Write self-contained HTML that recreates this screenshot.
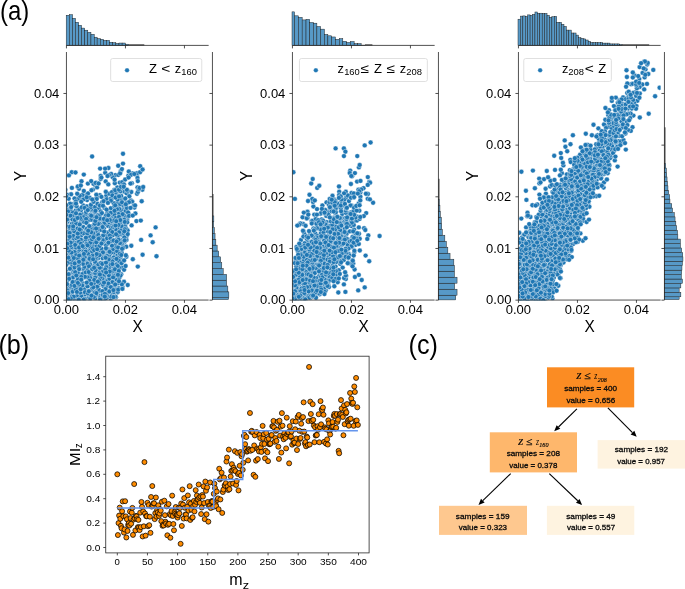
<!DOCTYPE html>
<html><head><meta charset="utf-8"><style>
html,body{margin:0;padding:0;background:#fff;overflow:hidden}
svg{display:block;will-change:transform}
text{font-family:'Liberation Sans',sans-serif;fill:#000}
</style></head><body>
<svg width="685" height="589" viewBox="0 0 685 589">
<clipPath id="c0"><rect x="66.45" y="52" width="142.2" height="248.15"/></clipPath><g clip-path="url(#c0)" fill="#1f77b4" stroke="#fff" stroke-width="0.4"><circle cx="112.3" cy="294.2" r="2.45"/><circle cx="136.4" cy="221.1" r="2.45"/><circle cx="111.5" cy="248.1" r="2.45"/><circle cx="122.5" cy="191.2" r="2.45"/><circle cx="66.7" cy="298.2" r="2.45"/><circle cx="99.8" cy="195.2" r="2.45"/><circle cx="137" cy="193.7" r="2.45"/><circle cx="99.7" cy="251.9" r="2.45"/><circle cx="104.2" cy="243.4" r="2.45"/><circle cx="122.5" cy="287" r="2.45"/><circle cx="86.2" cy="232.4" r="2.45"/><circle cx="88.5" cy="260.9" r="2.45"/><circle cx="122.7" cy="235.4" r="2.45"/><circle cx="123.7" cy="204.6" r="2.45"/><circle cx="87.9" cy="183.6" r="2.45"/><circle cx="69.6" cy="269.1" r="2.45"/><circle cx="126.5" cy="240" r="2.45"/><circle cx="103" cy="256" r="2.45"/><circle cx="87.7" cy="256.3" r="2.45"/><circle cx="91.1" cy="226.4" r="2.45"/><circle cx="128.3" cy="175.7" r="2.45"/><circle cx="102.2" cy="282.6" r="2.45"/><circle cx="89.8" cy="261" r="2.45"/><circle cx="83.2" cy="205.4" r="2.45"/><circle cx="89.3" cy="247" r="2.45"/><circle cx="107.3" cy="235.8" r="2.45"/><circle cx="72.5" cy="273" r="2.45"/><circle cx="117.4" cy="292.6" r="2.45"/><circle cx="113.3" cy="222" r="2.45"/><circle cx="85.7" cy="242.6" r="2.45"/><circle cx="86" cy="260.6" r="2.45"/><circle cx="93.6" cy="244.8" r="2.45"/><circle cx="65.4" cy="260.9" r="2.45"/><circle cx="117.6" cy="262.9" r="2.45"/><circle cx="99.1" cy="217" r="2.45"/><circle cx="91.7" cy="287.5" r="2.45"/><circle cx="82.6" cy="286.9" r="2.45"/><circle cx="97.5" cy="264" r="2.45"/><circle cx="116.4" cy="282.6" r="2.45"/><circle cx="131.3" cy="192" r="2.45"/><circle cx="110.7" cy="234" r="2.45"/><circle cx="116.3" cy="279.4" r="2.45"/><circle cx="91" cy="252.5" r="2.45"/><circle cx="66" cy="270.9" r="2.45"/><circle cx="121.1" cy="199.8" r="2.45"/><circle cx="85.5" cy="232.2" r="2.45"/><circle cx="114.7" cy="209.8" r="2.45"/><circle cx="67.6" cy="221.7" r="2.45"/><circle cx="125" cy="225.6" r="2.45"/><circle cx="109.6" cy="290.4" r="2.45"/><circle cx="64.3" cy="238.2" r="2.45"/><circle cx="77.4" cy="297.7" r="2.45"/><circle cx="58.6" cy="213.5" r="2.45"/><circle cx="73.3" cy="242.1" r="2.45"/><circle cx="110.2" cy="213.7" r="2.45"/><circle cx="113.6" cy="266.7" r="2.45"/><circle cx="122.7" cy="216.4" r="2.45"/><circle cx="83.5" cy="270.2" r="2.45"/><circle cx="104.2" cy="279.5" r="2.45"/><circle cx="105.4" cy="234.1" r="2.45"/><circle cx="92" cy="236.5" r="2.45"/><circle cx="68.9" cy="261.2" r="2.45"/><circle cx="118.2" cy="207" r="2.45"/><circle cx="123.1" cy="209.2" r="2.45"/><circle cx="72.7" cy="250.7" r="2.45"/><circle cx="117.4" cy="232.4" r="2.45"/><circle cx="118.5" cy="288.3" r="2.45"/><circle cx="84.1" cy="265.6" r="2.45"/><circle cx="97.6" cy="234.6" r="2.45"/><circle cx="119.8" cy="212.2" r="2.45"/><circle cx="83.3" cy="227" r="2.45"/><circle cx="79.7" cy="288.4" r="2.45"/><circle cx="113" cy="250.4" r="2.45"/><circle cx="123.7" cy="199.5" r="2.45"/><circle cx="116.4" cy="194" r="2.45"/><circle cx="110.5" cy="262.5" r="2.45"/><circle cx="87" cy="223.3" r="2.45"/><circle cx="81" cy="294.5" r="2.45"/><circle cx="69.3" cy="287.7" r="2.45"/><circle cx="105.7" cy="181.4" r="2.45"/><circle cx="107.2" cy="271.6" r="2.45"/><circle cx="82.2" cy="214.2" r="2.45"/><circle cx="99.7" cy="269.4" r="2.45"/><circle cx="66" cy="276" r="2.45"/><circle cx="79.4" cy="232.1" r="2.45"/><circle cx="131.8" cy="183.3" r="2.45"/><circle cx="55.2" cy="266.2" r="2.45"/><circle cx="81.2" cy="230.5" r="2.45"/><circle cx="117.3" cy="187.5" r="2.45"/><circle cx="98.3" cy="231.2" r="2.45"/><circle cx="119.8" cy="182.6" r="2.45"/><circle cx="83" cy="297.7" r="2.45"/><circle cx="87.1" cy="200.1" r="2.45"/><circle cx="131.6" cy="225.4" r="2.45"/><circle cx="108.9" cy="250.7" r="2.45"/><circle cx="77.2" cy="260.4" r="2.45"/><circle cx="121.1" cy="219.7" r="2.45"/><circle cx="115.4" cy="175.1" r="2.45"/><circle cx="110.8" cy="208.3" r="2.45"/><circle cx="106.2" cy="198.6" r="2.45"/><circle cx="121.7" cy="250.4" r="2.45"/><circle cx="112.8" cy="240.9" r="2.45"/><circle cx="102.7" cy="258.3" r="2.45"/><circle cx="92.2" cy="276.5" r="2.45"/><circle cx="71" cy="294.8" r="2.45"/><circle cx="74.8" cy="247.7" r="2.45"/><circle cx="59" cy="282.2" r="2.45"/><circle cx="103.4" cy="299.6" r="2.45"/><circle cx="103.5" cy="292.8" r="2.45"/><circle cx="96" cy="230.9" r="2.45"/><circle cx="76.7" cy="231.2" r="2.45"/><circle cx="71.4" cy="276.5" r="2.45"/><circle cx="97.1" cy="214.9" r="2.45"/><circle cx="77.8" cy="187.2" r="2.45"/><circle cx="121.2" cy="196" r="2.45"/><circle cx="107.3" cy="248.9" r="2.45"/><circle cx="74" cy="261.4" r="2.45"/><circle cx="71.2" cy="289.4" r="2.45"/><circle cx="87.8" cy="215.5" r="2.45"/><circle cx="114.4" cy="206.3" r="2.45"/><circle cx="92.8" cy="290.4" r="2.45"/><circle cx="80.4" cy="199.2" r="2.45"/><circle cx="71" cy="238.5" r="2.45"/><circle cx="60.9" cy="212.6" r="2.45"/><circle cx="120.8" cy="258.5" r="2.45"/><circle cx="98.4" cy="241.1" r="2.45"/><circle cx="95.3" cy="298.4" r="2.45"/><circle cx="85.8" cy="214.1" r="2.45"/><circle cx="119.7" cy="199.6" r="2.45"/><circle cx="120.6" cy="234" r="2.45"/><circle cx="93.4" cy="242.2" r="2.45"/><circle cx="85.4" cy="249.1" r="2.45"/><circle cx="96.2" cy="238.6" r="2.45"/><circle cx="130.8" cy="200.5" r="2.45"/><circle cx="97.2" cy="196.9" r="2.45"/><circle cx="69.7" cy="288.9" r="2.45"/><circle cx="96.2" cy="208.5" r="2.45"/><circle cx="118.7" cy="213.2" r="2.45"/><circle cx="84.5" cy="287.9" r="2.45"/><circle cx="127.1" cy="219.8" r="2.45"/><circle cx="86.1" cy="253.7" r="2.45"/><circle cx="65.4" cy="233" r="2.45"/><circle cx="95" cy="239.2" r="2.45"/><circle cx="66.7" cy="294.8" r="2.45"/><circle cx="108.3" cy="253" r="2.45"/><circle cx="107.7" cy="267.8" r="2.45"/><circle cx="126.3" cy="213.1" r="2.45"/><circle cx="96.6" cy="291.1" r="2.45"/><circle cx="84" cy="270.4" r="2.45"/><circle cx="71.7" cy="263.9" r="2.45"/><circle cx="84" cy="245.6" r="2.45"/><circle cx="115.1" cy="253.6" r="2.45"/><circle cx="121.4" cy="240.5" r="2.45"/><circle cx="98.1" cy="254.3" r="2.45"/><circle cx="124.3" cy="215.4" r="2.45"/><circle cx="75.1" cy="299.6" r="2.45"/><circle cx="126.4" cy="256.8" r="2.45"/><circle cx="98.8" cy="208.4" r="2.45"/><circle cx="99.8" cy="296.1" r="2.45"/><circle cx="110.7" cy="298.6" r="2.45"/><circle cx="101.5" cy="196.9" r="2.45"/><circle cx="60.7" cy="245.3" r="2.45"/><circle cx="108.6" cy="261.6" r="2.45"/><circle cx="103" cy="273.9" r="2.45"/><circle cx="108.3" cy="184.4" r="2.45"/><circle cx="92.4" cy="274" r="2.45"/><circle cx="95" cy="185.1" r="2.45"/><circle cx="72.8" cy="204.2" r="2.45"/><circle cx="57.8" cy="245.2" r="2.45"/><circle cx="65.1" cy="210.2" r="2.45"/><circle cx="93.1" cy="214" r="2.45"/><circle cx="121.7" cy="262.8" r="2.45"/><circle cx="62.2" cy="289.8" r="2.45"/><circle cx="64.2" cy="276.3" r="2.45"/><circle cx="71.1" cy="228.4" r="2.45"/><circle cx="95.2" cy="275.9" r="2.45"/><circle cx="79.5" cy="254.1" r="2.45"/><circle cx="94.5" cy="273.3" r="2.45"/><circle cx="94.9" cy="199.5" r="2.45"/><circle cx="84.2" cy="259.8" r="2.45"/><circle cx="71.8" cy="255.9" r="2.45"/><circle cx="112" cy="198.7" r="2.45"/><circle cx="116.2" cy="266.3" r="2.45"/><circle cx="105.1" cy="239.6" r="2.45"/><circle cx="132.4" cy="173.4" r="2.45"/><circle cx="64.3" cy="269.5" r="2.45"/><circle cx="93.4" cy="220.3" r="2.45"/><circle cx="75" cy="233.9" r="2.45"/><circle cx="77" cy="295.7" r="2.45"/><circle cx="89.5" cy="239.6" r="2.45"/><circle cx="96.2" cy="294.7" r="2.45"/><circle cx="86.8" cy="243.6" r="2.45"/><circle cx="78.2" cy="245.2" r="2.45"/><circle cx="116.4" cy="264.5" r="2.45"/><circle cx="73.1" cy="298.4" r="2.45"/><circle cx="112.9" cy="273.2" r="2.45"/><circle cx="120.7" cy="171.2" r="2.45"/><circle cx="105.7" cy="287.9" r="2.45"/><circle cx="112.8" cy="234.4" r="2.45"/><circle cx="88.3" cy="297.8" r="2.45"/><circle cx="76.7" cy="242.9" r="2.45"/><circle cx="88" cy="218" r="2.45"/><circle cx="70.4" cy="286.6" r="2.45"/><circle cx="120.6" cy="229" r="2.45"/><circle cx="66.6" cy="273.6" r="2.45"/><circle cx="96.5" cy="275.5" r="2.45"/><circle cx="106.9" cy="264.8" r="2.45"/><circle cx="59.4" cy="253.6" r="2.45"/><circle cx="104.4" cy="275.9" r="2.45"/><circle cx="64.1" cy="212.7" r="2.45"/><circle cx="122.3" cy="182.2" r="2.45"/><circle cx="125.8" cy="255.3" r="2.45"/><circle cx="107.7" cy="297.1" r="2.45"/><circle cx="92.9" cy="231.9" r="2.45"/><circle cx="87.5" cy="207" r="2.45"/><circle cx="89.3" cy="236.3" r="2.45"/><circle cx="109.7" cy="281.2" r="2.45"/><circle cx="117.6" cy="255.2" r="2.45"/><circle cx="102.8" cy="271.1" r="2.45"/><circle cx="118.4" cy="251.4" r="2.45"/><circle cx="64.3" cy="282" r="2.45"/><circle cx="129.1" cy="214.8" r="2.45"/><circle cx="96.7" cy="267.8" r="2.45"/><circle cx="102.9" cy="275.5" r="2.45"/><circle cx="113.8" cy="284.5" r="2.45"/><circle cx="71.7" cy="172.3" r="2.45"/><circle cx="66.8" cy="278.7" r="2.45"/><circle cx="114.2" cy="190" r="2.45"/><circle cx="117.8" cy="227.7" r="2.45"/><circle cx="112.7" cy="177.2" r="2.45"/><circle cx="83.6" cy="199.3" r="2.45"/><circle cx="73.7" cy="276.3" r="2.45"/><circle cx="125.4" cy="216.4" r="2.45"/><circle cx="102.3" cy="278.7" r="2.45"/><circle cx="95.3" cy="273.1" r="2.45"/><circle cx="72.5" cy="226.8" r="2.45"/><circle cx="109.9" cy="225" r="2.45"/><circle cx="93.5" cy="228.2" r="2.45"/><circle cx="84.9" cy="294.6" r="2.45"/><circle cx="65.2" cy="222.1" r="2.45"/><circle cx="78.3" cy="224.2" r="2.45"/><circle cx="91.5" cy="266.7" r="2.45"/><circle cx="69.2" cy="228.1" r="2.45"/><circle cx="114.8" cy="183.2" r="2.45"/><circle cx="121.3" cy="230.2" r="2.45"/><circle cx="119.5" cy="277.6" r="2.45"/><circle cx="115.9" cy="297.2" r="2.45"/><circle cx="120.1" cy="258" r="2.45"/><circle cx="99.9" cy="291.3" r="2.45"/><circle cx="86.8" cy="206.4" r="2.45"/><circle cx="109.3" cy="283.3" r="2.45"/><circle cx="100.5" cy="277.4" r="2.45"/><circle cx="77.3" cy="252.9" r="2.45"/><circle cx="89.4" cy="275.3" r="2.45"/><circle cx="61.2" cy="299.4" r="2.45"/><circle cx="107.7" cy="225.8" r="2.45"/><circle cx="136.8" cy="175.4" r="2.45"/><circle cx="91.6" cy="210.1" r="2.45"/><circle cx="78.6" cy="272.8" r="2.45"/><circle cx="119.1" cy="256.9" r="2.45"/><circle cx="92.1" cy="288.6" r="2.45"/><circle cx="114" cy="292.1" r="2.45"/><circle cx="69.2" cy="215.2" r="2.45"/><circle cx="117.1" cy="202.4" r="2.45"/><circle cx="109.6" cy="267.1" r="2.45"/><circle cx="79" cy="275.8" r="2.45"/><circle cx="79.5" cy="235.8" r="2.45"/><circle cx="96.3" cy="194.8" r="2.45"/><circle cx="73.8" cy="252.6" r="2.45"/><circle cx="111.7" cy="217.9" r="2.45"/><circle cx="121.5" cy="226" r="2.45"/><circle cx="126.1" cy="228.5" r="2.45"/><circle cx="101.3" cy="267.4" r="2.45"/><circle cx="62.7" cy="243.9" r="2.45"/><circle cx="70.5" cy="232.6" r="2.45"/><circle cx="71.9" cy="223.8" r="2.45"/><circle cx="89.6" cy="197.7" r="2.45"/><circle cx="117.8" cy="237.3" r="2.45"/><circle cx="122.6" cy="204.8" r="2.45"/><circle cx="67.4" cy="280.6" r="2.45"/><circle cx="76" cy="221.1" r="2.45"/><circle cx="58.3" cy="275.2" r="2.45"/><circle cx="97.8" cy="247.4" r="2.45"/><circle cx="122.2" cy="188.3" r="2.45"/><circle cx="96.7" cy="183" r="2.45"/><circle cx="98.4" cy="285.9" r="2.45"/><circle cx="125.2" cy="179.5" r="2.45"/><circle cx="97.7" cy="221.5" r="2.45"/><circle cx="77.1" cy="281.1" r="2.45"/><circle cx="60.9" cy="271.4" r="2.45"/><circle cx="72.7" cy="237.1" r="2.45"/><circle cx="87.3" cy="269.4" r="2.45"/><circle cx="68.4" cy="254.2" r="2.45"/><circle cx="109" cy="222.2" r="2.45"/><circle cx="122.4" cy="267.8" r="2.45"/><circle cx="137" cy="173.3" r="2.45"/><circle cx="126.8" cy="235.7" r="2.45"/><circle cx="90.4" cy="278.1" r="2.45"/><circle cx="88.7" cy="258.6" r="2.45"/><circle cx="72.5" cy="277.5" r="2.45"/><circle cx="107.5" cy="212.3" r="2.45"/><circle cx="109.8" cy="275.7" r="2.45"/><circle cx="113.7" cy="257.5" r="2.45"/><circle cx="89.9" cy="232.5" r="2.45"/><circle cx="99.9" cy="298" r="2.45"/><circle cx="78.3" cy="250.9" r="2.45"/><circle cx="113.5" cy="274.4" r="2.45"/><circle cx="102.8" cy="239.9" r="2.45"/><circle cx="121.2" cy="274.3" r="2.45"/><circle cx="74" cy="238.5" r="2.45"/><circle cx="111.1" cy="296.6" r="2.45"/><circle cx="123.3" cy="245.5" r="2.45"/><circle cx="68.1" cy="219.1" r="2.45"/><circle cx="68.9" cy="208.9" r="2.45"/><circle cx="109.9" cy="258.8" r="2.45"/><circle cx="117" cy="239.5" r="2.45"/><circle cx="124.7" cy="191.7" r="2.45"/><circle cx="123.2" cy="261" r="2.45"/><circle cx="88.8" cy="251.1" r="2.45"/><circle cx="107.1" cy="232.4" r="2.45"/><circle cx="83.3" cy="251.1" r="2.45"/><circle cx="80.9" cy="210.2" r="2.45"/><circle cx="89.6" cy="293.6" r="2.45"/><circle cx="126.1" cy="206.1" r="2.45"/><circle cx="69.2" cy="226.6" r="2.45"/><circle cx="99.2" cy="289.9" r="2.45"/><circle cx="120.2" cy="191.4" r="2.45"/><circle cx="71.7" cy="263.1" r="2.45"/><circle cx="108.6" cy="278.5" r="2.45"/><circle cx="83.9" cy="289.3" r="2.45"/><circle cx="115.2" cy="286.8" r="2.45"/><circle cx="75.7" cy="210.4" r="2.45"/><circle cx="103.5" cy="286.3" r="2.45"/><circle cx="84.7" cy="277.4" r="2.45"/><circle cx="90.6" cy="248.6" r="2.45"/><circle cx="82.3" cy="240" r="2.45"/><circle cx="109.4" cy="254.9" r="2.45"/><circle cx="110.8" cy="227.8" r="2.45"/><circle cx="63" cy="222" r="2.45"/><circle cx="78" cy="209.8" r="2.45"/><circle cx="126.6" cy="193.3" r="2.45"/><circle cx="104.6" cy="208.1" r="2.45"/><circle cx="115.1" cy="275.5" r="2.45"/><circle cx="73.6" cy="284.8" r="2.45"/><circle cx="104.9" cy="224.1" r="2.45"/><circle cx="100.7" cy="175.9" r="2.45"/><circle cx="120.8" cy="210.1" r="2.45"/><circle cx="64.8" cy="280.3" r="2.45"/><circle cx="114" cy="259.9" r="2.45"/><circle cx="99.4" cy="246.7" r="2.45"/><circle cx="90" cy="264.4" r="2.45"/><circle cx="115.4" cy="229.3" r="2.45"/><circle cx="75" cy="281.7" r="2.45"/><circle cx="89.6" cy="246" r="2.45"/><circle cx="81.3" cy="293.6" r="2.45"/><circle cx="112.4" cy="261.4" r="2.45"/><circle cx="81.3" cy="235.3" r="2.45"/><circle cx="98.5" cy="228.8" r="2.45"/><circle cx="104.2" cy="263.2" r="2.45"/><circle cx="71.9" cy="267" r="2.45"/><circle cx="75.3" cy="205.5" r="2.45"/><circle cx="84.3" cy="289.4" r="2.45"/><circle cx="92.6" cy="252.7" r="2.45"/><circle cx="101.5" cy="230.1" r="2.45"/><circle cx="125.9" cy="209.9" r="2.45"/><circle cx="66.9" cy="244.6" r="2.45"/><circle cx="72.9" cy="256.5" r="2.45"/><circle cx="124.2" cy="219.7" r="2.45"/><circle cx="113.7" cy="252.3" r="2.45"/><circle cx="93.1" cy="209.8" r="2.45"/><circle cx="100.7" cy="211.5" r="2.45"/><circle cx="82.2" cy="241.3" r="2.45"/><circle cx="140.1" cy="172.2" r="2.45"/><circle cx="113.5" cy="216" r="2.45"/><circle cx="106.9" cy="281.3" r="2.45"/><circle cx="90.5" cy="214.7" r="2.45"/><circle cx="121.8" cy="221.5" r="2.45"/><circle cx="61.1" cy="265.5" r="2.45"/><circle cx="137.5" cy="177.9" r="2.45"/><circle cx="111.8" cy="221.3" r="2.45"/><circle cx="112.6" cy="246.4" r="2.45"/><circle cx="61.1" cy="268.1" r="2.45"/><circle cx="79.2" cy="209" r="2.45"/><circle cx="115.3" cy="296.6" r="2.45"/><circle cx="103.7" cy="252.8" r="2.45"/><circle cx="115.6" cy="271.7" r="2.45"/><circle cx="118" cy="283.2" r="2.45"/><circle cx="94" cy="224.8" r="2.45"/><circle cx="124.1" cy="269.8" r="2.45"/><circle cx="109.5" cy="278.7" r="2.45"/><circle cx="81.5" cy="181.3" r="2.45"/><circle cx="79.9" cy="214.6" r="2.45"/><circle cx="105.6" cy="283.9" r="2.45"/><circle cx="82.1" cy="256" r="2.45"/><circle cx="127.6" cy="190.8" r="2.45"/><circle cx="102.6" cy="219.7" r="2.45"/><circle cx="82.4" cy="274.1" r="2.45"/><circle cx="86.4" cy="194.9" r="2.45"/><circle cx="104.2" cy="223" r="2.45"/><circle cx="124" cy="281.8" r="2.45"/><circle cx="71.1" cy="194.3" r="2.45"/><circle cx="125.6" cy="266" r="2.45"/><circle cx="118.9" cy="260.8" r="2.45"/><circle cx="70" cy="247.7" r="2.45"/><circle cx="102.2" cy="202.3" r="2.45"/><circle cx="124" cy="184.5" r="2.45"/><circle cx="85.8" cy="272.4" r="2.45"/><circle cx="58.5" cy="278.5" r="2.45"/><circle cx="100" cy="215.2" r="2.45"/><circle cx="95.6" cy="236.1" r="2.45"/><circle cx="100.8" cy="243.6" r="2.45"/><circle cx="103.3" cy="251.1" r="2.45"/><circle cx="100.2" cy="263.1" r="2.45"/><circle cx="90.3" cy="242.7" r="2.45"/><circle cx="72.3" cy="212.2" r="2.45"/><circle cx="73" cy="289.9" r="2.45"/><circle cx="82.5" cy="194.9" r="2.45"/><circle cx="91.2" cy="282.1" r="2.45"/><circle cx="112.7" cy="235.4" r="2.45"/><circle cx="129.3" cy="196.3" r="2.45"/><circle cx="109.9" cy="272.5" r="2.45"/><circle cx="120.5" cy="275.5" r="2.45"/><circle cx="87.6" cy="277.5" r="2.45"/><circle cx="100.7" cy="179" r="2.45"/><circle cx="121.7" cy="252.9" r="2.45"/><circle cx="68.4" cy="240.2" r="2.45"/><circle cx="86.4" cy="229.4" r="2.45"/><circle cx="111.3" cy="252.5" r="2.45"/><circle cx="74.6" cy="252" r="2.45"/><circle cx="90.9" cy="219.8" r="2.45"/><circle cx="102.7" cy="297.3" r="2.45"/><circle cx="106.9" cy="255.9" r="2.45"/><circle cx="100.8" cy="224.9" r="2.45"/><circle cx="93" cy="189.6" r="2.45"/><circle cx="119.8" cy="222.7" r="2.45"/><circle cx="106.8" cy="244.5" r="2.45"/><circle cx="107.4" cy="271.4" r="2.45"/><circle cx="119.2" cy="209" r="2.45"/><circle cx="77.8" cy="198.7" r="2.45"/><circle cx="77.2" cy="270.2" r="2.45"/><circle cx="64.9" cy="243.4" r="2.45"/><circle cx="76.2" cy="255.3" r="2.45"/><circle cx="64" cy="295.2" r="2.45"/><circle cx="64.8" cy="239.8" r="2.45"/><circle cx="106.4" cy="195.5" r="2.45"/><circle cx="115" cy="211.7" r="2.45"/><circle cx="72.8" cy="270.2" r="2.45"/><circle cx="126.8" cy="189.7" r="2.45"/><circle cx="124.4" cy="241.9" r="2.45"/><circle cx="84.9" cy="292.2" r="2.45"/><circle cx="114.4" cy="214.7" r="2.45"/><circle cx="115.7" cy="217.9" r="2.45"/><circle cx="80.6" cy="222.7" r="2.45"/><circle cx="115.4" cy="192.3" r="2.45"/><circle cx="107.7" cy="286.3" r="2.45"/><circle cx="94.8" cy="264" r="2.45"/><circle cx="92.7" cy="255.3" r="2.45"/><circle cx="85.5" cy="283.5" r="2.45"/><circle cx="108.4" cy="168" r="2.45"/><circle cx="127" cy="202.6" r="2.45"/><circle cx="113" cy="270.7" r="2.45"/><circle cx="111.1" cy="173.9" r="2.45"/><circle cx="95.7" cy="224.6" r="2.45"/><circle cx="106.3" cy="235.7" r="2.45"/><circle cx="121.5" cy="263.2" r="2.45"/><circle cx="117.8" cy="246.2" r="2.45"/><circle cx="71" cy="247.4" r="2.45"/><circle cx="83.6" cy="233.4" r="2.45"/><circle cx="78.1" cy="267" r="2.45"/><circle cx="127.2" cy="222.3" r="2.45"/><circle cx="66" cy="251.1" r="2.45"/><circle cx="87" cy="228.6" r="2.45"/><circle cx="75.2" cy="217.3" r="2.45"/><circle cx="76.4" cy="287.3" r="2.45"/><circle cx="83.1" cy="221" r="2.45"/><circle cx="108.9" cy="275.2" r="2.45"/><circle cx="100.1" cy="299.6" r="2.45"/><circle cx="93.7" cy="280.7" r="2.45"/><circle cx="87.7" cy="220.8" r="2.45"/><circle cx="108.5" cy="232.9" r="2.45"/><circle cx="73.2" cy="235.8" r="2.45"/><circle cx="113.7" cy="203.2" r="2.45"/><circle cx="113.2" cy="249.1" r="2.45"/><circle cx="115.3" cy="245" r="2.45"/><circle cx="95" cy="211.9" r="2.45"/><circle cx="85.6" cy="239.4" r="2.45"/><circle cx="125.6" cy="211.1" r="2.45"/><circle cx="71.5" cy="284.9" r="2.45"/><circle cx="79.7" cy="195.8" r="2.45"/><circle cx="89.8" cy="299.6" r="2.45"/><circle cx="126.3" cy="246.7" r="2.45"/><circle cx="106.3" cy="267" r="2.45"/><circle cx="72.5" cy="231.3" r="2.45"/><circle cx="103.9" cy="228.6" r="2.45"/><circle cx="83.6" cy="217.3" r="2.45"/><circle cx="77.3" cy="228.5" r="2.45"/><circle cx="118.3" cy="174.9" r="2.45"/><circle cx="66.9" cy="235.8" r="2.45"/><circle cx="126.8" cy="207.9" r="2.45"/><circle cx="81.4" cy="260.9" r="2.45"/><circle cx="93.2" cy="233.3" r="2.45"/><circle cx="124.1" cy="260.4" r="2.45"/><circle cx="87.3" cy="233.5" r="2.45"/><circle cx="121.8" cy="284.3" r="2.45"/><circle cx="96.5" cy="246.3" r="2.45"/><circle cx="92.7" cy="216.2" r="2.45"/><circle cx="63.4" cy="224.4" r="2.45"/><circle cx="107.7" cy="291.2" r="2.45"/><circle cx="101.5" cy="248.7" r="2.45"/><circle cx="79.4" cy="249.6" r="2.45"/><circle cx="92.9" cy="294.6" r="2.45"/><circle cx="78.8" cy="282.4" r="2.45"/><circle cx="106" cy="245.5" r="2.45"/><circle cx="98" cy="283" r="2.45"/><circle cx="81.4" cy="296.4" r="2.45"/><circle cx="77.7" cy="272.8" r="2.45"/><circle cx="120.1" cy="234" r="2.45"/><circle cx="110.7" cy="264.7" r="2.45"/><circle cx="123.4" cy="232.9" r="2.45"/><circle cx="87.1" cy="284.1" r="2.45"/><circle cx="99.5" cy="246.1" r="2.45"/><circle cx="94.8" cy="206.9" r="2.45"/><circle cx="88" cy="193.4" r="2.45"/><circle cx="119" cy="267.5" r="2.45"/><circle cx="74.5" cy="198.5" r="2.45"/><circle cx="106.8" cy="199.2" r="2.45"/><circle cx="83.6" cy="268.2" r="2.45"/><circle cx="117.8" cy="273.7" r="2.45"/><circle cx="76.2" cy="263.7" r="2.45"/><circle cx="101.5" cy="243.5" r="2.45"/><circle cx="81.9" cy="282.8" r="2.45"/><circle cx="76.5" cy="238.4" r="2.45"/><circle cx="80.4" cy="279.6" r="2.45"/><circle cx="127.6" cy="230.4" r="2.45"/><circle cx="122.6" cy="214.2" r="2.45"/><circle cx="74.2" cy="231.3" r="2.45"/><circle cx="72.9" cy="277.6" r="2.45"/><circle cx="80.1" cy="292.6" r="2.45"/><circle cx="110.9" cy="212.7" r="2.45"/><circle cx="117.5" cy="199.4" r="2.45"/><circle cx="110.8" cy="198.7" r="2.45"/><circle cx="114.1" cy="286.1" r="2.45"/><circle cx="117" cy="209.2" r="2.45"/><circle cx="105.3" cy="269.4" r="2.45"/><circle cx="114.6" cy="179.7" r="2.45"/><circle cx="65.4" cy="189.8" r="2.45"/><circle cx="66.8" cy="255.9" r="2.45"/><circle cx="95" cy="292.5" r="2.45"/><circle cx="81.2" cy="201.8" r="2.45"/><circle cx="89.5" cy="280.7" r="2.45"/><circle cx="70.6" cy="208.9" r="2.45"/><circle cx="116.5" cy="247.2" r="2.45"/><circle cx="90.4" cy="207.3" r="2.45"/><circle cx="77.2" cy="193.7" r="2.45"/><circle cx="79.2" cy="299.6" r="2.45"/><circle cx="95.3" cy="262.4" r="2.45"/><circle cx="84.9" cy="276.8" r="2.45"/><circle cx="106.1" cy="249.3" r="2.45"/><circle cx="112.8" cy="227.4" r="2.45"/><circle cx="62.2" cy="283.3" r="2.45"/><circle cx="92" cy="239.2" r="2.45"/><circle cx="90" cy="228.5" r="2.45"/><circle cx="109.7" cy="271.5" r="2.45"/><circle cx="110.6" cy="230.4" r="2.45"/><circle cx="93.4" cy="183.8" r="2.45"/><circle cx="72.5" cy="259.9" r="2.45"/><circle cx="78.8" cy="299.6" r="2.45"/><circle cx="115.8" cy="289.6" r="2.45"/><circle cx="109.3" cy="193.7" r="2.45"/><circle cx="128.8" cy="171.5" r="2.45"/><circle cx="74.1" cy="270.2" r="2.45"/><circle cx="131.1" cy="174.8" r="2.45"/><circle cx="99.8" cy="267.7" r="2.45"/><circle cx="61.3" cy="282.9" r="2.45"/><circle cx="112" cy="192.1" r="2.45"/><circle cx="84" cy="221.9" r="2.45"/><circle cx="73.8" cy="222.7" r="2.45"/><circle cx="75.2" cy="272.1" r="2.45"/><circle cx="128.2" cy="216.5" r="2.45"/><circle cx="61.2" cy="248.5" r="2.45"/><circle cx="57.6" cy="294.4" r="2.45"/><circle cx="91" cy="204.8" r="2.45"/><circle cx="84.5" cy="266.7" r="2.45"/><circle cx="132.3" cy="201.8" r="2.45"/><circle cx="112.5" cy="282.1" r="2.45"/><circle cx="105.5" cy="289.1" r="2.45"/><circle cx="60.7" cy="294.9" r="2.45"/><circle cx="88.2" cy="253.9" r="2.45"/><circle cx="76.6" cy="206.1" r="2.45"/><circle cx="69.3" cy="259.6" r="2.45"/><circle cx="68" cy="211.5" r="2.45"/><circle cx="89.7" cy="257.3" r="2.45"/><circle cx="85.5" cy="251.6" r="2.45"/><circle cx="112.4" cy="195.4" r="2.45"/><circle cx="59.3" cy="274.9" r="2.45"/><circle cx="86.1" cy="218.9" r="2.45"/><circle cx="80.7" cy="239.6" r="2.45"/><circle cx="117.1" cy="251.2" r="2.45"/><circle cx="119.1" cy="232.3" r="2.45"/><circle cx="68" cy="232.3" r="2.45"/><circle cx="81.8" cy="207.4" r="2.45"/><circle cx="74.5" cy="267.4" r="2.45"/><circle cx="63.2" cy="273.5" r="2.45"/><circle cx="129" cy="202.2" r="2.45"/><circle cx="92.4" cy="269.5" r="2.45"/><circle cx="82.2" cy="285.5" r="2.45"/><circle cx="115.2" cy="190.2" r="2.45"/><circle cx="124.7" cy="221.9" r="2.45"/><circle cx="81.2" cy="276.9" r="2.45"/><circle cx="72.1" cy="292.5" r="2.45"/><circle cx="72.8" cy="291.6" r="2.45"/><circle cx="64.3" cy="265.3" r="2.45"/><circle cx="77.8" cy="279" r="2.45"/><circle cx="134.5" cy="207.6" r="2.45"/><circle cx="76" cy="247.5" r="2.45"/><circle cx="68.1" cy="243.4" r="2.45"/><circle cx="81" cy="219.2" r="2.45"/><circle cx="99.4" cy="223.5" r="2.45"/><circle cx="101.4" cy="177.6" r="2.45"/><circle cx="67" cy="289.9" r="2.45"/><circle cx="63" cy="298.3" r="2.45"/><circle cx="103.1" cy="235.5" r="2.45"/><circle cx="105.4" cy="257.3" r="2.45"/><circle cx="107.2" cy="295" r="2.45"/><circle cx="114.3" cy="225.6" r="2.45"/><circle cx="107.2" cy="238.3" r="2.45"/><circle cx="93.8" cy="297" r="2.45"/><circle cx="88.9" cy="294.1" r="2.45"/><circle cx="130.4" cy="183.6" r="2.45"/><circle cx="112.3" cy="232.1" r="2.45"/><circle cx="96.3" cy="242.3" r="2.45"/><circle cx="119" cy="216.9" r="2.45"/><circle cx="124.8" cy="229.3" r="2.45"/><circle cx="105.2" cy="172.8" r="2.45"/><circle cx="92.2" cy="251.4" r="2.45"/><circle cx="112.4" cy="264.1" r="2.45"/><circle cx="104.2" cy="231.5" r="2.45"/><circle cx="115.6" cy="197.6" r="2.45"/><circle cx="67.4" cy="285.6" r="2.45"/><circle cx="98.1" cy="224" r="2.45"/><circle cx="98.3" cy="235" r="2.45"/><circle cx="121.9" cy="243.8" r="2.45"/><circle cx="100" cy="218.6" r="2.45"/><circle cx="114.1" cy="220.4" r="2.45"/><circle cx="108.5" cy="283.7" r="2.45"/><circle cx="97.4" cy="203.8" r="2.45"/><circle cx="118.1" cy="247.5" r="2.45"/><circle cx="87.4" cy="263.8" r="2.45"/><circle cx="128.6" cy="177.5" r="2.45"/><circle cx="110.8" cy="287.1" r="2.45"/><circle cx="91.2" cy="215.7" r="2.45"/><circle cx="89" cy="266.3" r="2.45"/><circle cx="68.9" cy="274.9" r="2.45"/><circle cx="84.6" cy="207.9" r="2.45"/><circle cx="94.8" cy="223.8" r="2.45"/><circle cx="117.7" cy="266" r="2.45"/><circle cx="78.5" cy="258.5" r="2.45"/><circle cx="99.3" cy="273.1" r="2.45"/><circle cx="89.6" cy="258.8" r="2.45"/><circle cx="99.9" cy="205.6" r="2.45"/><circle cx="75.1" cy="244.9" r="2.45"/><circle cx="98.2" cy="258.2" r="2.45"/><circle cx="76" cy="289.6" r="2.45"/><circle cx="110.9" cy="200.8" r="2.45"/><circle cx="72.5" cy="282" r="2.45"/><circle cx="86.1" cy="212" r="2.45"/><circle cx="67.7" cy="263.2" r="2.45"/><circle cx="92.7" cy="248.4" r="2.45"/><circle cx="123.1" cy="241.6" r="2.45"/><circle cx="87.5" cy="286.4" r="2.45"/><circle cx="113.1" cy="277.4" r="2.45"/><circle cx="102.6" cy="227" r="2.45"/><circle cx="106" cy="248.2" r="2.45"/><circle cx="119" cy="189.7" r="2.45"/><circle cx="82.9" cy="263.9" r="2.45"/><circle cx="91.5" cy="190.2" r="2.45"/><circle cx="64.7" cy="291.3" r="2.45"/><circle cx="123.2" cy="248" r="2.45"/><circle cx="102.4" cy="291.2" r="2.45"/><circle cx="114.9" cy="269.3" r="2.45"/><circle cx="102.9" cy="284.5" r="2.45"/><circle cx="79.1" cy="265" r="2.45"/><circle cx="99.3" cy="280.3" r="2.45"/><circle cx="56.6" cy="261" r="2.45"/><circle cx="96.1" cy="228.5" r="2.45"/><circle cx="64.7" cy="267.3" r="2.45"/><circle cx="120.2" cy="204" r="2.45"/><circle cx="69.8" cy="299.6" r="2.45"/><circle cx="79" cy="241.7" r="2.45"/><circle cx="120.1" cy="173.4" r="2.45"/><circle cx="111.9" cy="245.6" r="2.45"/><circle cx="96.6" cy="257.4" r="2.45"/><circle cx="65.6" cy="258.1" r="2.45"/><circle cx="68.6" cy="274.2" r="2.45"/><circle cx="86.7" cy="282.6" r="2.45"/><circle cx="65.7" cy="225.7" r="2.45"/><circle cx="86.7" cy="197.3" r="2.45"/><circle cx="102.9" cy="252.4" r="2.45"/><circle cx="109.8" cy="235.6" r="2.45"/><circle cx="133.9" cy="205.5" r="2.45"/><circle cx="105.7" cy="298.4" r="2.45"/><circle cx="88" cy="293.4" r="2.45"/><circle cx="66" cy="265.1" r="2.45"/><circle cx="67.5" cy="294.8" r="2.45"/><circle cx="70.4" cy="245.3" r="2.45"/><circle cx="72.3" cy="215.8" r="2.45"/><circle cx="65.4" cy="217.4" r="2.45"/><circle cx="98.2" cy="264.3" r="2.45"/><circle cx="117.8" cy="291.8" r="2.45"/><circle cx="120" cy="243.1" r="2.45"/><circle cx="137.9" cy="191.9" r="2.45"/><circle cx="108" cy="215.9" r="2.45"/><circle cx="103" cy="205.8" r="2.45"/><circle cx="142.4" cy="189.7" r="2.45"/><circle cx="109.6" cy="251.8" r="2.45"/><circle cx="69.9" cy="268.7" r="2.45"/><circle cx="95.5" cy="259.9" r="2.45"/><circle cx="105.8" cy="191.8" r="2.45"/><circle cx="80.1" cy="218" r="2.45"/><circle cx="61.2" cy="287.8" r="2.45"/><circle cx="68.4" cy="257.6" r="2.45"/><circle cx="59.7" cy="291.1" r="2.45"/><circle cx="128.1" cy="212.5" r="2.45"/><circle cx="71.4" cy="252.6" r="2.45"/><circle cx="61.1" cy="256.5" r="2.45"/><circle cx="56.5" cy="283.7" r="2.45"/><circle cx="106.4" cy="293.6" r="2.45"/><circle cx="84.7" cy="298.9" r="2.45"/><circle cx="74.5" cy="285.9" r="2.45"/><circle cx="79.1" cy="284.6" r="2.45"/><circle cx="88.7" cy="272" r="2.45"/><circle cx="122" cy="202.3" r="2.45"/><circle cx="77.8" cy="237" r="2.45"/><circle cx="113.5" cy="297.1" r="2.45"/><circle cx="99.5" cy="255.1" r="2.45"/><circle cx="109.4" cy="291.5" r="2.45"/><circle cx="95.5" cy="270.2" r="2.45"/><circle cx="94.2" cy="283.1" r="2.45"/><circle cx="110.5" cy="238.5" r="2.45"/><circle cx="97.1" cy="187.4" r="2.45"/><circle cx="75.9" cy="201.5" r="2.45"/><circle cx="76" cy="203.6" r="2.45"/><circle cx="99.7" cy="238" r="2.45"/><circle cx="105.4" cy="216.8" r="2.45"/><circle cx="70" cy="203.6" r="2.45"/><circle cx="76.1" cy="223.5" r="2.45"/><circle cx="119.8" cy="253.8" r="2.45"/><circle cx="69.2" cy="278.8" r="2.45"/><circle cx="101.9" cy="213.1" r="2.45"/><circle cx="118.2" cy="289.6" r="2.45"/><circle cx="137.5" cy="187.4" r="2.45"/><circle cx="94.1" cy="250.1" r="2.45"/><circle cx="63.5" cy="266.9" r="2.45"/><circle cx="69" cy="216.2" r="2.45"/><circle cx="80.5" cy="232.5" r="2.45"/><circle cx="114.5" cy="210.8" r="2.45"/><circle cx="83.6" cy="247.3" r="2.45"/><circle cx="102.9" cy="294.9" r="2.45"/><circle cx="106.1" cy="215.5" r="2.45"/><circle cx="71.2" cy="207.1" r="2.45"/><circle cx="76.9" cy="291.9" r="2.45"/><circle cx="69.6" cy="233" r="2.45"/><circle cx="98.8" cy="283.3" r="2.45"/><circle cx="68.7" cy="198.7" r="2.45"/><circle cx="119.1" cy="196.4" r="2.45"/><circle cx="77.8" cy="258.5" r="2.45"/><circle cx="121.9" cy="169.1" r="2.45"/><circle cx="72.4" cy="219.4" r="2.45"/><circle cx="79" cy="188.7" r="2.45"/><circle cx="96.7" cy="199" r="2.45"/><circle cx="118.4" cy="225" r="2.45"/><circle cx="84.6" cy="257.3" r="2.45"/><circle cx="96.4" cy="293.1" r="2.45"/><circle cx="66.3" cy="205.2" r="2.45"/><circle cx="97.1" cy="286.7" r="2.45"/><circle cx="78.5" cy="267" r="2.45"/><circle cx="60.8" cy="291.7" r="2.45"/><circle cx="90.4" cy="298.3" r="2.45"/><circle cx="62.3" cy="233.9" r="2.45"/><circle cx="76" cy="213.3" r="2.45"/><circle cx="92.1" cy="156.5" r="2.45"/><circle cx="108.6" cy="259.5" r="2.45"/><circle cx="93.3" cy="287.3" r="2.45"/><circle cx="124.4" cy="237.5" r="2.45"/><circle cx="62.9" cy="261.8" r="2.45"/><circle cx="68.2" cy="293.1" r="2.45"/><circle cx="95.3" cy="220.9" r="2.45"/><circle cx="118.2" cy="165.8" r="2.45"/><circle cx="95.5" cy="210.8" r="2.45"/><circle cx="117.5" cy="235.6" r="2.45"/><circle cx="73.1" cy="228.5" r="2.45"/><circle cx="104.9" cy="293.9" r="2.45"/><circle cx="69.7" cy="236.8" r="2.45"/><circle cx="91.5" cy="295.6" r="2.45"/><circle cx="91.2" cy="232.2" r="2.45"/><circle cx="95.2" cy="277.6" r="2.45"/><circle cx="86.3" cy="222.8" r="2.45"/><circle cx="79.2" cy="269.1" r="2.45"/><circle cx="135.4" cy="213.5" r="2.45"/><circle cx="77.8" cy="233.5" r="2.45"/><circle cx="118.8" cy="271" r="2.45"/><circle cx="85.9" cy="237.6" r="2.45"/><circle cx="115.2" cy="284.5" r="2.45"/><circle cx="129" cy="215.9" r="2.45"/><circle cx="70.7" cy="242.6" r="2.45"/><circle cx="135.1" cy="205.4" r="2.45"/><circle cx="96.7" cy="254" r="2.45"/><circle cx="62.2" cy="293.3" r="2.45"/><circle cx="65.6" cy="254.2" r="2.45"/><circle cx="116.5" cy="258.9" r="2.45"/><circle cx="99.9" cy="274.5" r="2.45"/><circle cx="62.2" cy="256.8" r="2.45"/><circle cx="115.2" cy="205.3" r="2.45"/><circle cx="73.7" cy="296.6" r="2.45"/><circle cx="118.5" cy="239.8" r="2.45"/><circle cx="58.4" cy="251.7" r="2.45"/><circle cx="70.4" cy="215.6" r="2.45"/><circle cx="97.2" cy="249.3" r="2.45"/><circle cx="120.3" cy="220.1" r="2.45"/><circle cx="130.5" cy="207.9" r="2.45"/><circle cx="115.6" cy="225.5" r="2.45"/><circle cx="57.6" cy="273.9" r="2.45"/><circle cx="63.3" cy="259.9" r="2.45"/><circle cx="127.7" cy="234.1" r="2.45"/><circle cx="60.5" cy="242.9" r="2.45"/><circle cx="101" cy="262.9" r="2.45"/><circle cx="111.9" cy="241.2" r="2.45"/><circle cx="108.3" cy="215.2" r="2.45"/><circle cx="103.8" cy="218.9" r="2.45"/><circle cx="109.8" cy="220" r="2.45"/><circle cx="74.8" cy="220" r="2.45"/><circle cx="138.9" cy="189.3" r="2.45"/><circle cx="80.9" cy="243.8" r="2.45"/><circle cx="67.4" cy="243.8" r="2.45"/><circle cx="63.2" cy="237" r="2.45"/><circle cx="121.1" cy="186.8" r="2.45"/><circle cx="113.4" cy="290.1" r="2.45"/><circle cx="93.4" cy="237.3" r="2.45"/><circle cx="66.8" cy="194.6" r="2.45"/><circle cx="94.3" cy="279.9" r="2.45"/><circle cx="94.9" cy="261.7" r="2.45"/><circle cx="87.5" cy="245.3" r="2.45"/><circle cx="125.3" cy="198.5" r="2.45"/><circle cx="96.5" cy="217.2" r="2.45"/><circle cx="79.1" cy="247.5" r="2.45"/><circle cx="60.1" cy="273.5" r="2.45"/><circle cx="105.6" cy="257.8" r="2.45"/><circle cx="119" cy="281.2" r="2.45"/><circle cx="106.1" cy="272.5" r="2.45"/><circle cx="93.1" cy="259.3" r="2.45"/><circle cx="73.2" cy="226.4" r="2.45"/><circle cx="68.7" cy="250.6" r="2.45"/><circle cx="82.6" cy="246.1" r="2.45"/><circle cx="79.2" cy="255.6" r="2.45"/><circle cx="122.1" cy="248.8" r="2.45"/><circle cx="107.2" cy="220.3" r="2.45"/><circle cx="98.6" cy="238.8" r="2.45"/><circle cx="103.6" cy="201.2" r="2.45"/><circle cx="93.5" cy="201.8" r="2.45"/><circle cx="83.9" cy="253.9" r="2.45"/><circle cx="83.7" cy="299.6" r="2.45"/><circle cx="106.5" cy="209.6" r="2.45"/><circle cx="75.5" cy="172.5" r="2.45"/><circle cx="92.2" cy="199.5" r="2.45"/><circle cx="102.3" cy="263.9" r="2.45"/><circle cx="121.3" cy="255" r="2.45"/><circle cx="66.3" cy="214.8" r="2.45"/><circle cx="67.2" cy="248.2" r="2.45"/><circle cx="104.8" cy="296.6" r="2.45"/><circle cx="65" cy="285.7" r="2.45"/><circle cx="62.1" cy="249.3" r="2.45"/><circle cx="63.7" cy="286.2" r="2.45"/><circle cx="74.7" cy="263.4" r="2.45"/><circle cx="92.2" cy="269.1" r="2.45"/><circle cx="67.1" cy="219.6" r="2.45"/><circle cx="106" cy="262.6" r="2.45"/><circle cx="79.7" cy="224.5" r="2.45"/><circle cx="132.7" cy="215.6" r="2.45"/><circle cx="73.8" cy="258" r="2.45"/><circle cx="91.3" cy="283.9" r="2.45"/><circle cx="83.3" cy="259.7" r="2.45"/><circle cx="94.1" cy="267.8" r="2.45"/><circle cx="79.7" cy="229.5" r="2.45"/><circle cx="124.7" cy="240.4" r="2.45"/><circle cx="79" cy="261.8" r="2.45"/><circle cx="89.3" cy="226.2" r="2.45"/><circle cx="97.8" cy="281.6" r="2.45"/><circle cx="77.9" cy="282.9" r="2.45"/><circle cx="66.1" cy="196.3" r="2.45"/><circle cx="87.8" cy="210.1" r="2.45"/><circle cx="63.6" cy="278.4" r="2.45"/><circle cx="88.2" cy="230.7" r="2.45"/><circle cx="104" cy="282.6" r="2.45"/><circle cx="63.3" cy="252.4" r="2.45"/><circle cx="125.8" cy="204.3" r="2.45"/><circle cx="113.7" cy="240.5" r="2.45"/><circle cx="70.7" cy="298.5" r="2.45"/><circle cx="116.6" cy="241.5" r="2.45"/><circle cx="76.3" cy="275.5" r="2.45"/><circle cx="68.5" cy="299.2" r="2.45"/><circle cx="107.9" cy="202.9" r="2.45"/><circle cx="124.3" cy="231.3" r="2.45"/><circle cx="117.9" cy="274.8" r="2.45"/><circle cx="81.3" cy="279.7" r="2.45"/><circle cx="80.7" cy="289.3" r="2.45"/><circle cx="67.1" cy="284.1" r="2.45"/><circle cx="77.6" cy="218" r="2.45"/><circle cx="116.1" cy="234.3" r="2.45"/><circle cx="123.7" cy="186.7" r="2.45"/><circle cx="116.2" cy="221.2" r="2.45"/><circle cx="108.5" cy="242.7" r="2.45"/><circle cx="88.8" cy="291.2" r="2.45"/><circle cx="150.6" cy="235.4" r="2.45"/><circle cx="152.7" cy="242.3" r="2.45"/><circle cx="155.6" cy="227.4" r="2.45"/><circle cx="156.5" cy="256.2" r="2.45"/><circle cx="137.8" cy="266.6" r="2.45"/><circle cx="142.6" cy="254.7" r="2.45"/><circle cx="127.7" cy="285" r="2.45"/><circle cx="122.4" cy="288.9" r="2.45"/><circle cx="132.8" cy="259.2" r="2.45"/><circle cx="131.3" cy="245.8" r="2.45"/><circle cx="141.1" cy="239.9" r="2.45"/><circle cx="140.8" cy="220.6" r="2.45"/><circle cx="141.7" cy="201.3" r="2.45"/><circle cx="139.6" cy="187.9" r="2.45"/><circle cx="143.2" cy="187" r="2.45"/><circle cx="137.8" cy="181.1" r="2.45"/><circle cx="134.3" cy="174" r="2.45"/><circle cx="140.2" cy="166.2" r="2.45"/><circle cx="142.6" cy="169.5" r="2.45"/><circle cx="123" cy="153.8" r="2.45"/><circle cx="123" cy="163.6" r="2.45"/><circle cx="109" cy="175.1" r="2.45"/><circle cx="105.1" cy="168.6" r="2.45"/><circle cx="100.1" cy="168.6" r="2.45"/><circle cx="83.8" cy="174.6" r="2.45"/><circle cx="68.9" cy="175.4" r="2.45"/><circle cx="71.9" cy="187.9" r="2.45"/><circle cx="77.8" cy="186.4" r="2.45"/><circle cx="80.8" cy="185.5" r="2.45"/><circle cx="83.8" cy="190.9" r="2.45"/><circle cx="91.2" cy="181.1" r="2.45"/><circle cx="95.6" cy="182.9" r="2.45"/><circle cx="98.6" cy="183.5" r="2.45"/><circle cx="107.5" cy="176" r="2.45"/></g><g fill="#5799c7" stroke="#1a1a1a" stroke-width="0.45"><rect x="66.19" y="15.24" width="3.15" height="30.16"/><rect x="69.34" y="14.66" width="3.27" height="30.74"/><rect x="72.61" y="18.28" width="2.92" height="27.12"/><rect x="75.53" y="22.25" width="3.15" height="23.15"/><rect x="78.69" y="25.28" width="2.92" height="20.12"/><rect x="81.61" y="28.09" width="3.15" height="17.31"/><rect x="84.76" y="30.19" width="3.04" height="15.21"/><rect x="87.8" y="32.29" width="3.15" height="13.11"/><rect x="90.95" y="34.28" width="3.27" height="11.12"/><rect x="94.22" y="37.2" width="2.92" height="8.2"/><rect x="97.14" y="38.6" width="3.15" height="6.8"/><rect x="100.29" y="39.3" width="3.15" height="6.1"/><rect x="103.45" y="40.35" width="3.04" height="5.05"/><rect x="106.48" y="40.35" width="3.15" height="5.05"/><rect x="109.64" y="42.22" width="3.15" height="3.18"/><rect x="112.79" y="42.69" width="3.04" height="2.71"/><rect x="115.82" y="43.39" width="3.15" height="2.01"/><rect x="118.98" y="43.04" width="3.15" height="2.36"/><rect x="122.13" y="43.04" width="3.27" height="2.36"/><rect x="125.4" y="44.2" width="3.27" height="1.2"/></g><g fill="#5799c7" stroke="#1a1a1a" stroke-width="0.45"><rect x="212.45" y="297.7" width="16.2" height="1.9"/><rect x="212.45" y="291.86" width="16.4" height="5.84"/><rect x="212.45" y="286.02" width="15.4" height="5.84"/><rect x="212.45" y="280.18" width="14.2" height="5.84"/><rect x="212.45" y="274.34" width="14.2" height="5.84"/><rect x="212.45" y="268.5" width="10.75" height="5.84"/><rect x="212.45" y="262.66" width="9.35" height="5.84"/><rect x="212.45" y="256.82" width="8.2" height="5.84"/><rect x="212.45" y="250.98" width="6.3" height="5.84"/><rect x="212.45" y="245.14" width="4.7" height="5.84"/><rect x="212.45" y="239.3" width="3.4" height="5.84"/><rect x="212.45" y="233.46" width="2.6" height="5.84"/><rect x="212.45" y="227.62" width="1.9" height="5.84"/><rect x="212.45" y="221.78" width="1.2" height="5.84"/><rect x="212.45" y="215.94" width="1.4" height="5.84"/></g><line x1="128.67" y1="44.9" x2="144.3" y2="44.9" stroke="#1a1a1a" stroke-width="0.9"/><line x1="212.95" y1="194" x2="212.95" y2="215.94" stroke="#1a1a1a" stroke-width="0.9"/><path d="M66.45 52V300.05H208.65M66.45 45.4H208.65M212.45 52V300.05M63.45 300.15H66.45M209.45 300.15H212.45M63.45 248.48H66.45M209.45 248.48H212.45M63.45 196.81H66.45M209.45 196.81H212.45M63.45 145.14H66.45M209.45 145.14H212.45M63.45 93.47H66.45M209.45 93.47H212.45M66.45 300.05V302.85M66.45 45.4V48.4M125.45 300.05V302.85M125.45 45.4V48.4M184.45 300.05V302.85M184.45 45.4V48.4" stroke="#262626" stroke-width="0.8" fill="none"/><text x="34.05" y="304.25" font-size="12.32" textLength="25.33" lengthAdjust="spacingAndGlyphs">0.00</text><text x="34.06" y="252.58" font-size="12.32" textLength="25.16" lengthAdjust="spacingAndGlyphs">0.01</text><text x="34.06" y="200.91" font-size="12.32" textLength="25.07" lengthAdjust="spacingAndGlyphs">0.02</text><text x="34.06" y="149.24" font-size="12.32" textLength="25.21" lengthAdjust="spacingAndGlyphs">0.03</text><text x="34.05" y="97.57" font-size="12.32" textLength="25.31" lengthAdjust="spacingAndGlyphs">0.04</text><text x="53.77" y="313.5" font-size="12.32" textLength="25.33" lengthAdjust="spacingAndGlyphs">0.00</text><text x="112.77" y="313.5" font-size="12.32" textLength="25.07" lengthAdjust="spacingAndGlyphs">0.02</text><text x="171.77" y="313.5" font-size="12.32" textLength="25.31" lengthAdjust="spacingAndGlyphs">0.04</text><text x="132.39" y="332.2" font-size="16.35" textLength="10.27" lengthAdjust="spacingAndGlyphs">X</text><text x="15.61" y="181.7" font-size="16.35" textLength="10.11" lengthAdjust="spacingAndGlyphs" transform="rotate(-90 20.65 176.07)">Y</text><rect x="110.65" y="58.5" width="91.1" height="23" rx="2" fill="#fff" stroke="#d8d8d8" stroke-width="0.8"/><circle cx="127.05" cy="70.3" r="2.3" fill="#1f77b4" stroke="#fff" stroke-width="0.3"/><text x="148.97" y="73" font-size="12.74" textLength="7.97" lengthAdjust="spacingAndGlyphs">Z</text><text x="161.37" y="73" font-size="12.74" textLength="9.07" lengthAdjust="spacingAndGlyphs">&lt;</text><text x="174.75" y="73" font-size="12.74" textLength="6.44" lengthAdjust="spacingAndGlyphs">z</text><text x="181.28" y="74.9" font-size="8.92" textLength="15.62" lengthAdjust="spacingAndGlyphs">160</text><clipPath id="c1"><rect x="292.45" y="52" width="142.2" height="248.15"/></clipPath><g clip-path="url(#c1)" fill="#1f77b4" stroke="#fff" stroke-width="0.4"><circle cx="328.6" cy="281.4" r="2.45"/><circle cx="299.2" cy="293" r="2.45"/><circle cx="350.5" cy="263.5" r="2.45"/><circle cx="303" cy="272.3" r="2.45"/><circle cx="373.1" cy="202.7" r="2.45"/><circle cx="297.4" cy="295.3" r="2.45"/><circle cx="319.7" cy="280.8" r="2.45"/><circle cx="339" cy="186.5" r="2.45"/><circle cx="303.5" cy="231.5" r="2.45"/><circle cx="341" cy="226.2" r="2.45"/><circle cx="307.6" cy="217.7" r="2.45"/><circle cx="350.9" cy="212.4" r="2.45"/><circle cx="303.1" cy="224" r="2.45"/><circle cx="301.1" cy="271.8" r="2.45"/><circle cx="298.3" cy="268.8" r="2.45"/><circle cx="316.6" cy="282.2" r="2.45"/><circle cx="338.8" cy="270.3" r="2.45"/><circle cx="318.9" cy="259.7" r="2.45"/><circle cx="333.4" cy="250.1" r="2.45"/><circle cx="346.2" cy="276.1" r="2.45"/><circle cx="329" cy="279.8" r="2.45"/><circle cx="322.1" cy="255.5" r="2.45"/><circle cx="326.7" cy="249.8" r="2.45"/><circle cx="311.7" cy="281" r="2.45"/><circle cx="298.6" cy="275.9" r="2.45"/><circle cx="334.5" cy="233" r="2.45"/><circle cx="309.4" cy="292.5" r="2.45"/><circle cx="328.5" cy="285.4" r="2.45"/><circle cx="322.4" cy="266.8" r="2.45"/><circle cx="350.8" cy="242.8" r="2.45"/><circle cx="307.9" cy="241.6" r="2.45"/><circle cx="320.5" cy="213.9" r="2.45"/><circle cx="325.6" cy="263.8" r="2.45"/><circle cx="319.7" cy="260.3" r="2.45"/><circle cx="328.3" cy="265.5" r="2.45"/><circle cx="344.8" cy="234.7" r="2.45"/><circle cx="317" cy="253.9" r="2.45"/><circle cx="303.7" cy="299.7" r="2.45"/><circle cx="306.6" cy="277.7" r="2.45"/><circle cx="324.6" cy="248.2" r="2.45"/><circle cx="308.3" cy="250.4" r="2.45"/><circle cx="330" cy="237.1" r="2.45"/><circle cx="311.6" cy="220.9" r="2.45"/><circle cx="321.6" cy="227.1" r="2.45"/><circle cx="307.5" cy="211.8" r="2.45"/><circle cx="294.3" cy="277.8" r="2.45"/><circle cx="345.9" cy="198" r="2.45"/><circle cx="303.3" cy="248.4" r="2.45"/><circle cx="333.1" cy="244.9" r="2.45"/><circle cx="307.3" cy="285.2" r="2.45"/><circle cx="326.2" cy="215.9" r="2.45"/><circle cx="354.2" cy="252.6" r="2.45"/><circle cx="313.7" cy="221.8" r="2.45"/><circle cx="336.3" cy="229.9" r="2.45"/><circle cx="354" cy="221.5" r="2.45"/><circle cx="325.3" cy="240.9" r="2.45"/><circle cx="319.5" cy="229.3" r="2.45"/><circle cx="351.6" cy="205.8" r="2.45"/><circle cx="339" cy="260.7" r="2.45"/><circle cx="326.9" cy="226.8" r="2.45"/><circle cx="319.7" cy="274.4" r="2.45"/><circle cx="346.3" cy="234.5" r="2.45"/><circle cx="308.3" cy="271.9" r="2.45"/><circle cx="341.9" cy="232.7" r="2.45"/><circle cx="314.5" cy="246.2" r="2.45"/><circle cx="323.2" cy="243.9" r="2.45"/><circle cx="355.7" cy="244.8" r="2.45"/><circle cx="292.5" cy="296.3" r="2.45"/><circle cx="341.3" cy="201" r="2.45"/><circle cx="331" cy="255" r="2.45"/><circle cx="315.9" cy="236.8" r="2.45"/><circle cx="345.7" cy="257.7" r="2.45"/><circle cx="312.5" cy="220.9" r="2.45"/><circle cx="298.5" cy="260.1" r="2.45"/><circle cx="319" cy="283.7" r="2.45"/><circle cx="296.6" cy="293.5" r="2.45"/><circle cx="344.9" cy="206.1" r="2.45"/><circle cx="306.6" cy="218.5" r="2.45"/><circle cx="354.2" cy="213" r="2.45"/><circle cx="332.8" cy="252.4" r="2.45"/><circle cx="342" cy="237.1" r="2.45"/><circle cx="299.2" cy="259.6" r="2.45"/><circle cx="357" cy="220.6" r="2.45"/><circle cx="360.4" cy="196.7" r="2.45"/><circle cx="358.8" cy="244" r="2.45"/><circle cx="313.4" cy="206.5" r="2.45"/><circle cx="322.4" cy="205.5" r="2.45"/><circle cx="348.6" cy="253.7" r="2.45"/><circle cx="299.7" cy="279.6" r="2.45"/><circle cx="333.2" cy="241.5" r="2.45"/><circle cx="327.7" cy="248.1" r="2.45"/><circle cx="322.3" cy="272.2" r="2.45"/><circle cx="303.7" cy="281.2" r="2.45"/><circle cx="326.6" cy="222.1" r="2.45"/><circle cx="302.8" cy="258.3" r="2.45"/><circle cx="332.1" cy="205" r="2.45"/><circle cx="318.8" cy="276.6" r="2.45"/><circle cx="354" cy="197.6" r="2.45"/><circle cx="324.1" cy="231" r="2.45"/><circle cx="298.5" cy="267.5" r="2.45"/><circle cx="310.2" cy="271" r="2.45"/><circle cx="363.5" cy="188.2" r="2.45"/><circle cx="346" cy="242.7" r="2.45"/><circle cx="310.6" cy="258.3" r="2.45"/><circle cx="298.6" cy="273.8" r="2.45"/><circle cx="316.5" cy="255.5" r="2.45"/><circle cx="326.5" cy="202.4" r="2.45"/><circle cx="339.2" cy="206" r="2.45"/><circle cx="306.5" cy="297.2" r="2.45"/><circle cx="301.6" cy="293" r="2.45"/><circle cx="313.2" cy="270.6" r="2.45"/><circle cx="340.6" cy="258.4" r="2.45"/><circle cx="337.7" cy="282.2" r="2.45"/><circle cx="321.7" cy="219.5" r="2.45"/><circle cx="325.8" cy="268.3" r="2.45"/><circle cx="339.2" cy="191.7" r="2.45"/><circle cx="338.8" cy="246.9" r="2.45"/><circle cx="312.8" cy="258.1" r="2.45"/><circle cx="306.7" cy="282" r="2.45"/><circle cx="312.2" cy="274" r="2.45"/><circle cx="348.4" cy="244.8" r="2.45"/><circle cx="351.3" cy="226.1" r="2.45"/><circle cx="345.8" cy="191.8" r="2.45"/><circle cx="306.6" cy="260.6" r="2.45"/><circle cx="344" cy="199.9" r="2.45"/><circle cx="308.2" cy="296.2" r="2.45"/><circle cx="309.4" cy="265.6" r="2.45"/><circle cx="359.3" cy="210.7" r="2.45"/><circle cx="350.5" cy="205.4" r="2.45"/><circle cx="305.6" cy="225.8" r="2.45"/><circle cx="315.9" cy="293.9" r="2.45"/><circle cx="336.6" cy="247.7" r="2.45"/><circle cx="299" cy="284.4" r="2.45"/><circle cx="350.4" cy="216.7" r="2.45"/><circle cx="337.3" cy="203.4" r="2.45"/><circle cx="321.2" cy="212.9" r="2.45"/><circle cx="330.1" cy="229" r="2.45"/><circle cx="313" cy="255.3" r="2.45"/><circle cx="321.2" cy="246" r="2.45"/><circle cx="301" cy="240" r="2.45"/><circle cx="329" cy="287.1" r="2.45"/><circle cx="325.9" cy="277.7" r="2.45"/><circle cx="300" cy="283.7" r="2.45"/><circle cx="299.1" cy="260.2" r="2.45"/><circle cx="315.4" cy="233.4" r="2.45"/><circle cx="320.8" cy="277" r="2.45"/><circle cx="302.6" cy="297" r="2.45"/><circle cx="330.7" cy="226.6" r="2.45"/><circle cx="332.3" cy="263.3" r="2.45"/><circle cx="313.4" cy="240" r="2.45"/><circle cx="335.9" cy="274.9" r="2.45"/><circle cx="299.8" cy="265.2" r="2.45"/><circle cx="367.8" cy="177.1" r="2.45"/><circle cx="356.7" cy="235.4" r="2.45"/><circle cx="347.1" cy="232.9" r="2.45"/><circle cx="303.6" cy="251" r="2.45"/><circle cx="341.9" cy="222.9" r="2.45"/><circle cx="336.8" cy="250.4" r="2.45"/><circle cx="315.4" cy="264.4" r="2.45"/><circle cx="299.6" cy="269.1" r="2.45"/><circle cx="333.3" cy="270" r="2.45"/><circle cx="342" cy="218.2" r="2.45"/><circle cx="324.7" cy="222.9" r="2.45"/><circle cx="310.1" cy="284.2" r="2.45"/><circle cx="345.3" cy="218.1" r="2.45"/><circle cx="327.3" cy="211.3" r="2.45"/><circle cx="341.8" cy="245" r="2.45"/><circle cx="304.4" cy="233.9" r="2.45"/><circle cx="337.4" cy="236.9" r="2.45"/><circle cx="344.7" cy="228.9" r="2.45"/><circle cx="324.5" cy="274.9" r="2.45"/><circle cx="327.9" cy="244.1" r="2.45"/><circle cx="303.6" cy="284.1" r="2.45"/><circle cx="297.8" cy="257.3" r="2.45"/><circle cx="352.4" cy="213.6" r="2.45"/><circle cx="327.9" cy="240" r="2.45"/><circle cx="312.7" cy="236.1" r="2.45"/><circle cx="352.1" cy="247.1" r="2.45"/><circle cx="325.1" cy="257.4" r="2.45"/><circle cx="318.5" cy="228.1" r="2.45"/><circle cx="320.9" cy="233.2" r="2.45"/><circle cx="330.3" cy="243.7" r="2.45"/><circle cx="316.1" cy="222.7" r="2.45"/><circle cx="313" cy="201.9" r="2.45"/><circle cx="309.5" cy="250.3" r="2.45"/><circle cx="359.6" cy="218.9" r="2.45"/><circle cx="296.7" cy="299.3" r="2.45"/><circle cx="367.7" cy="198.8" r="2.45"/><circle cx="341.3" cy="239.4" r="2.45"/><circle cx="308.8" cy="281.7" r="2.45"/><circle cx="313.2" cy="261.9" r="2.45"/><circle cx="340.9" cy="236.1" r="2.45"/><circle cx="303.5" cy="253.8" r="2.45"/><circle cx="294.9" cy="295.9" r="2.45"/><circle cx="311.3" cy="241.7" r="2.45"/><circle cx="345.4" cy="237.8" r="2.45"/><circle cx="353.1" cy="215.9" r="2.45"/><circle cx="310.1" cy="297.9" r="2.45"/><circle cx="320.9" cy="229.5" r="2.45"/><circle cx="334.1" cy="199.4" r="2.45"/><circle cx="296.5" cy="247" r="2.45"/><circle cx="354.6" cy="269.5" r="2.45"/><circle cx="341.6" cy="250.1" r="2.45"/><circle cx="317.4" cy="236.1" r="2.45"/><circle cx="309.2" cy="297.6" r="2.45"/><circle cx="335.7" cy="208.6" r="2.45"/><circle cx="335.1" cy="243.1" r="2.45"/><circle cx="348.2" cy="213.5" r="2.45"/><circle cx="328.9" cy="204.9" r="2.45"/><circle cx="349.5" cy="255.5" r="2.45"/><circle cx="340.3" cy="263.9" r="2.45"/><circle cx="327.8" cy="212.1" r="2.45"/><circle cx="325.2" cy="210" r="2.45"/><circle cx="314.6" cy="238.4" r="2.45"/><circle cx="334.8" cy="224.7" r="2.45"/><circle cx="306.7" cy="287.6" r="2.45"/><circle cx="344.7" cy="253.4" r="2.45"/><circle cx="296.3" cy="266.2" r="2.45"/><circle cx="329.5" cy="202.1" r="2.45"/><circle cx="333.9" cy="217.6" r="2.45"/><circle cx="350.2" cy="170.6" r="2.45"/><circle cx="321" cy="257.5" r="2.45"/><circle cx="323.1" cy="246.8" r="2.45"/><circle cx="296.4" cy="286.7" r="2.45"/><circle cx="333.8" cy="227.3" r="2.45"/><circle cx="352.9" cy="231" r="2.45"/><circle cx="313.5" cy="228.5" r="2.45"/><circle cx="336.4" cy="245.9" r="2.45"/><circle cx="304.7" cy="270.1" r="2.45"/><circle cx="360.3" cy="192.4" r="2.45"/><circle cx="364.1" cy="228.3" r="2.45"/><circle cx="340.9" cy="256.3" r="2.45"/><circle cx="337.7" cy="257.6" r="2.45"/><circle cx="302.2" cy="245.8" r="2.45"/><circle cx="303.4" cy="236.6" r="2.45"/><circle cx="343.8" cy="260.1" r="2.45"/><circle cx="300.6" cy="251.3" r="2.45"/><circle cx="309.9" cy="267.2" r="2.45"/><circle cx="299.6" cy="299.3" r="2.45"/><circle cx="333.6" cy="277.9" r="2.45"/><circle cx="327" cy="260.5" r="2.45"/><circle cx="351" cy="221.2" r="2.45"/><circle cx="324.2" cy="240.3" r="2.45"/><circle cx="311.8" cy="223.5" r="2.45"/><circle cx="310" cy="263.2" r="2.45"/><circle cx="325.6" cy="224.6" r="2.45"/><circle cx="313.2" cy="290.8" r="2.45"/><circle cx="300.1" cy="297.7" r="2.45"/><circle cx="366.2" cy="213.1" r="2.45"/><circle cx="304.7" cy="259.3" r="2.45"/><circle cx="316.5" cy="271" r="2.45"/><circle cx="303.7" cy="260.9" r="2.45"/><circle cx="303.9" cy="291" r="2.45"/><circle cx="342.2" cy="213.9" r="2.45"/><circle cx="316.9" cy="267.2" r="2.45"/><circle cx="332.3" cy="202.6" r="2.45"/><circle cx="316.5" cy="223.9" r="2.45"/><circle cx="313.9" cy="278.8" r="2.45"/><circle cx="302.7" cy="277.1" r="2.45"/><circle cx="304.5" cy="251.1" r="2.45"/><circle cx="323.7" cy="261" r="2.45"/><circle cx="335.9" cy="271" r="2.45"/><circle cx="331.2" cy="246.7" r="2.45"/><circle cx="308.8" cy="253.9" r="2.45"/><circle cx="296.3" cy="279.9" r="2.45"/><circle cx="313.4" cy="253.5" r="2.45"/><circle cx="316.7" cy="288.2" r="2.45"/><circle cx="295.8" cy="260.4" r="2.45"/><circle cx="318.8" cy="240.1" r="2.45"/><circle cx="335.6" cy="255.7" r="2.45"/><circle cx="357.1" cy="216.6" r="2.45"/><circle cx="329" cy="252.7" r="2.45"/><circle cx="325.7" cy="290.4" r="2.45"/><circle cx="354.8" cy="236" r="2.45"/><circle cx="316.2" cy="278.1" r="2.45"/><circle cx="335.4" cy="213.3" r="2.45"/><circle cx="304.7" cy="243.3" r="2.45"/><circle cx="347.7" cy="263.2" r="2.45"/><circle cx="335.8" cy="226.5" r="2.45"/><circle cx="344.5" cy="232" r="2.45"/><circle cx="347.7" cy="239.2" r="2.45"/><circle cx="348.3" cy="258.2" r="2.45"/><circle cx="301.3" cy="249" r="2.45"/><circle cx="336.3" cy="218.9" r="2.45"/><circle cx="318.4" cy="268.6" r="2.45"/><circle cx="301.1" cy="275.2" r="2.45"/><circle cx="322" cy="273.9" r="2.45"/><circle cx="352.5" cy="237" r="2.45"/><circle cx="306.7" cy="238.7" r="2.45"/><circle cx="350.7" cy="218.8" r="2.45"/><circle cx="313.4" cy="288.2" r="2.45"/><circle cx="368.3" cy="235.4" r="2.45"/><circle cx="323.1" cy="220.6" r="2.45"/><circle cx="300.2" cy="245.5" r="2.45"/><circle cx="300" cy="276.9" r="2.45"/><circle cx="323.6" cy="258.3" r="2.45"/><circle cx="336.3" cy="232" r="2.45"/><circle cx="316.2" cy="258.8" r="2.45"/><circle cx="340.2" cy="230.1" r="2.45"/><circle cx="353.5" cy="211.3" r="2.45"/><circle cx="355.4" cy="217.5" r="2.45"/><circle cx="298.2" cy="290.4" r="2.45"/><circle cx="295" cy="297.6" r="2.45"/><circle cx="330.3" cy="279.7" r="2.45"/><circle cx="322.7" cy="265.8" r="2.45"/><circle cx="332.5" cy="195.8" r="2.45"/><circle cx="307.6" cy="290.6" r="2.45"/><circle cx="320.8" cy="260.8" r="2.45"/><circle cx="317.9" cy="237.8" r="2.45"/><circle cx="353.8" cy="225.1" r="2.45"/><circle cx="335.1" cy="229.3" r="2.45"/><circle cx="330.2" cy="225.8" r="2.45"/><circle cx="312.3" cy="198.9" r="2.45"/><circle cx="358.4" cy="189.7" r="2.45"/><circle cx="361.2" cy="189.5" r="2.45"/><circle cx="310.1" cy="233.8" r="2.45"/><circle cx="351.8" cy="222.7" r="2.45"/><circle cx="308.4" cy="267.9" r="2.45"/><circle cx="324.5" cy="263.9" r="2.45"/><circle cx="312.2" cy="262.8" r="2.45"/><circle cx="328.6" cy="257" r="2.45"/><circle cx="328" cy="267.9" r="2.45"/><circle cx="305.4" cy="299.4" r="2.45"/><circle cx="319.7" cy="294.3" r="2.45"/><circle cx="320" cy="264.3" r="2.45"/><circle cx="309.1" cy="244.3" r="2.45"/><circle cx="322.6" cy="253.7" r="2.45"/><circle cx="340" cy="218.7" r="2.45"/><circle cx="320.5" cy="248" r="2.45"/><circle cx="304.7" cy="252.8" r="2.45"/><circle cx="293.8" cy="290.4" r="2.45"/><circle cx="349.2" cy="248.1" r="2.45"/><circle cx="339.9" cy="223.7" r="2.45"/><circle cx="311.8" cy="254" r="2.45"/><circle cx="332.5" cy="229.2" r="2.45"/><circle cx="324.4" cy="283.3" r="2.45"/><circle cx="306.5" cy="272" r="2.45"/><circle cx="367.3" cy="238.9" r="2.45"/><circle cx="315.7" cy="239.9" r="2.45"/><circle cx="298.4" cy="283.4" r="2.45"/><circle cx="352.5" cy="260.1" r="2.45"/><circle cx="328.5" cy="214.4" r="2.45"/><circle cx="330.5" cy="254.5" r="2.45"/><circle cx="332.4" cy="274" r="2.45"/><circle cx="301" cy="254.1" r="2.45"/><circle cx="293.4" cy="274.5" r="2.45"/><circle cx="329.7" cy="235.9" r="2.45"/><circle cx="345.8" cy="212.8" r="2.45"/><circle cx="327.4" cy="236.3" r="2.45"/><circle cx="331.1" cy="258.6" r="2.45"/><circle cx="295.5" cy="257.9" r="2.45"/><circle cx="333.1" cy="256.3" r="2.45"/><circle cx="340.8" cy="208.7" r="2.45"/><circle cx="354.1" cy="207.7" r="2.45"/><circle cx="300.2" cy="262.7" r="2.45"/><circle cx="338.9" cy="251" r="2.45"/><circle cx="331.8" cy="247.1" r="2.45"/><circle cx="345.8" cy="279.1" r="2.45"/><circle cx="354.4" cy="250.8" r="2.45"/><circle cx="309.5" cy="194.8" r="2.45"/><circle cx="348.9" cy="201.1" r="2.45"/><circle cx="335.8" cy="212.3" r="2.45"/><circle cx="323.7" cy="232.5" r="2.45"/><circle cx="332.3" cy="224.5" r="2.45"/><circle cx="340" cy="223.4" r="2.45"/><circle cx="339.8" cy="217.9" r="2.45"/><circle cx="330.4" cy="208.6" r="2.45"/><circle cx="315.7" cy="218.8" r="2.45"/><circle cx="295.8" cy="274.7" r="2.45"/><circle cx="353.7" cy="255.6" r="2.45"/><circle cx="338.6" cy="234.4" r="2.45"/><circle cx="332.6" cy="219.3" r="2.45"/><circle cx="338.7" cy="227.2" r="2.45"/><circle cx="309.2" cy="277.9" r="2.45"/><circle cx="328.1" cy="231.6" r="2.45"/><circle cx="325.5" cy="279.4" r="2.45"/><circle cx="329.7" cy="199" r="2.45"/><circle cx="330" cy="272.6" r="2.45"/><circle cx="316.9" cy="228.3" r="2.45"/><circle cx="330.9" cy="221.3" r="2.45"/><circle cx="346.7" cy="238.9" r="2.45"/><circle cx="358.7" cy="203.5" r="2.45"/><circle cx="338.1" cy="233.9" r="2.45"/><circle cx="347.6" cy="245.1" r="2.45"/><circle cx="340.9" cy="205.4" r="2.45"/><circle cx="311.8" cy="260.3" r="2.45"/><circle cx="313.4" cy="285.9" r="2.45"/><circle cx="321.1" cy="237.2" r="2.45"/><circle cx="342.3" cy="253.2" r="2.45"/><circle cx="351.5" cy="193" r="2.45"/><circle cx="326" cy="253.3" r="2.45"/><circle cx="359.8" cy="250.5" r="2.45"/><circle cx="299.3" cy="243.6" r="2.45"/><circle cx="318.6" cy="242.3" r="2.45"/><circle cx="311.4" cy="295.5" r="2.45"/><circle cx="327.8" cy="227.6" r="2.45"/><circle cx="293.4" cy="299.7" r="2.45"/><circle cx="329.3" cy="276.2" r="2.45"/><circle cx="322.5" cy="223.7" r="2.45"/><circle cx="344.6" cy="221.7" r="2.45"/><circle cx="337.9" cy="240.1" r="2.45"/><circle cx="319.2" cy="280.9" r="2.45"/><circle cx="338.3" cy="292.5" r="2.45"/><circle cx="312.9" cy="296.5" r="2.45"/><circle cx="324.3" cy="279.1" r="2.45"/><circle cx="305.1" cy="283.6" r="2.45"/><circle cx="349.8" cy="241.4" r="2.45"/><circle cx="304.7" cy="293.9" r="2.45"/><circle cx="335.4" cy="200.9" r="2.45"/><circle cx="298.6" cy="279.9" r="2.45"/><circle cx="314.7" cy="229.3" r="2.45"/><circle cx="317.6" cy="288.7" r="2.45"/><circle cx="327.6" cy="259.6" r="2.45"/><circle cx="332.1" cy="252.1" r="2.45"/><circle cx="326.3" cy="247.3" r="2.45"/><circle cx="353.2" cy="263.4" r="2.45"/><circle cx="307.7" cy="279.3" r="2.45"/><circle cx="321.1" cy="270.1" r="2.45"/><circle cx="317.4" cy="255.9" r="2.45"/><circle cx="314.8" cy="280.8" r="2.45"/><circle cx="356.8" cy="210.6" r="2.45"/><circle cx="357.1" cy="181.6" r="2.45"/><circle cx="333.9" cy="247.6" r="2.45"/><circle cx="359.2" cy="191.2" r="2.45"/><circle cx="320.6" cy="249.8" r="2.45"/><circle cx="315.9" cy="268.1" r="2.45"/><circle cx="312.8" cy="266.5" r="2.45"/><circle cx="345.8" cy="210.5" r="2.45"/><circle cx="344.8" cy="239.6" r="2.45"/><circle cx="344.9" cy="203.9" r="2.45"/><circle cx="321.8" cy="283.1" r="2.45"/><circle cx="344.1" cy="278" r="2.45"/><circle cx="314.3" cy="214.6" r="2.45"/><circle cx="338.1" cy="257.4" r="2.45"/><circle cx="351.9" cy="218.6" r="2.45"/><circle cx="319.4" cy="253.1" r="2.45"/><circle cx="355.8" cy="233.4" r="2.45"/><circle cx="324.5" cy="283.5" r="2.45"/><circle cx="359" cy="233.8" r="2.45"/><circle cx="332.3" cy="277.8" r="2.45"/><circle cx="335.5" cy="266.5" r="2.45"/><circle cx="324" cy="270.9" r="2.45"/><circle cx="351.5" cy="246.2" r="2.45"/><circle cx="300.4" cy="223.5" r="2.45"/><circle cx="341.9" cy="244.2" r="2.45"/><circle cx="314.8" cy="245.1" r="2.45"/><circle cx="341.5" cy="199.3" r="2.45"/><circle cx="312.3" cy="291.5" r="2.45"/><circle cx="309.5" cy="286.8" r="2.45"/><circle cx="347.9" cy="195.5" r="2.45"/><circle cx="318.5" cy="246.7" r="2.45"/><circle cx="308.7" cy="256.7" r="2.45"/><circle cx="296.5" cy="287.8" r="2.45"/><circle cx="323.8" cy="268" r="2.45"/><circle cx="302.3" cy="274.8" r="2.45"/><circle cx="317.4" cy="250.1" r="2.45"/><circle cx="319.8" cy="247.8" r="2.45"/><circle cx="350.9" cy="184" r="2.45"/><circle cx="367.9" cy="194" r="2.45"/><circle cx="322.3" cy="253.9" r="2.45"/><circle cx="327" cy="245.7" r="2.45"/><circle cx="308" cy="201" r="2.45"/><circle cx="306.9" cy="259.6" r="2.45"/><circle cx="334.7" cy="202.2" r="2.45"/><circle cx="331.1" cy="267.5" r="2.45"/><circle cx="333.5" cy="221.6" r="2.45"/><circle cx="338.9" cy="241" r="2.45"/><circle cx="343.4" cy="243.6" r="2.45"/><circle cx="310.9" cy="244.6" r="2.45"/><circle cx="293.1" cy="286.2" r="2.45"/><circle cx="331.7" cy="199.7" r="2.45"/><circle cx="351.6" cy="240.7" r="2.45"/><circle cx="311.8" cy="241.9" r="2.45"/><circle cx="354.1" cy="229.6" r="2.45"/><circle cx="339.4" cy="238.1" r="2.45"/><circle cx="303.7" cy="256.7" r="2.45"/><circle cx="295.5" cy="291.4" r="2.45"/><circle cx="314.8" cy="273.1" r="2.45"/><circle cx="307.1" cy="287.2" r="2.45"/><circle cx="349.9" cy="231.4" r="2.45"/><circle cx="301.5" cy="288.4" r="2.45"/><circle cx="306.8" cy="274.2" r="2.45"/><circle cx="336" cy="262.1" r="2.45"/><circle cx="348.3" cy="248.6" r="2.45"/><circle cx="295" cy="291.2" r="2.45"/><circle cx="310" cy="256" r="2.45"/><circle cx="354.2" cy="214.8" r="2.45"/><circle cx="341.4" cy="225.5" r="2.45"/><circle cx="344" cy="193.4" r="2.45"/><circle cx="305.5" cy="265" r="2.45"/><circle cx="330.7" cy="241.1" r="2.45"/><circle cx="353.2" cy="231.4" r="2.45"/><circle cx="330.6" cy="237.9" r="2.45"/><circle cx="339.9" cy="256" r="2.45"/><circle cx="293.3" cy="284.9" r="2.45"/><circle cx="314.8" cy="260" r="2.45"/><circle cx="334.4" cy="234" r="2.45"/><circle cx="323.6" cy="287.5" r="2.45"/><circle cx="301" cy="291.1" r="2.45"/><circle cx="318.2" cy="264.8" r="2.45"/><circle cx="324.7" cy="213.4" r="2.45"/><circle cx="353.9" cy="193.4" r="2.45"/><circle cx="324.7" cy="236.1" r="2.45"/><circle cx="342.7" cy="267.6" r="2.45"/><circle cx="324" cy="288.8" r="2.45"/><circle cx="297.7" cy="250.9" r="2.45"/><circle cx="296.3" cy="271.5" r="2.45"/><circle cx="359.7" cy="238.8" r="2.45"/><circle cx="311.9" cy="290.5" r="2.45"/><circle cx="339.1" cy="242.7" r="2.45"/><circle cx="317.4" cy="286.1" r="2.45"/><circle cx="322.4" cy="222.5" r="2.45"/><circle cx="319" cy="271.3" r="2.45"/><circle cx="313.6" cy="243.3" r="2.45"/><circle cx="312.7" cy="268.1" r="2.45"/><circle cx="295" cy="285.3" r="2.45"/><circle cx="302.6" cy="217.3" r="2.45"/><circle cx="326.1" cy="236.9" r="2.45"/><circle cx="345.8" cy="275.4" r="2.45"/><circle cx="327.5" cy="285.9" r="2.45"/><circle cx="304.5" cy="245.7" r="2.45"/><circle cx="346.4" cy="208.4" r="2.45"/><circle cx="313.6" cy="277.5" r="2.45"/><circle cx="330.5" cy="268.7" r="2.45"/><circle cx="318.2" cy="220.2" r="2.45"/><circle cx="346.4" cy="253.7" r="2.45"/><circle cx="348.6" cy="225.3" r="2.45"/><circle cx="314.6" cy="285.5" r="2.45"/><circle cx="292.9" cy="282.8" r="2.45"/><circle cx="346.9" cy="207.8" r="2.45"/><circle cx="306.1" cy="279.4" r="2.45"/><circle cx="319.1" cy="265.5" r="2.45"/><circle cx="330" cy="259.4" r="2.45"/><circle cx="325.5" cy="242.6" r="2.45"/><circle cx="356.3" cy="205.9" r="2.45"/><circle cx="357.3" cy="233.3" r="2.45"/><circle cx="365.9" cy="193.7" r="2.45"/><circle cx="358.9" cy="167.4" r="2.45"/><circle cx="330.3" cy="232.1" r="2.45"/><circle cx="301.7" cy="293.9" r="2.45"/><circle cx="314.2" cy="247.1" r="2.45"/><circle cx="346.7" cy="256.5" r="2.45"/><circle cx="308.8" cy="261.2" r="2.45"/><circle cx="322.5" cy="277.3" r="2.45"/><circle cx="306.8" cy="254.9" r="2.45"/><circle cx="333.8" cy="219.1" r="2.45"/><circle cx="346.1" cy="221.9" r="2.45"/><circle cx="346.6" cy="219.1" r="2.45"/><circle cx="331.7" cy="211.3" r="2.45"/><circle cx="337.4" cy="216.8" r="2.45"/><circle cx="331.8" cy="261.1" r="2.45"/><circle cx="295" cy="299.1" r="2.45"/><circle cx="321.9" cy="208.9" r="2.45"/><circle cx="319" cy="222.2" r="2.45"/><circle cx="320.2" cy="243.5" r="2.45"/><circle cx="320.6" cy="283.8" r="2.45"/><circle cx="333.6" cy="211.5" r="2.45"/><circle cx="316.9" cy="214.6" r="2.45"/><circle cx="335.5" cy="252.2" r="2.45"/><circle cx="319" cy="293.2" r="2.45"/><circle cx="302.7" cy="263.9" r="2.45"/><circle cx="310.1" cy="280.4" r="2.45"/><circle cx="349.7" cy="173" r="2.45"/><circle cx="360.3" cy="200.4" r="2.45"/><circle cx="339.8" cy="274" r="2.45"/><circle cx="345.1" cy="272.3" r="2.45"/><circle cx="300.3" cy="295.6" r="2.45"/><circle cx="345.6" cy="256.9" r="2.45"/><circle cx="299.2" cy="224.7" r="2.45"/><circle cx="324.5" cy="212.6" r="2.45"/><circle cx="296.8" cy="248.9" r="2.45"/><circle cx="293.3" cy="293.7" r="2.45"/><circle cx="311.6" cy="235.6" r="2.45"/><circle cx="334.3" cy="286.3" r="2.45"/><circle cx="314.3" cy="250.6" r="2.45"/><circle cx="352.5" cy="266.3" r="2.45"/><circle cx="323.9" cy="255" r="2.45"/><circle cx="320.8" cy="287.9" r="2.45"/><circle cx="326" cy="274.6" r="2.45"/><circle cx="333.2" cy="238.3" r="2.45"/><circle cx="307.5" cy="262.7" r="2.45"/><circle cx="307.3" cy="247.4" r="2.45"/><circle cx="298.7" cy="272.7" r="2.45"/><circle cx="316" cy="297.7" r="2.45"/><circle cx="302.4" cy="269.1" r="2.45"/><circle cx="351" cy="197.7" r="2.45"/><circle cx="311" cy="275.3" r="2.45"/><circle cx="331.2" cy="272.5" r="2.45"/><circle cx="369.3" cy="182" r="2.45"/><circle cx="299.5" cy="282.2" r="2.45"/><circle cx="315.7" cy="292.3" r="2.45"/><circle cx="329.8" cy="217.4" r="2.45"/><circle cx="341.1" cy="262.3" r="2.45"/><circle cx="304.1" cy="287.9" r="2.45"/><circle cx="354.1" cy="197.1" r="2.45"/><circle cx="356.4" cy="238.8" r="2.45"/><circle cx="370.1" cy="182.7" r="2.45"/><circle cx="292.5" cy="298.3" r="2.45"/><circle cx="306.6" cy="265.7" r="2.45"/><circle cx="304.4" cy="293" r="2.45"/><circle cx="313" cy="281.2" r="2.45"/><circle cx="305.3" cy="247.5" r="2.45"/><circle cx="310.6" cy="247.6" r="2.45"/><circle cx="321.2" cy="236.2" r="2.45"/><circle cx="333.5" cy="270.4" r="2.45"/><circle cx="345.6" cy="248.8" r="2.45"/><circle cx="324.8" cy="291.9" r="2.45"/><circle cx="303" cy="230.8" r="2.45"/><circle cx="350.6" cy="214" r="2.45"/><circle cx="320.6" cy="224.3" r="2.45"/><circle cx="345.8" cy="223.8" r="2.45"/><circle cx="293.8" cy="280" r="2.45"/><circle cx="313.8" cy="230.6" r="2.45"/><circle cx="309" cy="231.1" r="2.45"/><circle cx="345.5" cy="250.8" r="2.45"/><circle cx="333.3" cy="274.3" r="2.45"/><circle cx="293.3" cy="270.7" r="2.45"/><circle cx="321.2" cy="289.5" r="2.45"/><circle cx="308.5" cy="274.5" r="2.45"/><circle cx="317" cy="290.6" r="2.45"/><circle cx="341.4" cy="249.6" r="2.45"/><circle cx="308" cy="244.8" r="2.45"/><circle cx="341.1" cy="211.2" r="2.45"/><circle cx="339.1" cy="195.1" r="2.45"/><circle cx="308.6" cy="291.4" r="2.45"/><circle cx="328" cy="273" r="2.45"/><circle cx="329.6" cy="250.6" r="2.45"/><circle cx="333.5" cy="267.5" r="2.45"/><circle cx="315.9" cy="242.2" r="2.45"/><circle cx="300.6" cy="255" r="2.45"/><circle cx="324.2" cy="228.7" r="2.45"/><circle cx="336.8" cy="222.1" r="2.45"/><circle cx="302.7" cy="280" r="2.45"/><circle cx="310.8" cy="275.9" r="2.45"/><circle cx="329.7" cy="261.6" r="2.45"/><circle cx="309.5" cy="268.9" r="2.45"/><circle cx="335.6" cy="278.9" r="2.45"/><circle cx="321.3" cy="279.9" r="2.45"/><circle cx="306.6" cy="236.5" r="2.45"/><circle cx="333.5" cy="281.2" r="2.45"/><circle cx="327.6" cy="264.9" r="2.45"/><circle cx="354" cy="237.9" r="2.45"/><circle cx="346.9" cy="223.8" r="2.45"/><circle cx="294.8" cy="263.1" r="2.45"/><circle cx="340.7" cy="196.4" r="2.45"/><circle cx="302.8" cy="265.7" r="2.45"/><circle cx="313.1" cy="295.5" r="2.45"/><circle cx="295.1" cy="281.3" r="2.45"/><circle cx="353.6" cy="242.7" r="2.45"/><circle cx="324.4" cy="294.1" r="2.45"/><circle cx="357.3" cy="240.8" r="2.45"/><circle cx="359.6" cy="205.3" r="2.45"/><circle cx="347.1" cy="217.4" r="2.45"/><circle cx="317.1" cy="247.9" r="2.45"/><circle cx="306.8" cy="218.2" r="2.45"/><circle cx="333.6" cy="262" r="2.45"/><circle cx="324.3" cy="250.7" r="2.45"/><circle cx="338.9" cy="197.9" r="2.45"/><circle cx="357.8" cy="193.6" r="2.45"/><circle cx="296.1" cy="269.3" r="2.45"/><circle cx="348.5" cy="257.5" r="2.45"/><circle cx="325.8" cy="282.7" r="2.45"/><circle cx="338.8" cy="278.4" r="2.45"/><circle cx="365.3" cy="230" r="2.45"/><circle cx="320.8" cy="292" r="2.45"/><circle cx="352.1" cy="176.3" r="2.45"/><circle cx="293.1" cy="276.9" r="2.45"/><circle cx="308.2" cy="237.6" r="2.45"/><circle cx="328.6" cy="245.1" r="2.45"/><circle cx="298.2" cy="254.7" r="2.45"/><circle cx="346.8" cy="227.2" r="2.45"/><circle cx="326.1" cy="272.4" r="2.45"/><circle cx="298.9" cy="258" r="2.45"/><circle cx="335.8" cy="243" r="2.45"/><circle cx="329.9" cy="207.2" r="2.45"/><circle cx="304.5" cy="290" r="2.45"/><circle cx="334.7" cy="205.8" r="2.45"/><circle cx="334.4" cy="259.3" r="2.45"/><circle cx="298.8" cy="296.8" r="2.45"/><circle cx="297.6" cy="263.2" r="2.45"/><circle cx="317" cy="209.1" r="2.45"/><circle cx="316.6" cy="252" r="2.45"/><circle cx="327.4" cy="267.4" r="2.45"/><circle cx="369.9" cy="199.4" r="2.45"/><circle cx="360.5" cy="180.9" r="2.45"/><circle cx="370.6" cy="142.5" r="2.45"/><circle cx="364.7" cy="145.4" r="2.45"/><circle cx="343.9" cy="148.4" r="2.45"/><circle cx="335.6" cy="148.4" r="2.45"/><circle cx="345.4" cy="151.7" r="2.45"/><circle cx="343.9" cy="156.1" r="2.45"/><circle cx="357.3" cy="156.1" r="2.45"/><circle cx="359.7" cy="165" r="2.45"/><circle cx="293.4" cy="172.2" r="2.45"/><circle cx="294.9" cy="198.9" r="2.45"/><circle cx="379.6" cy="236" r="2.45"/><circle cx="365.6" cy="255.6" r="2.45"/><circle cx="369.2" cy="261.3" r="2.45"/><circle cx="363.8" cy="216.1" r="2.45"/><circle cx="360.3" cy="217" r="2.45"/><circle cx="358.8" cy="227.4" r="2.45"/><circle cx="352.8" cy="260.7" r="2.45"/><circle cx="358.8" cy="274.9" r="2.45"/><circle cx="354.9" cy="277" r="2.45"/><circle cx="361.7" cy="280" r="2.45"/><circle cx="364.7" cy="287.4" r="2.45"/><circle cx="358.2" cy="290.4" r="2.45"/><circle cx="345.4" cy="291.9" r="2.45"/><circle cx="343.9" cy="284.4" r="2.45"/><circle cx="311.2" cy="183.5" r="2.45"/><circle cx="312.7" cy="179" r="2.45"/><circle cx="317.2" cy="187.9" r="2.45"/><circle cx="319.3" cy="185.8" r="2.45"/><circle cx="314.8" cy="200.4" r="2.45"/><circle cx="303.8" cy="212.6" r="2.45"/><circle cx="308.3" cy="214.6" r="2.45"/><circle cx="297.3" cy="225.6" r="2.45"/><circle cx="367.7" cy="184.9" r="2.45"/><circle cx="354.9" cy="173.1" r="2.45"/><circle cx="351.3" cy="176" r="2.45"/></g><g fill="#5799c7" stroke="#1a1a1a" stroke-width="0.45"><rect x="292.01" y="11.85" width="2.57" height="33.55"/><rect x="294.58" y="15.82" width="3.85" height="29.58"/><rect x="298.43" y="17.34" width="3.74" height="28.06"/><rect x="302.17" y="19.91" width="3.85" height="25.49"/><rect x="306.02" y="19.33" width="3.74" height="26.07"/><rect x="309.76" y="22.48" width="3.62" height="22.92"/><rect x="313.38" y="23.18" width="3.5" height="22.22"/><rect x="316.88" y="26.45" width="3.74" height="18.95"/><rect x="320.62" y="29.14" width="3.85" height="16.26"/><rect x="324.47" y="34.39" width="3.39" height="11.01"/><rect x="327.86" y="35.8" width="3.85" height="9.6"/><rect x="331.72" y="36.96" width="3.74" height="8.44"/><rect x="335.45" y="39.3" width="3.85" height="6.1"/><rect x="339.31" y="38.6" width="3.5" height="6.8"/><rect x="342.81" y="41.28" width="3.74" height="4.12"/><rect x="346.55" y="42.45" width="3.85" height="2.95"/><rect x="350.4" y="41.52" width="3.74" height="3.88"/><rect x="354.14" y="43.62" width="3.5" height="1.78"/><rect x="357.64" y="43.62" width="3.5" height="1.78"/><rect x="361.15" y="45.14" width="3.85" height="0.26"/></g><g fill="#5799c7" stroke="#1a1a1a" stroke-width="0.45"><rect x="438.45" y="295.2" width="17.3" height="4.7"/><rect x="438.45" y="289.2" width="18.6" height="6"/><rect x="438.45" y="283.2" width="16.2" height="6"/><rect x="438.45" y="277.2" width="18.6" height="6"/><rect x="438.45" y="271.2" width="16" height="6"/><rect x="438.45" y="265.2" width="16" height="6"/><rect x="438.45" y="259.2" width="15.4" height="6"/><rect x="438.45" y="253.2" width="11.6" height="6"/><rect x="438.45" y="247.2" width="9.4" height="6"/><rect x="438.45" y="241.2" width="7.9" height="6"/><rect x="438.45" y="235.2" width="6.4" height="6"/><rect x="438.45" y="229.2" width="3.9" height="6"/><rect x="438.45" y="223.2" width="3.3" height="6"/><rect x="438.45" y="217.2" width="2.9" height="6"/><rect x="438.45" y="211.2" width="1.9" height="6"/><rect x="438.45" y="205.2" width="1.5" height="6"/><rect x="438.45" y="199.2" width="1" height="6"/></g><line x1="365" y1="44.9" x2="372.4" y2="44.9" stroke="#1a1a1a" stroke-width="0.9"/><line x1="438.95" y1="178.8" x2="438.95" y2="199.2" stroke="#1a1a1a" stroke-width="0.9"/><path d="M292.45 52V300.05H434.65M292.45 45.4H434.65M438.45 52V300.05M289.45 300.15H292.45M435.45 300.15H438.45M289.45 248.48H292.45M435.45 248.48H438.45M289.45 196.81H292.45M435.45 196.81H438.45M289.45 145.14H292.45M435.45 145.14H438.45M289.45 93.47H292.45M435.45 93.47H438.45M292.45 300.05V302.85M292.45 45.4V48.4M351.45 300.05V302.85M351.45 45.4V48.4M410.45 300.05V302.85M410.45 45.4V48.4" stroke="#262626" stroke-width="0.8" fill="none"/><text x="260.05" y="304.25" font-size="12.32" textLength="25.33" lengthAdjust="spacingAndGlyphs">0.00</text><text x="260.06" y="252.58" font-size="12.32" textLength="25.16" lengthAdjust="spacingAndGlyphs">0.01</text><text x="260.06" y="200.91" font-size="12.32" textLength="25.07" lengthAdjust="spacingAndGlyphs">0.02</text><text x="260.06" y="149.24" font-size="12.32" textLength="25.21" lengthAdjust="spacingAndGlyphs">0.03</text><text x="260.05" y="97.57" font-size="12.32" textLength="25.31" lengthAdjust="spacingAndGlyphs">0.04</text><text x="279.77" y="313.5" font-size="12.32" textLength="25.33" lengthAdjust="spacingAndGlyphs">0.00</text><text x="338.77" y="313.5" font-size="12.32" textLength="25.07" lengthAdjust="spacingAndGlyphs">0.02</text><text x="397.77" y="313.5" font-size="12.32" textLength="25.31" lengthAdjust="spacingAndGlyphs">0.04</text><text x="358.39" y="332.2" font-size="16.35" textLength="10.27" lengthAdjust="spacingAndGlyphs">X</text><text x="241.61" y="181.7" font-size="16.35" textLength="10.11" lengthAdjust="spacingAndGlyphs" transform="rotate(-90 246.65 176.07)">Y</text><rect x="299.45" y="58.5" width="127.9" height="23" rx="2" fill="#fff" stroke="#d8d8d8" stroke-width="0.8"/><circle cx="315.85" cy="70.3" r="2.3" fill="#1f77b4" stroke="#fff" stroke-width="0.3"/><text x="337.64" y="73" font-size="12.74" textLength="6.44" lengthAdjust="spacingAndGlyphs">z</text><text x="344.17" y="74.9" font-size="8.92" textLength="15.62" lengthAdjust="spacingAndGlyphs">160</text><text x="360.78" y="73" font-size="12.74" textLength="8.48" lengthAdjust="spacingAndGlyphs">≤</text><text x="373.97" y="73" font-size="12.74" textLength="7.97" lengthAdjust="spacingAndGlyphs">Z</text><text x="386.68" y="73" font-size="12.74" textLength="8.48" lengthAdjust="spacingAndGlyphs">≤</text><text x="399.75" y="73" font-size="12.74" textLength="6.44" lengthAdjust="spacingAndGlyphs">z</text><text x="406.19" y="74.9" font-size="8.92" textLength="15.73" lengthAdjust="spacingAndGlyphs">208</text><clipPath id="c2"><rect x="518.45" y="52" width="142.2" height="248.15"/></clipPath><g clip-path="url(#c2)" fill="#1f77b4" stroke="#fff" stroke-width="0.4"><circle cx="553.7" cy="247.2" r="2.45"/><circle cx="565.8" cy="192.4" r="2.45"/><circle cx="527.8" cy="285.4" r="2.45"/><circle cx="544.6" cy="273.8" r="2.45"/><circle cx="544" cy="275.1" r="2.45"/><circle cx="545" cy="280.1" r="2.45"/><circle cx="521" cy="325.2" r="2.45"/><circle cx="552.8" cy="185.3" r="2.45"/><circle cx="580.4" cy="233.4" r="2.45"/><circle cx="612.1" cy="136.7" r="2.45"/><circle cx="635.6" cy="92.2" r="2.45"/><circle cx="583" cy="220.7" r="2.45"/><circle cx="593.6" cy="163.2" r="2.45"/><circle cx="532.9" cy="291.5" r="2.45"/><circle cx="563.6" cy="211.3" r="2.45"/><circle cx="563.9" cy="227.1" r="2.45"/><circle cx="568.6" cy="213.7" r="2.45"/><circle cx="540.2" cy="290.8" r="2.45"/><circle cx="530.3" cy="260.9" r="2.45"/><circle cx="545.1" cy="307.6" r="2.45"/><circle cx="582.3" cy="174.3" r="2.45"/><circle cx="536.7" cy="248.4" r="2.45"/><circle cx="536.6" cy="252.8" r="2.45"/><circle cx="565.3" cy="235.1" r="2.45"/><circle cx="524.6" cy="309" r="2.45"/><circle cx="590.4" cy="174.1" r="2.45"/><circle cx="568.9" cy="250.6" r="2.45"/><circle cx="596.3" cy="196.2" r="2.45"/><circle cx="533.6" cy="272.3" r="2.45"/><circle cx="610.8" cy="157.1" r="2.45"/><circle cx="577.1" cy="163.6" r="2.45"/><circle cx="532.9" cy="170.6" r="2.45"/><circle cx="542.4" cy="284.1" r="2.45"/><circle cx="533.2" cy="272.6" r="2.45"/><circle cx="548.5" cy="280.5" r="2.45"/><circle cx="577.9" cy="231.7" r="2.45"/><circle cx="519.1" cy="297.9" r="2.45"/><circle cx="556.4" cy="264.2" r="2.45"/><circle cx="524.3" cy="303.8" r="2.45"/><circle cx="567.7" cy="188.8" r="2.45"/><circle cx="560" cy="221.6" r="2.45"/><circle cx="530.5" cy="274.6" r="2.45"/><circle cx="568.4" cy="241.6" r="2.45"/><circle cx="563.5" cy="262.6" r="2.45"/><circle cx="541" cy="300.9" r="2.45"/><circle cx="521.6" cy="290.5" r="2.45"/><circle cx="552.9" cy="271.1" r="2.45"/><circle cx="552.7" cy="199.6" r="2.45"/><circle cx="606.9" cy="162" r="2.45"/><circle cx="564.8" cy="196.6" r="2.45"/><circle cx="533.4" cy="256.6" r="2.45"/><circle cx="527.3" cy="289.6" r="2.45"/><circle cx="551.3" cy="206.3" r="2.45"/><circle cx="588.1" cy="203.2" r="2.45"/><circle cx="538.7" cy="299" r="2.45"/><circle cx="573.1" cy="244.1" r="2.45"/><circle cx="529.8" cy="245" r="2.45"/><circle cx="552.1" cy="199.3" r="2.45"/><circle cx="526.1" cy="261.3" r="2.45"/><circle cx="528.2" cy="292.6" r="2.45"/><circle cx="560" cy="232.2" r="2.45"/><circle cx="602.5" cy="157.2" r="2.45"/><circle cx="522.1" cy="286" r="2.45"/><circle cx="628.3" cy="108.6" r="2.45"/><circle cx="529.1" cy="282.6" r="2.45"/><circle cx="518.5" cy="339.1" r="2.45"/><circle cx="606" cy="126.3" r="2.45"/><circle cx="526.2" cy="324.2" r="2.45"/><circle cx="539.4" cy="183.4" r="2.45"/><circle cx="532.7" cy="295.8" r="2.45"/><circle cx="545.6" cy="268" r="2.45"/><circle cx="612.5" cy="143.9" r="2.45"/><circle cx="542.7" cy="296.4" r="2.45"/><circle cx="616.3" cy="107.6" r="2.45"/><circle cx="633.4" cy="115.6" r="2.45"/><circle cx="551.1" cy="272.5" r="2.45"/><circle cx="563.4" cy="165.4" r="2.45"/><circle cx="531.9" cy="250.6" r="2.45"/><circle cx="572.8" cy="211.9" r="2.45"/><circle cx="570.5" cy="213.2" r="2.45"/><circle cx="524.1" cy="255" r="2.45"/><circle cx="632.5" cy="127.2" r="2.45"/><circle cx="530.7" cy="321.3" r="2.45"/><circle cx="578.9" cy="213.9" r="2.45"/><circle cx="584.4" cy="150" r="2.45"/><circle cx="604" cy="124.5" r="2.45"/><circle cx="622.3" cy="103.9" r="2.45"/><circle cx="619.6" cy="110.8" r="2.45"/><circle cx="609.4" cy="137.5" r="2.45"/><circle cx="553.8" cy="277.8" r="2.45"/><circle cx="617.8" cy="102.8" r="2.45"/><circle cx="549.2" cy="260" r="2.45"/><circle cx="555" cy="169.9" r="2.45"/><circle cx="527.2" cy="216.2" r="2.45"/><circle cx="619" cy="141.1" r="2.45"/><circle cx="558.3" cy="285.7" r="2.45"/><circle cx="570.5" cy="202" r="2.45"/><circle cx="608" cy="145.3" r="2.45"/><circle cx="520" cy="331.5" r="2.45"/><circle cx="620.6" cy="113.5" r="2.45"/><circle cx="553.9" cy="265.3" r="2.45"/><circle cx="539.7" cy="268.7" r="2.45"/><circle cx="552.3" cy="285.5" r="2.45"/><circle cx="539.5" cy="287.2" r="2.45"/><circle cx="583.2" cy="166.7" r="2.45"/><circle cx="526.3" cy="341.9" r="2.45"/><circle cx="604" cy="135.3" r="2.45"/><circle cx="590.9" cy="192.2" r="2.45"/><circle cx="630.6" cy="113.5" r="2.45"/><circle cx="528.4" cy="313.5" r="2.45"/><circle cx="542.1" cy="295.2" r="2.45"/><circle cx="523.3" cy="321.5" r="2.45"/><circle cx="578.7" cy="215.9" r="2.45"/><circle cx="642.4" cy="84.5" r="2.45"/><circle cx="534.5" cy="275.9" r="2.45"/><circle cx="527.9" cy="236.5" r="2.45"/><circle cx="589.4" cy="206.7" r="2.45"/><circle cx="630.3" cy="101.3" r="2.45"/><circle cx="529.4" cy="308.7" r="2.45"/><circle cx="558.3" cy="274.9" r="2.45"/><circle cx="564.4" cy="194.9" r="2.45"/><circle cx="547.8" cy="216.6" r="2.45"/><circle cx="569.1" cy="255.7" r="2.45"/><circle cx="586.1" cy="188.1" r="2.45"/><circle cx="591.8" cy="188.6" r="2.45"/><circle cx="547.8" cy="286.3" r="2.45"/><circle cx="561" cy="258.4" r="2.45"/><circle cx="543.3" cy="240.4" r="2.45"/><circle cx="532" cy="326.1" r="2.45"/><circle cx="557.2" cy="239.4" r="2.45"/><circle cx="596.3" cy="185.8" r="2.45"/><circle cx="574.9" cy="194.1" r="2.45"/><circle cx="591.9" cy="135.3" r="2.45"/><circle cx="573.3" cy="200.4" r="2.45"/><circle cx="597.9" cy="151.7" r="2.45"/><circle cx="529.4" cy="234.2" r="2.45"/><circle cx="545.1" cy="207.3" r="2.45"/><circle cx="542.3" cy="289.7" r="2.45"/><circle cx="560.1" cy="202.1" r="2.45"/><circle cx="569.5" cy="210.4" r="2.45"/><circle cx="575.4" cy="202" r="2.45"/><circle cx="563.7" cy="256.9" r="2.45"/><circle cx="558.2" cy="192.4" r="2.45"/><circle cx="537.9" cy="276.1" r="2.45"/><circle cx="562.8" cy="213.8" r="2.45"/><circle cx="546.1" cy="221.5" r="2.45"/><circle cx="591" cy="155.3" r="2.45"/><circle cx="593.6" cy="182.8" r="2.45"/><circle cx="560" cy="203.7" r="2.45"/><circle cx="550.8" cy="203.8" r="2.45"/><circle cx="522.9" cy="278.1" r="2.45"/><circle cx="549.3" cy="254.9" r="2.45"/><circle cx="607.9" cy="152.2" r="2.45"/><circle cx="572.2" cy="205.8" r="2.45"/><circle cx="545.5" cy="212.3" r="2.45"/><circle cx="581.7" cy="181.8" r="2.45"/><circle cx="524.7" cy="241.2" r="2.45"/><circle cx="570.5" cy="235.9" r="2.45"/><circle cx="606.3" cy="145.5" r="2.45"/><circle cx="549.1" cy="240.8" r="2.45"/><circle cx="531.9" cy="278.4" r="2.45"/><circle cx="615.7" cy="142.6" r="2.45"/><circle cx="634.6" cy="75.5" r="2.45"/><circle cx="544" cy="268.5" r="2.45"/><circle cx="548.5" cy="222.2" r="2.45"/><circle cx="546.4" cy="256.4" r="2.45"/><circle cx="585.5" cy="180" r="2.45"/><circle cx="537.2" cy="241.5" r="2.45"/><circle cx="559.4" cy="235.8" r="2.45"/><circle cx="581.5" cy="202.8" r="2.45"/><circle cx="633" cy="93" r="2.45"/><circle cx="577.5" cy="236.4" r="2.45"/><circle cx="611.4" cy="118.8" r="2.45"/><circle cx="533.9" cy="300.1" r="2.45"/><circle cx="524.1" cy="373.1" r="2.45"/><circle cx="553.8" cy="249.6" r="2.45"/><circle cx="528" cy="264" r="2.45"/><circle cx="520.5" cy="305" r="2.45"/><circle cx="602.3" cy="163.4" r="2.45"/><circle cx="554.2" cy="226.7" r="2.45"/><circle cx="621.2" cy="127.8" r="2.45"/><circle cx="529" cy="237.6" r="2.45"/><circle cx="523.1" cy="262.4" r="2.45"/><circle cx="526.1" cy="227.4" r="2.45"/><circle cx="534.9" cy="298.2" r="2.45"/><circle cx="590.2" cy="158.9" r="2.45"/><circle cx="589.1" cy="174.8" r="2.45"/><circle cx="532.9" cy="228" r="2.45"/><circle cx="587" cy="199.4" r="2.45"/><circle cx="520.9" cy="248.6" r="2.45"/><circle cx="550.4" cy="214.2" r="2.45"/><circle cx="560.8" cy="192.1" r="2.45"/><circle cx="527.8" cy="325.5" r="2.45"/><circle cx="562.6" cy="238.7" r="2.45"/><circle cx="546.9" cy="214.6" r="2.45"/><circle cx="559.9" cy="211.1" r="2.45"/><circle cx="611.2" cy="143.7" r="2.45"/><circle cx="566.1" cy="181.4" r="2.45"/><circle cx="534.2" cy="312.5" r="2.45"/><circle cx="561" cy="260.9" r="2.45"/><circle cx="552.6" cy="239.7" r="2.45"/><circle cx="570.6" cy="244.3" r="2.45"/><circle cx="571.8" cy="257.1" r="2.45"/><circle cx="583.1" cy="218.6" r="2.45"/><circle cx="588.6" cy="196.2" r="2.45"/><circle cx="524.5" cy="267.5" r="2.45"/><circle cx="572.6" cy="188.5" r="2.45"/><circle cx="568.3" cy="245.4" r="2.45"/><circle cx="565.4" cy="213.8" r="2.45"/><circle cx="578.1" cy="205.8" r="2.45"/><circle cx="534" cy="324.5" r="2.45"/><circle cx="630.2" cy="118.1" r="2.45"/><circle cx="521.6" cy="319.2" r="2.45"/><circle cx="595.8" cy="151.1" r="2.45"/><circle cx="543.3" cy="239.3" r="2.45"/><circle cx="564.4" cy="197.7" r="2.45"/><circle cx="530.8" cy="275.2" r="2.45"/><circle cx="520.5" cy="241.6" r="2.45"/><circle cx="574.2" cy="177.8" r="2.45"/><circle cx="520.1" cy="275.1" r="2.45"/><circle cx="562.4" cy="193" r="2.45"/><circle cx="582.8" cy="211.6" r="2.45"/><circle cx="550.1" cy="186.5" r="2.45"/><circle cx="542.8" cy="251.5" r="2.45"/><circle cx="583.7" cy="198.1" r="2.45"/><circle cx="535.3" cy="322" r="2.45"/><circle cx="568.4" cy="243.7" r="2.45"/><circle cx="609.4" cy="139" r="2.45"/><circle cx="637.4" cy="100.7" r="2.45"/><circle cx="539.2" cy="273.7" r="2.45"/><circle cx="598.8" cy="184.8" r="2.45"/><circle cx="569.3" cy="216.6" r="2.45"/><circle cx="624" cy="105.3" r="2.45"/><circle cx="557.1" cy="188.3" r="2.45"/><circle cx="535.2" cy="312.1" r="2.45"/><circle cx="579.3" cy="178.4" r="2.45"/><circle cx="537.2" cy="258" r="2.45"/><circle cx="522.5" cy="260.4" r="2.45"/><circle cx="574.6" cy="180.8" r="2.45"/><circle cx="550.8" cy="212.1" r="2.45"/><circle cx="552.1" cy="209" r="2.45"/><circle cx="527.7" cy="253.9" r="2.45"/><circle cx="575.1" cy="161.5" r="2.45"/><circle cx="604" cy="174.1" r="2.45"/><circle cx="602" cy="153.5" r="2.45"/><circle cx="545.8" cy="289.8" r="2.45"/><circle cx="543.7" cy="203" r="2.45"/><circle cx="550.1" cy="226.2" r="2.45"/><circle cx="589.8" cy="177.9" r="2.45"/><circle cx="578.8" cy="208.7" r="2.45"/><circle cx="543.3" cy="244.5" r="2.45"/><circle cx="561.7" cy="211.7" r="2.45"/><circle cx="565.7" cy="188" r="2.45"/><circle cx="609.4" cy="127.1" r="2.45"/><circle cx="601.1" cy="171.1" r="2.45"/><circle cx="590.8" cy="176.7" r="2.45"/><circle cx="518.8" cy="253.8" r="2.45"/><circle cx="535.5" cy="292.6" r="2.45"/><circle cx="611.9" cy="125.2" r="2.45"/><circle cx="578.4" cy="199" r="2.45"/><circle cx="548.4" cy="231.7" r="2.45"/><circle cx="572.3" cy="218.1" r="2.45"/><circle cx="557.1" cy="271" r="2.45"/><circle cx="522.2" cy="313.5" r="2.45"/><circle cx="535.7" cy="232.4" r="2.45"/><circle cx="602.5" cy="163.6" r="2.45"/><circle cx="534.1" cy="247.6" r="2.45"/><circle cx="596" cy="174.6" r="2.45"/><circle cx="572.8" cy="185.4" r="2.45"/><circle cx="614.9" cy="140.3" r="2.45"/><circle cx="554.2" cy="288.3" r="2.45"/><circle cx="542.8" cy="216" r="2.45"/><circle cx="585.9" cy="208.3" r="2.45"/><circle cx="573.7" cy="226.9" r="2.45"/><circle cx="529.8" cy="269.5" r="2.45"/><circle cx="565.3" cy="248.8" r="2.45"/><circle cx="612.3" cy="146.4" r="2.45"/><circle cx="550.3" cy="234.4" r="2.45"/><circle cx="575.6" cy="204.8" r="2.45"/><circle cx="557.6" cy="339.5" r="2.45"/><circle cx="529.5" cy="231.5" r="2.45"/><circle cx="536.3" cy="217.1" r="2.45"/><circle cx="532" cy="317.2" r="2.45"/><circle cx="588.3" cy="155.2" r="2.45"/><circle cx="580.1" cy="171.2" r="2.45"/><circle cx="557.8" cy="263.7" r="2.45"/><circle cx="526.9" cy="252" r="2.45"/><circle cx="526.4" cy="199.9" r="2.45"/><circle cx="532.9" cy="316.8" r="2.45"/><circle cx="542.1" cy="244" r="2.45"/><circle cx="616.7" cy="116.6" r="2.45"/><circle cx="523.5" cy="327.9" r="2.45"/><circle cx="582.3" cy="213.5" r="2.45"/><circle cx="609.4" cy="165.4" r="2.45"/><circle cx="573.7" cy="203" r="2.45"/><circle cx="569.6" cy="178.5" r="2.45"/><circle cx="562.1" cy="198.5" r="2.45"/><circle cx="549.8" cy="214.4" r="2.45"/><circle cx="536.5" cy="245.4" r="2.45"/><circle cx="534.3" cy="240.2" r="2.45"/><circle cx="536.9" cy="260.3" r="2.45"/><circle cx="530.1" cy="283.3" r="2.45"/><circle cx="580.6" cy="202.1" r="2.45"/><circle cx="565.6" cy="194.9" r="2.45"/><circle cx="570.1" cy="240" r="2.45"/><circle cx="525.7" cy="305.1" r="2.45"/><circle cx="559.4" cy="219.6" r="2.45"/><circle cx="544.1" cy="292.6" r="2.45"/><circle cx="572.4" cy="210" r="2.45"/><circle cx="580.2" cy="191.9" r="2.45"/><circle cx="581.3" cy="185" r="2.45"/><circle cx="622.3" cy="125.8" r="2.45"/><circle cx="537.3" cy="204.5" r="2.45"/><circle cx="639.8" cy="93.5" r="2.45"/><circle cx="600.4" cy="135.2" r="2.45"/><circle cx="567.9" cy="233.9" r="2.45"/><circle cx="528.4" cy="279.7" r="2.45"/><circle cx="613.3" cy="129.9" r="2.45"/><circle cx="543.1" cy="292.2" r="2.45"/><circle cx="526" cy="332.5" r="2.45"/><circle cx="617.3" cy="146.7" r="2.45"/><circle cx="560.5" cy="228" r="2.45"/><circle cx="600.1" cy="166.3" r="2.45"/><circle cx="537.4" cy="314.4" r="2.45"/><circle cx="560.6" cy="265.5" r="2.45"/><circle cx="601" cy="177.2" r="2.45"/><circle cx="550" cy="239.8" r="2.45"/><circle cx="573.6" cy="234.9" r="2.45"/><circle cx="593.5" cy="188.7" r="2.45"/><circle cx="549.5" cy="283.4" r="2.45"/><circle cx="567.9" cy="209.7" r="2.45"/><circle cx="530.7" cy="309.3" r="2.45"/><circle cx="575.2" cy="199.6" r="2.45"/><circle cx="580" cy="183" r="2.45"/><circle cx="605.3" cy="173" r="2.45"/><circle cx="534.2" cy="308.5" r="2.45"/><circle cx="534.4" cy="307.4" r="2.45"/><circle cx="529.8" cy="270.1" r="2.45"/><circle cx="521.6" cy="322.1" r="2.45"/><circle cx="552" cy="280.3" r="2.45"/><circle cx="581.1" cy="197.2" r="2.45"/><circle cx="528.6" cy="277.4" r="2.45"/><circle cx="622.8" cy="127.4" r="2.45"/><circle cx="569.2" cy="218.1" r="2.45"/><circle cx="568.5" cy="203.4" r="2.45"/><circle cx="585.9" cy="191.1" r="2.45"/><circle cx="562.8" cy="250.8" r="2.45"/><circle cx="523.1" cy="319.8" r="2.45"/><circle cx="570.8" cy="196.7" r="2.45"/><circle cx="556.3" cy="193.2" r="2.45"/><circle cx="535.5" cy="279.6" r="2.45"/><circle cx="539.8" cy="255.1" r="2.45"/><circle cx="552.1" cy="251.9" r="2.45"/><circle cx="558.2" cy="275" r="2.45"/><circle cx="562.4" cy="247.8" r="2.45"/><circle cx="576.2" cy="186.6" r="2.45"/><circle cx="521.2" cy="311.6" r="2.45"/><circle cx="535.4" cy="235.5" r="2.45"/><circle cx="609" cy="110.2" r="2.45"/><circle cx="587.8" cy="185.3" r="2.45"/><circle cx="603.6" cy="187.6" r="2.45"/><circle cx="558.8" cy="202" r="2.45"/><circle cx="560" cy="207.1" r="2.45"/><circle cx="518.7" cy="306.9" r="2.45"/><circle cx="559.4" cy="196.7" r="2.45"/><circle cx="546.8" cy="198.3" r="2.45"/><circle cx="537.9" cy="296.2" r="2.45"/><circle cx="533" cy="286.5" r="2.45"/><circle cx="518.6" cy="332.7" r="2.45"/><circle cx="551" cy="265" r="2.45"/><circle cx="552.5" cy="259.9" r="2.45"/><circle cx="533.6" cy="265.8" r="2.45"/><circle cx="552.7" cy="280.6" r="2.45"/><circle cx="554.6" cy="228.4" r="2.45"/><circle cx="520.8" cy="355.8" r="2.45"/><circle cx="583.3" cy="194.6" r="2.45"/><circle cx="584.5" cy="182.7" r="2.45"/><circle cx="539.3" cy="234.6" r="2.45"/><circle cx="554.1" cy="261" r="2.45"/><circle cx="521.6" cy="242.9" r="2.45"/><circle cx="620.2" cy="118.6" r="2.45"/><circle cx="624" cy="111.9" r="2.45"/><circle cx="528.6" cy="343.4" r="2.45"/><circle cx="597.8" cy="178.8" r="2.45"/><circle cx="628.1" cy="113.6" r="2.45"/><circle cx="537" cy="252" r="2.45"/><circle cx="559.7" cy="208.4" r="2.45"/><circle cx="586.4" cy="177.9" r="2.45"/><circle cx="539.9" cy="262.4" r="2.45"/><circle cx="555.4" cy="266.2" r="2.45"/><circle cx="519.7" cy="259.3" r="2.45"/><circle cx="560.5" cy="184.6" r="2.45"/><circle cx="562" cy="217.1" r="2.45"/><circle cx="621.8" cy="143.8" r="2.45"/><circle cx="545.2" cy="298.2" r="2.45"/><circle cx="614.6" cy="116.8" r="2.45"/><circle cx="566.2" cy="197.1" r="2.45"/><circle cx="526.4" cy="338.4" r="2.45"/><circle cx="544.6" cy="302.8" r="2.45"/><circle cx="523.6" cy="235" r="2.45"/><circle cx="626.6" cy="121.4" r="2.45"/><circle cx="571.2" cy="251" r="2.45"/><circle cx="576.4" cy="226.4" r="2.45"/><circle cx="533.6" cy="344.3" r="2.45"/><circle cx="521" cy="338.4" r="2.45"/><circle cx="565.7" cy="229.8" r="2.45"/><circle cx="545.4" cy="275.7" r="2.45"/><circle cx="565.7" cy="255.5" r="2.45"/><circle cx="531.4" cy="264.4" r="2.45"/><circle cx="581.1" cy="162.4" r="2.45"/><circle cx="583.5" cy="163.9" r="2.45"/><circle cx="599.4" cy="141" r="2.45"/><circle cx="530.5" cy="232.1" r="2.45"/><circle cx="599.3" cy="169" r="2.45"/><circle cx="595.9" cy="169.9" r="2.45"/><circle cx="525.2" cy="328.2" r="2.45"/><circle cx="588" cy="158.4" r="2.45"/><circle cx="585.2" cy="168.4" r="2.45"/><circle cx="606.2" cy="168.2" r="2.45"/><circle cx="557.5" cy="245.4" r="2.45"/><circle cx="521.5" cy="272.6" r="2.45"/><circle cx="528.2" cy="290.5" r="2.45"/><circle cx="587.6" cy="190.5" r="2.45"/><circle cx="519.4" cy="271.4" r="2.45"/><circle cx="519" cy="294.9" r="2.45"/><circle cx="529.6" cy="334" r="2.45"/><circle cx="557" cy="204.1" r="2.45"/><circle cx="561.7" cy="196.2" r="2.45"/><circle cx="602.5" cy="148.1" r="2.45"/><circle cx="572.4" cy="198.1" r="2.45"/><circle cx="550.8" cy="247.2" r="2.45"/><circle cx="598.4" cy="128.4" r="2.45"/><circle cx="610.8" cy="138.9" r="2.45"/><circle cx="524.5" cy="300.2" r="2.45"/><circle cx="596" cy="179.4" r="2.45"/><circle cx="619.4" cy="135.9" r="2.45"/><circle cx="530.6" cy="266.9" r="2.45"/><circle cx="543.5" cy="214.9" r="2.45"/><circle cx="622.1" cy="116.7" r="2.45"/><circle cx="530.9" cy="324.6" r="2.45"/><circle cx="535.6" cy="255.5" r="2.45"/><circle cx="539.5" cy="253.9" r="2.45"/><circle cx="542.4" cy="218.8" r="2.45"/><circle cx="565.9" cy="239.7" r="2.45"/><circle cx="557.1" cy="210.3" r="2.45"/><circle cx="520.4" cy="268.3" r="2.45"/><circle cx="539.4" cy="194.6" r="2.45"/><circle cx="573.4" cy="195.6" r="2.45"/><circle cx="582.7" cy="205.3" r="2.45"/><circle cx="609.8" cy="114.2" r="2.45"/><circle cx="553.8" cy="208.1" r="2.45"/><circle cx="575.3" cy="213.9" r="2.45"/><circle cx="519.1" cy="344.5" r="2.45"/><circle cx="550" cy="258.6" r="2.45"/><circle cx="565.5" cy="234.9" r="2.45"/><circle cx="551.7" cy="255.8" r="2.45"/><circle cx="620.9" cy="141.5" r="2.45"/><circle cx="597.8" cy="160.8" r="2.45"/><circle cx="558.6" cy="256.3" r="2.45"/><circle cx="532.5" cy="317.6" r="2.45"/><circle cx="630.8" cy="130.9" r="2.45"/><circle cx="555.6" cy="206" r="2.45"/><circle cx="621.5" cy="121.4" r="2.45"/><circle cx="580.8" cy="206" r="2.45"/><circle cx="581.1" cy="210.5" r="2.45"/><circle cx="582.8" cy="240.7" r="2.45"/><circle cx="544.8" cy="258.4" r="2.45"/><circle cx="577.1" cy="229.9" r="2.45"/><circle cx="608.2" cy="115.1" r="2.45"/><circle cx="526.8" cy="310.6" r="2.45"/><circle cx="536.1" cy="229" r="2.45"/><circle cx="566.6" cy="252" r="2.45"/><circle cx="531.7" cy="294.8" r="2.45"/><circle cx="530.1" cy="306.7" r="2.45"/><circle cx="536.9" cy="239.3" r="2.45"/><circle cx="605.7" cy="152.6" r="2.45"/><circle cx="537.4" cy="226.4" r="2.45"/><circle cx="545.9" cy="193.6" r="2.45"/><circle cx="569.2" cy="199.7" r="2.45"/><circle cx="623.5" cy="140.1" r="2.45"/><circle cx="544" cy="231.5" r="2.45"/><circle cx="521.5" cy="300.9" r="2.45"/><circle cx="519" cy="277.6" r="2.45"/><circle cx="544.9" cy="224.8" r="2.45"/><circle cx="590.7" cy="152.2" r="2.45"/><circle cx="548.9" cy="268" r="2.45"/><circle cx="535.3" cy="282" r="2.45"/><circle cx="544" cy="179.2" r="2.45"/><circle cx="554.2" cy="155.8" r="2.45"/><circle cx="605.2" cy="163.9" r="2.45"/><circle cx="634.3" cy="103.1" r="2.45"/><circle cx="546.5" cy="271.4" r="2.45"/><circle cx="612" cy="133" r="2.45"/><circle cx="540.3" cy="246" r="2.45"/><circle cx="530.3" cy="329.5" r="2.45"/><circle cx="546" cy="253" r="2.45"/><circle cx="522.3" cy="328.4" r="2.45"/><circle cx="552.4" cy="298.4" r="2.45"/><circle cx="588.5" cy="163.5" r="2.45"/><circle cx="638.3" cy="81.6" r="2.45"/><circle cx="597.6" cy="187.4" r="2.45"/><circle cx="573.3" cy="169.2" r="2.45"/><circle cx="561.1" cy="222" r="2.45"/><circle cx="526.4" cy="275.7" r="2.45"/><circle cx="564.5" cy="235.2" r="2.45"/><circle cx="525.9" cy="255.8" r="2.45"/><circle cx="523.1" cy="313.3" r="2.45"/><circle cx="574.1" cy="183.5" r="2.45"/><circle cx="528.3" cy="299.8" r="2.45"/><circle cx="569" cy="196" r="2.45"/><circle cx="611.8" cy="128.8" r="2.45"/><circle cx="524.8" cy="332" r="2.45"/><circle cx="575.2" cy="212.3" r="2.45"/><circle cx="526.2" cy="253.3" r="2.45"/><circle cx="520.8" cy="344.8" r="2.45"/><circle cx="518.8" cy="266.4" r="2.45"/><circle cx="541.2" cy="216.2" r="2.45"/><circle cx="577.4" cy="194.8" r="2.45"/><circle cx="551.3" cy="232.5" r="2.45"/><circle cx="617.7" cy="125.5" r="2.45"/><circle cx="567.9" cy="318" r="2.45"/><circle cx="572.8" cy="207.1" r="2.45"/><circle cx="612.4" cy="122" r="2.45"/><circle cx="586" cy="205.1" r="2.45"/><circle cx="627.2" cy="92.9" r="2.45"/><circle cx="568" cy="249.2" r="2.45"/><circle cx="529.4" cy="332.3" r="2.45"/><circle cx="578.3" cy="174.8" r="2.45"/><circle cx="532.7" cy="259.4" r="2.45"/><circle cx="604.2" cy="158.5" r="2.45"/><circle cx="547.7" cy="255.3" r="2.45"/><circle cx="547.8" cy="203.4" r="2.45"/><circle cx="577.4" cy="221.9" r="2.45"/><circle cx="561.4" cy="246.3" r="2.45"/><circle cx="530.8" cy="237.3" r="2.45"/><circle cx="555.4" cy="242.6" r="2.45"/><circle cx="521.8" cy="293.3" r="2.45"/><circle cx="564.9" cy="184.3" r="2.45"/><circle cx="535.4" cy="305.5" r="2.45"/><circle cx="577.7" cy="241.9" r="2.45"/><circle cx="602.3" cy="185" r="2.45"/><circle cx="555.9" cy="235.7" r="2.45"/><circle cx="572.7" cy="198.9" r="2.45"/><circle cx="590.2" cy="194.7" r="2.45"/><circle cx="574.9" cy="173.6" r="2.45"/><circle cx="598.3" cy="171.9" r="2.45"/><circle cx="552.6" cy="197.1" r="2.45"/><circle cx="575.3" cy="169.3" r="2.45"/><circle cx="536.2" cy="307.9" r="2.45"/><circle cx="577.9" cy="225.7" r="2.45"/><circle cx="625.7" cy="104.4" r="2.45"/><circle cx="537.6" cy="270.6" r="2.45"/><circle cx="537.6" cy="238.9" r="2.45"/><circle cx="522.6" cy="248.6" r="2.45"/><circle cx="527.2" cy="271.6" r="2.45"/><circle cx="631.6" cy="104.1" r="2.45"/><circle cx="609.9" cy="158.3" r="2.45"/><circle cx="604" cy="182.4" r="2.45"/><circle cx="541" cy="262.9" r="2.45"/><circle cx="570.2" cy="216.8" r="2.45"/><circle cx="628" cy="130" r="2.45"/><circle cx="548.3" cy="251.9" r="2.45"/><circle cx="533.1" cy="282.7" r="2.45"/><circle cx="550.7" cy="288.2" r="2.45"/><circle cx="557.1" cy="190.2" r="2.45"/><circle cx="569.9" cy="207" r="2.45"/><circle cx="551.9" cy="218.9" r="2.45"/><circle cx="534.4" cy="325.4" r="2.45"/><circle cx="522.8" cy="326.6" r="2.45"/><circle cx="578.1" cy="192.9" r="2.45"/><circle cx="522.1" cy="245.9" r="2.45"/><circle cx="525.6" cy="346.4" r="2.45"/><circle cx="537.3" cy="317.2" r="2.45"/><circle cx="581.1" cy="156.3" r="2.45"/><circle cx="534.1" cy="234.5" r="2.45"/><circle cx="620" cy="114.9" r="2.45"/><circle cx="597.6" cy="135.3" r="2.45"/><circle cx="531.5" cy="269.6" r="2.45"/><circle cx="559.8" cy="202.6" r="2.45"/><circle cx="596.7" cy="149.9" r="2.45"/><circle cx="570.8" cy="230.8" r="2.45"/><circle cx="567.8" cy="235.5" r="2.45"/><circle cx="523.3" cy="307.4" r="2.45"/><circle cx="523.6" cy="323.1" r="2.45"/><circle cx="600.5" cy="149.5" r="2.45"/><circle cx="538.8" cy="214.6" r="2.45"/><circle cx="551.7" cy="296.5" r="2.45"/><circle cx="642.6" cy="72.9" r="2.45"/><circle cx="546.8" cy="219.1" r="2.45"/><circle cx="607.1" cy="166.9" r="2.45"/><circle cx="552.1" cy="290.4" r="2.45"/><circle cx="558.5" cy="240.2" r="2.45"/><circle cx="588.7" cy="201.3" r="2.45"/><circle cx="580.2" cy="193.8" r="2.45"/><circle cx="519.7" cy="277" r="2.45"/><circle cx="623.7" cy="97.6" r="2.45"/><circle cx="578" cy="177.2" r="2.45"/><circle cx="553.2" cy="292.2" r="2.45"/><circle cx="621.2" cy="111.6" r="2.45"/><circle cx="552.5" cy="192.1" r="2.45"/><circle cx="528.1" cy="307.2" r="2.45"/><circle cx="562.1" cy="186.5" r="2.45"/><circle cx="540.7" cy="318.2" r="2.45"/><circle cx="535.7" cy="233.2" r="2.45"/><circle cx="543.8" cy="270.8" r="2.45"/><circle cx="596.4" cy="154.9" r="2.45"/><circle cx="579.3" cy="204.6" r="2.45"/><circle cx="562.9" cy="162.8" r="2.45"/><circle cx="527.4" cy="326.2" r="2.45"/><circle cx="580.1" cy="154.6" r="2.45"/><circle cx="538.1" cy="307.5" r="2.45"/><circle cx="529" cy="303.2" r="2.45"/><circle cx="571.1" cy="183.3" r="2.45"/><circle cx="607.7" cy="173.2" r="2.45"/><circle cx="543.1" cy="277.6" r="2.45"/><circle cx="543.7" cy="196.9" r="2.45"/><circle cx="584.5" cy="169.6" r="2.45"/><circle cx="520.4" cy="266.4" r="2.45"/><circle cx="578.1" cy="222.6" r="2.45"/><circle cx="518.9" cy="289.5" r="2.45"/><circle cx="585.5" cy="151.8" r="2.45"/><circle cx="599.7" cy="149.6" r="2.45"/><circle cx="626.5" cy="70.3" r="2.45"/><circle cx="647" cy="83.9" r="2.45"/><circle cx="541.6" cy="235.6" r="2.45"/><circle cx="619.2" cy="100.4" r="2.45"/><circle cx="519.4" cy="291.2" r="2.45"/><circle cx="623.5" cy="108.7" r="2.45"/><circle cx="622.9" cy="124.4" r="2.45"/><circle cx="528" cy="301" r="2.45"/><circle cx="559.6" cy="217" r="2.45"/><circle cx="546.3" cy="248.3" r="2.45"/><circle cx="541.3" cy="227.9" r="2.45"/><circle cx="593.6" cy="166.9" r="2.45"/><circle cx="545.7" cy="242.4" r="2.45"/><circle cx="553.4" cy="202" r="2.45"/><circle cx="561.6" cy="255.2" r="2.45"/><circle cx="555.7" cy="257" r="2.45"/><circle cx="565.6" cy="209.4" r="2.45"/><circle cx="570.3" cy="159.9" r="2.45"/><circle cx="580.9" cy="147.5" r="2.45"/><circle cx="599" cy="158" r="2.45"/><circle cx="531.6" cy="312.1" r="2.45"/><circle cx="568.9" cy="226.1" r="2.45"/><circle cx="585.5" cy="161.9" r="2.45"/><circle cx="542.6" cy="253.5" r="2.45"/><circle cx="552.5" cy="212.3" r="2.45"/><circle cx="582.6" cy="173.4" r="2.45"/><circle cx="547.8" cy="271.1" r="2.45"/><circle cx="560" cy="269.4" r="2.45"/><circle cx="534.8" cy="244.2" r="2.45"/><circle cx="603.1" cy="140" r="2.45"/><circle cx="551.6" cy="184.9" r="2.45"/><circle cx="545.8" cy="283.5" r="2.45"/><circle cx="531.1" cy="244.2" r="2.45"/><circle cx="601" cy="178.5" r="2.45"/><circle cx="546" cy="216.9" r="2.45"/><circle cx="537.8" cy="249.4" r="2.45"/><circle cx="552.3" cy="216.3" r="2.45"/><circle cx="519.6" cy="249.3" r="2.45"/><circle cx="558.5" cy="254.9" r="2.45"/><circle cx="548.7" cy="223.4" r="2.45"/><circle cx="519.7" cy="352.7" r="2.45"/><circle cx="560.1" cy="231" r="2.45"/><circle cx="524" cy="343.6" r="2.45"/><circle cx="579.6" cy="220.1" r="2.45"/><circle cx="575" cy="231.9" r="2.45"/><circle cx="559.6" cy="192.5" r="2.45"/><circle cx="537.8" cy="244.2" r="2.45"/><circle cx="531.5" cy="281.2" r="2.45"/><circle cx="572.9" cy="177.1" r="2.45"/><circle cx="521.8" cy="237.7" r="2.45"/><circle cx="577.3" cy="191.7" r="2.45"/><circle cx="606.1" cy="134.8" r="2.45"/><circle cx="577.4" cy="187.8" r="2.45"/><circle cx="593.2" cy="162" r="2.45"/><circle cx="568.5" cy="192" r="2.45"/><circle cx="524.8" cy="290.1" r="2.45"/><circle cx="601" cy="159.4" r="2.45"/><circle cx="597.4" cy="164.9" r="2.45"/><circle cx="592.1" cy="168.1" r="2.45"/><circle cx="540" cy="265.8" r="2.45"/><circle cx="563.8" cy="231.8" r="2.45"/><circle cx="543.2" cy="298.4" r="2.45"/><circle cx="639.6" cy="67.1" r="2.45"/><circle cx="593" cy="196.6" r="2.45"/><circle cx="526.6" cy="304.8" r="2.45"/><circle cx="528.2" cy="311.8" r="2.45"/><circle cx="527.7" cy="289.6" r="2.45"/><circle cx="531.2" cy="238.1" r="2.45"/><circle cx="547.3" cy="266.5" r="2.45"/><circle cx="519.3" cy="232.8" r="2.45"/><circle cx="518.8" cy="347.7" r="2.45"/><circle cx="587" cy="158" r="2.45"/><circle cx="539.6" cy="236.9" r="2.45"/><circle cx="566.6" cy="231.7" r="2.45"/><circle cx="532.7" cy="288.1" r="2.45"/><circle cx="563.8" cy="203.3" r="2.45"/><circle cx="609" cy="169.5" r="2.45"/><circle cx="551.4" cy="224.3" r="2.45"/><circle cx="561.9" cy="173.2" r="2.45"/><circle cx="596.8" cy="165.4" r="2.45"/><circle cx="530.7" cy="248.2" r="2.45"/><circle cx="583.5" cy="188.7" r="2.45"/><circle cx="531.2" cy="232.9" r="2.45"/><circle cx="611.8" cy="149.9" r="2.45"/><circle cx="530.3" cy="319.9" r="2.45"/><circle cx="557" cy="230.5" r="2.45"/><circle cx="528.3" cy="319.9" r="2.45"/><circle cx="523" cy="342.3" r="2.45"/><circle cx="558.5" cy="212.8" r="2.45"/><circle cx="547.7" cy="248.5" r="2.45"/><circle cx="615" cy="110.1" r="2.45"/><circle cx="548.4" cy="297.5" r="2.45"/><circle cx="553.3" cy="192.8" r="2.45"/><circle cx="526.8" cy="280.9" r="2.45"/><circle cx="576.5" cy="235.4" r="2.45"/><circle cx="570.9" cy="247.5" r="2.45"/><circle cx="542.2" cy="234.9" r="2.45"/><circle cx="639.3" cy="78.9" r="2.45"/><circle cx="587.7" cy="144.9" r="2.45"/><circle cx="529.2" cy="329.4" r="2.45"/><circle cx="519.2" cy="239.5" r="2.45"/><circle cx="535.4" cy="300.2" r="2.45"/><circle cx="519.4" cy="283.7" r="2.45"/><circle cx="563.4" cy="254.1" r="2.45"/><circle cx="605.4" cy="108" r="2.45"/><circle cx="560.8" cy="153.1" r="2.45"/><circle cx="556.7" cy="201.9" r="2.45"/><circle cx="518.5" cy="345.5" r="2.45"/><circle cx="604.1" cy="170.3" r="2.45"/><circle cx="535.1" cy="263.7" r="2.45"/><circle cx="576.3" cy="197.2" r="2.45"/><circle cx="570.2" cy="175.4" r="2.45"/><circle cx="571" cy="226.4" r="2.45"/><circle cx="549.2" cy="273.2" r="2.45"/><circle cx="606.8" cy="151.5" r="2.45"/><circle cx="519.4" cy="274.5" r="2.45"/><circle cx="567" cy="259.4" r="2.45"/><circle cx="531.6" cy="298.3" r="2.45"/><circle cx="596.3" cy="180.5" r="2.45"/><circle cx="518.8" cy="336" r="2.45"/><circle cx="548.9" cy="306" r="2.45"/><circle cx="538.9" cy="264.5" r="2.45"/><circle cx="591.4" cy="170.1" r="2.45"/><circle cx="615.5" cy="132.1" r="2.45"/><circle cx="531" cy="228.4" r="2.45"/><circle cx="567.3" cy="205" r="2.45"/><circle cx="571.5" cy="181" r="2.45"/><circle cx="553.2" cy="223.7" r="2.45"/><circle cx="626.9" cy="77" r="2.45"/><circle cx="614.2" cy="126.4" r="2.45"/><circle cx="569.1" cy="259.8" r="2.45"/><circle cx="574.6" cy="166.9" r="2.45"/><circle cx="530.4" cy="285.5" r="2.45"/><circle cx="647.2" cy="64.5" r="2.45"/><circle cx="569.2" cy="180.4" r="2.45"/><circle cx="530.3" cy="226.1" r="2.45"/><circle cx="545.2" cy="246.1" r="2.45"/><circle cx="529" cy="340.8" r="2.45"/><circle cx="620.9" cy="105" r="2.45"/><circle cx="584.7" cy="150.4" r="2.45"/><circle cx="553.9" cy="219.8" r="2.45"/><circle cx="542.8" cy="266.1" r="2.45"/><circle cx="548.5" cy="276.8" r="2.45"/><circle cx="609.5" cy="144.2" r="2.45"/><circle cx="520.5" cy="309.3" r="2.45"/><circle cx="576.7" cy="237.5" r="2.45"/><circle cx="554" cy="213" r="2.45"/><circle cx="605.3" cy="119.8" r="2.45"/><circle cx="648.3" cy="74" r="2.45"/><circle cx="537.3" cy="288.9" r="2.45"/><circle cx="588" cy="171.9" r="2.45"/><circle cx="524.6" cy="281.2" r="2.45"/><circle cx="561.8" cy="223.8" r="2.45"/><circle cx="520.3" cy="298.9" r="2.45"/><circle cx="610.6" cy="140.2" r="2.45"/><circle cx="566" cy="198.3" r="2.45"/><circle cx="536.9" cy="297.8" r="2.45"/><circle cx="604.3" cy="145.4" r="2.45"/><circle cx="561.3" cy="225.8" r="2.45"/><circle cx="526.7" cy="265.7" r="2.45"/><circle cx="527.3" cy="313" r="2.45"/><circle cx="609.5" cy="134.8" r="2.45"/><circle cx="567.9" cy="185.3" r="2.45"/><circle cx="542.4" cy="231.8" r="2.45"/><circle cx="593.8" cy="170.5" r="2.45"/><circle cx="614.1" cy="151" r="2.45"/><circle cx="602.9" cy="161.6" r="2.45"/><circle cx="614.8" cy="160.4" r="2.45"/><circle cx="564.5" cy="248.9" r="2.45"/><circle cx="524.7" cy="264.9" r="2.45"/><circle cx="601.6" cy="167.6" r="2.45"/><circle cx="570.5" cy="221.7" r="2.45"/><circle cx="554.7" cy="253.1" r="2.45"/><circle cx="522.5" cy="257.1" r="2.45"/><circle cx="615.6" cy="141.3" r="2.45"/><circle cx="526" cy="273.6" r="2.45"/><circle cx="555" cy="209.7" r="2.45"/><circle cx="557.4" cy="274.4" r="2.45"/><circle cx="553.2" cy="255.1" r="2.45"/><circle cx="603.2" cy="167.3" r="2.45"/><circle cx="541.2" cy="285.9" r="2.45"/><circle cx="527.2" cy="300.7" r="2.45"/><circle cx="596.6" cy="147.1" r="2.45"/><circle cx="522.6" cy="312.1" r="2.45"/><circle cx="563.4" cy="201.1" r="2.45"/><circle cx="529.2" cy="250.6" r="2.45"/><circle cx="603.4" cy="154.9" r="2.45"/><circle cx="526" cy="350.2" r="2.45"/><circle cx="556" cy="268.4" r="2.45"/><circle cx="524.7" cy="289.6" r="2.45"/><circle cx="571.7" cy="189.2" r="2.45"/><circle cx="526.1" cy="294.7" r="2.45"/><circle cx="544.6" cy="280.5" r="2.45"/><circle cx="585.5" cy="145" r="2.45"/><circle cx="600.6" cy="174.4" r="2.45"/><circle cx="519.7" cy="308.3" r="2.45"/><circle cx="577.7" cy="210.9" r="2.45"/><circle cx="530.4" cy="217" r="2.45"/><circle cx="521.7" cy="295.8" r="2.45"/><circle cx="600.9" cy="161.8" r="2.45"/><circle cx="577.6" cy="200.9" r="2.45"/><circle cx="548.6" cy="227.6" r="2.45"/><circle cx="524.6" cy="272.2" r="2.45"/><circle cx="524.4" cy="234.6" r="2.45"/><circle cx="581.7" cy="185.4" r="2.45"/><circle cx="595.3" cy="177.4" r="2.45"/><circle cx="526.2" cy="309.4" r="2.45"/><circle cx="594.7" cy="149.5" r="2.45"/><circle cx="577.9" cy="219.2" r="2.45"/><circle cx="632.8" cy="77.5" r="2.45"/><circle cx="518.7" cy="327" r="2.45"/><circle cx="533.1" cy="315" r="2.45"/><circle cx="606" cy="128" r="2.45"/><circle cx="554.8" cy="243.3" r="2.45"/><circle cx="524.8" cy="317.4" r="2.45"/><circle cx="551.6" cy="261.2" r="2.45"/><circle cx="594.9" cy="152.2" r="2.45"/><circle cx="532.4" cy="205.2" r="2.45"/><circle cx="546.9" cy="259.3" r="2.45"/><circle cx="574.8" cy="224.8" r="2.45"/><circle cx="596.2" cy="144.3" r="2.45"/><circle cx="557" cy="225.2" r="2.45"/><circle cx="645.5" cy="69.4" r="2.45"/><circle cx="582.4" cy="168.6" r="2.45"/><circle cx="553.4" cy="251.2" r="2.45"/><circle cx="544" cy="219.8" r="2.45"/><circle cx="534.9" cy="237.3" r="2.45"/><circle cx="644.2" cy="61.7" r="2.45"/><circle cx="538.1" cy="362.4" r="2.45"/><circle cx="577" cy="205.2" r="2.45"/><circle cx="519.2" cy="281.1" r="2.45"/><circle cx="541.9" cy="206.2" r="2.45"/><circle cx="527.7" cy="265.8" r="2.45"/><circle cx="557.6" cy="239.8" r="2.45"/><circle cx="530.8" cy="258.7" r="2.45"/><circle cx="607.9" cy="140.9" r="2.45"/><circle cx="518.7" cy="304.5" r="2.45"/><circle cx="561.6" cy="232.7" r="2.45"/><circle cx="621.6" cy="108.9" r="2.45"/><circle cx="531.1" cy="246.5" r="2.45"/><circle cx="583" cy="190.1" r="2.45"/><circle cx="528.2" cy="282" r="2.45"/><circle cx="585.5" cy="195.6" r="2.45"/><circle cx="569.4" cy="239.5" r="2.45"/><circle cx="617.4" cy="114.7" r="2.45"/><circle cx="543.8" cy="288.9" r="2.45"/><circle cx="567.1" cy="219.4" r="2.45"/><circle cx="570" cy="208.3" r="2.45"/><circle cx="605" cy="131.4" r="2.45"/><circle cx="518.7" cy="267.7" r="2.45"/><circle cx="541.2" cy="316.3" r="2.45"/><circle cx="562.8" cy="240.7" r="2.45"/><circle cx="566.7" cy="243.3" r="2.45"/><circle cx="519.3" cy="313.5" r="2.45"/><circle cx="543.8" cy="197.6" r="2.45"/><circle cx="577.1" cy="233.4" r="2.45"/><circle cx="535.7" cy="223.3" r="2.45"/><circle cx="540" cy="291.7" r="2.45"/><circle cx="558.8" cy="188.1" r="2.45"/><circle cx="632.8" cy="72.5" r="2.45"/><circle cx="625.5" cy="108.6" r="2.45"/><circle cx="568.8" cy="232.1" r="2.45"/><circle cx="542.3" cy="214.6" r="2.45"/><circle cx="571.1" cy="179.2" r="2.45"/><circle cx="529.6" cy="248.6" r="2.45"/><circle cx="521.1" cy="253.7" r="2.45"/><circle cx="538.1" cy="245.9" r="2.45"/><circle cx="572.7" cy="229.5" r="2.45"/><circle cx="627.4" cy="125.1" r="2.45"/><circle cx="527.1" cy="320.5" r="2.45"/><circle cx="547.9" cy="259.9" r="2.45"/><circle cx="560.1" cy="218.1" r="2.45"/><circle cx="577.4" cy="157.7" r="2.45"/><circle cx="537.2" cy="271.5" r="2.45"/><circle cx="586.6" cy="222" r="2.45"/><circle cx="626.5" cy="114.4" r="2.45"/><circle cx="545.6" cy="250.6" r="2.45"/><circle cx="567.1" cy="224.9" r="2.45"/><circle cx="518.7" cy="320.6" r="2.45"/><circle cx="577.5" cy="216.2" r="2.45"/><circle cx="526.3" cy="295.7" r="2.45"/><circle cx="628.3" cy="97.3" r="2.45"/><circle cx="545.4" cy="296.1" r="2.45"/><circle cx="584.9" cy="202.5" r="2.45"/><circle cx="524.6" cy="275.2" r="2.45"/><circle cx="563.3" cy="208.5" r="2.45"/><circle cx="614.3" cy="122.5" r="2.45"/><circle cx="521.8" cy="250.2" r="2.45"/><circle cx="594.8" cy="182.4" r="2.45"/><circle cx="525.5" cy="285.9" r="2.45"/><circle cx="522.6" cy="272.8" r="2.45"/><circle cx="633.2" cy="99.8" r="2.45"/><circle cx="526.5" cy="318.2" r="2.45"/><circle cx="550.5" cy="180.7" r="2.45"/><circle cx="568.3" cy="184.4" r="2.45"/><circle cx="563.1" cy="223.8" r="2.45"/><circle cx="573.4" cy="209.8" r="2.45"/><circle cx="568.2" cy="200.4" r="2.45"/><circle cx="541.7" cy="241.8" r="2.45"/><circle cx="581.8" cy="166.9" r="2.45"/><circle cx="629.1" cy="120.3" r="2.45"/><circle cx="593.9" cy="168.3" r="2.45"/><circle cx="631" cy="84.2" r="2.45"/><circle cx="521.6" cy="289.5" r="2.45"/><circle cx="578.4" cy="168.3" r="2.45"/><circle cx="636.5" cy="106.1" r="2.45"/><circle cx="520.3" cy="277.5" r="2.45"/><circle cx="519.9" cy="301.7" r="2.45"/><circle cx="609.9" cy="155.6" r="2.45"/><circle cx="554.6" cy="203.7" r="2.45"/><circle cx="623" cy="97.4" r="2.45"/><circle cx="555.8" cy="213.8" r="2.45"/><circle cx="542.4" cy="202.7" r="2.45"/><circle cx="564.5" cy="245.7" r="2.45"/><circle cx="613" cy="153.1" r="2.45"/><circle cx="548.4" cy="266.7" r="2.45"/><circle cx="590.3" cy="149.4" r="2.45"/><circle cx="623.6" cy="115.4" r="2.45"/><circle cx="602.3" cy="147" r="2.45"/><circle cx="555.5" cy="232.9" r="2.45"/><circle cx="521" cy="341.2" r="2.45"/><circle cx="622.1" cy="136.3" r="2.45"/><circle cx="578.2" cy="189.2" r="2.45"/><circle cx="571.5" cy="249.9" r="2.45"/><circle cx="545.4" cy="294.1" r="2.45"/><circle cx="543.7" cy="316.4" r="2.45"/><circle cx="581.7" cy="158.2" r="2.45"/><circle cx="566.8" cy="174.4" r="2.45"/><circle cx="559.2" cy="265.9" r="2.45"/><circle cx="558.2" cy="225.5" r="2.45"/><circle cx="548.1" cy="246.8" r="2.45"/><circle cx="538.6" cy="288.1" r="2.45"/><circle cx="534.8" cy="222.2" r="2.45"/><circle cx="544.5" cy="256.2" r="2.45"/><circle cx="587.6" cy="197.8" r="2.45"/><circle cx="548.6" cy="197.3" r="2.45"/><circle cx="580.5" cy="216.8" r="2.45"/><circle cx="530.9" cy="296.3" r="2.45"/><circle cx="554.5" cy="216.6" r="2.45"/><circle cx="539.1" cy="240" r="2.45"/><circle cx="616.2" cy="135" r="2.45"/><circle cx="525.8" cy="297.6" r="2.45"/><circle cx="631.8" cy="108.6" r="2.45"/><circle cx="542.8" cy="282.8" r="2.45"/><circle cx="526.7" cy="246.3" r="2.45"/><circle cx="585.2" cy="183.4" r="2.45"/><circle cx="536" cy="282.7" r="2.45"/><circle cx="573.1" cy="217.7" r="2.45"/><circle cx="531.6" cy="242.2" r="2.45"/><circle cx="529.9" cy="257.9" r="2.45"/><circle cx="547.5" cy="277.8" r="2.45"/><circle cx="639.6" cy="87" r="2.45"/><circle cx="519" cy="340.1" r="2.45"/><circle cx="542.6" cy="248" r="2.45"/><circle cx="606.9" cy="179.5" r="2.45"/><circle cx="548.2" cy="234.6" r="2.45"/><circle cx="590.6" cy="185.6" r="2.45"/><circle cx="579.1" cy="239.5" r="2.45"/><circle cx="569.9" cy="176.2" r="2.45"/><circle cx="537.7" cy="259.8" r="2.45"/><circle cx="540.8" cy="248.3" r="2.45"/><circle cx="570.7" cy="162.1" r="2.45"/><circle cx="526" cy="279.2" r="2.45"/><circle cx="564.1" cy="221" r="2.45"/><circle cx="519.4" cy="296.2" r="2.45"/><circle cx="538.8" cy="317.6" r="2.45"/><circle cx="519.2" cy="261.7" r="2.45"/><circle cx="541.7" cy="250.3" r="2.45"/><circle cx="603.4" cy="150.7" r="2.45"/><circle cx="520.3" cy="283.7" r="2.45"/><circle cx="569.8" cy="170.2" r="2.45"/><circle cx="556.3" cy="241" r="2.45"/><circle cx="613.9" cy="106.1" r="2.45"/><circle cx="539.8" cy="225.4" r="2.45"/><circle cx="546.1" cy="201.5" r="2.45"/><circle cx="518.7" cy="319.1" r="2.45"/><circle cx="592.5" cy="177.9" r="2.45"/><circle cx="601.8" cy="151.4" r="2.45"/><circle cx="527.1" cy="315.4" r="2.45"/><circle cx="569.6" cy="222.2" r="2.45"/><circle cx="627.3" cy="83.5" r="2.45"/><circle cx="636.1" cy="95.9" r="2.45"/><circle cx="560.9" cy="271.6" r="2.45"/><circle cx="615.4" cy="110.2" r="2.45"/><circle cx="526.6" cy="269.2" r="2.45"/><circle cx="540.1" cy="268.4" r="2.45"/><circle cx="557.3" cy="250.8" r="2.45"/><circle cx="587.8" cy="168.4" r="2.45"/><circle cx="520.8" cy="334" r="2.45"/><circle cx="544" cy="262" r="2.45"/><circle cx="605.2" cy="139.9" r="2.45"/><circle cx="562.2" cy="251.3" r="2.45"/><circle cx="553.5" cy="273.7" r="2.45"/><circle cx="541.5" cy="260.8" r="2.45"/><circle cx="565.4" cy="253.6" r="2.45"/><circle cx="613.4" cy="123.1" r="2.45"/><circle cx="555.8" cy="252.9" r="2.45"/><circle cx="528.3" cy="320.1" r="2.45"/><circle cx="542.1" cy="274.6" r="2.45"/><circle cx="584.4" cy="153.6" r="2.45"/><circle cx="575.9" cy="224" r="2.45"/><circle cx="585.2" cy="163.8" r="2.45"/><circle cx="545.3" cy="264.6" r="2.45"/><circle cx="574.2" cy="164.7" r="2.45"/><circle cx="552.4" cy="229.9" r="2.45"/><circle cx="568.4" cy="224.1" r="2.45"/><circle cx="546.3" cy="290.1" r="2.45"/><circle cx="543" cy="245.7" r="2.45"/><circle cx="540.4" cy="298.4" r="2.45"/><circle cx="553" cy="284.3" r="2.45"/><circle cx="556.1" cy="199" r="2.45"/><circle cx="578.5" cy="190.4" r="2.45"/><circle cx="566.1" cy="226.9" r="2.45"/><circle cx="601.7" cy="131.2" r="2.45"/><circle cx="610.3" cy="132.1" r="2.45"/><circle cx="582.5" cy="177.9" r="2.45"/><circle cx="522" cy="270.6" r="2.45"/><circle cx="620.3" cy="145.2" r="2.45"/><circle cx="538.5" cy="251.3" r="2.45"/><circle cx="603.9" cy="133.6" r="2.45"/><circle cx="591.4" cy="153.8" r="2.45"/><circle cx="618.1" cy="116.2" r="2.45"/><circle cx="625.8" cy="128" r="2.45"/><circle cx="529.8" cy="255.9" r="2.45"/><circle cx="541.9" cy="258.7" r="2.45"/><circle cx="600" cy="146.4" r="2.45"/><circle cx="520.2" cy="316.8" r="2.45"/><circle cx="555.1" cy="217.9" r="2.45"/><circle cx="545.2" cy="244.6" r="2.45"/><circle cx="530.9" cy="315" r="2.45"/><circle cx="524.1" cy="250.8" r="2.45"/><circle cx="538.7" cy="294.4" r="2.45"/><circle cx="560.5" cy="278.3" r="2.45"/><circle cx="564" cy="215.4" r="2.45"/><circle cx="560.2" cy="239.2" r="2.45"/><circle cx="585.7" cy="200.1" r="2.45"/><circle cx="525.1" cy="292.4" r="2.45"/><circle cx="571.7" cy="191.8" r="2.45"/><circle cx="545.5" cy="301.8" r="2.45"/><circle cx="536.9" cy="304.2" r="2.45"/><circle cx="554.4" cy="221" r="2.45"/><circle cx="570.4" cy="233.7" r="2.45"/><circle cx="558.2" cy="199.4" r="2.45"/><circle cx="549.4" cy="211.1" r="2.45"/><circle cx="632.9" cy="83.8" r="2.45"/><circle cx="609.4" cy="117.9" r="2.45"/><circle cx="588.6" cy="181.8" r="2.45"/><circle cx="643.7" cy="68.4" r="2.45"/><circle cx="551.6" cy="202" r="2.45"/><circle cx="583.3" cy="187.3" r="2.45"/><circle cx="535.7" cy="296.4" r="2.45"/><circle cx="572.6" cy="192.1" r="2.45"/><circle cx="546.4" cy="231.9" r="2.45"/><circle cx="559.9" cy="175.4" r="2.45"/><circle cx="527" cy="264.4" r="2.45"/><circle cx="523.5" cy="284.3" r="2.45"/><circle cx="598.6" cy="138.5" r="2.45"/><circle cx="566.4" cy="202.8" r="2.45"/><circle cx="518.7" cy="311.3" r="2.45"/><circle cx="538.9" cy="229.8" r="2.45"/><circle cx="636.9" cy="88.2" r="2.45"/><circle cx="578.2" cy="170.8" r="2.45"/><circle cx="544" cy="233.8" r="2.45"/><circle cx="531.6" cy="256.6" r="2.45"/><circle cx="584.5" cy="171.4" r="2.45"/><circle cx="586.5" cy="153.6" r="2.45"/><circle cx="526.1" cy="257.8" r="2.45"/><circle cx="618" cy="132.2" r="2.45"/><circle cx="544.7" cy="208.5" r="2.45"/><circle cx="585.5" cy="238.3" r="2.45"/><circle cx="625.8" cy="149.6" r="2.45"/><circle cx="550.8" cy="272.9" r="2.45"/><circle cx="533.2" cy="265" r="2.45"/><circle cx="550.9" cy="248.4" r="2.45"/><circle cx="578.5" cy="195.6" r="2.45"/><circle cx="608.3" cy="154.7" r="2.45"/><circle cx="607" cy="143.7" r="2.45"/><circle cx="636" cy="108.7" r="2.45"/><circle cx="564.8" cy="233.8" r="2.45"/><circle cx="533.6" cy="227.3" r="2.45"/><circle cx="625.5" cy="133.6" r="2.45"/><circle cx="571.6" cy="192.7" r="2.45"/><circle cx="521.5" cy="258" r="2.45"/><circle cx="558.7" cy="224.7" r="2.45"/><circle cx="590.6" cy="197.2" r="2.45"/><circle cx="545.6" cy="237.5" r="2.45"/><circle cx="637" cy="92.9" r="2.45"/><circle cx="577.2" cy="177.2" r="2.45"/><circle cx="531.3" cy="335.1" r="2.45"/><circle cx="547.3" cy="224.2" r="2.45"/><circle cx="523.8" cy="347.8" r="2.45"/><circle cx="604.2" cy="143.1" r="2.45"/><circle cx="575.9" cy="242.3" r="2.45"/><circle cx="529.2" cy="224.1" r="2.45"/><circle cx="526.1" cy="232.4" r="2.45"/><circle cx="539.3" cy="336.2" r="2.45"/><circle cx="618.8" cy="106.5" r="2.45"/><circle cx="534.4" cy="303.9" r="2.45"/><circle cx="603.9" cy="138.2" r="2.45"/><circle cx="555.4" cy="258.6" r="2.45"/><circle cx="547.1" cy="209.8" r="2.45"/><circle cx="580.1" cy="222.4" r="2.45"/><circle cx="566.9" cy="215.5" r="2.45"/><circle cx="526" cy="283.4" r="2.45"/><circle cx="524.5" cy="298.5" r="2.45"/><circle cx="593" cy="174.7" r="2.45"/><circle cx="541.2" cy="302.6" r="2.45"/><circle cx="520" cy="264.1" r="2.45"/><circle cx="630.1" cy="106.6" r="2.45"/><circle cx="617.4" cy="125.3" r="2.45"/><circle cx="629.3" cy="92.9" r="2.45"/><circle cx="523.6" cy="336.4" r="2.45"/><circle cx="522.7" cy="238.9" r="2.45"/><circle cx="519.5" cy="287.5" r="2.45"/><circle cx="557" cy="229" r="2.45"/><circle cx="564.6" cy="179.3" r="2.45"/><circle cx="554.8" cy="240.2" r="2.45"/><circle cx="590.4" cy="166.6" r="2.45"/><circle cx="575.1" cy="217.8" r="2.45"/><circle cx="520.5" cy="336.4" r="2.45"/><circle cx="575.9" cy="208.5" r="2.45"/><circle cx="571.8" cy="186.3" r="2.45"/><circle cx="570.2" cy="223.1" r="2.45"/><circle cx="615.2" cy="149.3" r="2.45"/><circle cx="605.6" cy="142.1" r="2.45"/><circle cx="552.1" cy="222.1" r="2.45"/><circle cx="553" cy="230.7" r="2.45"/><circle cx="545.1" cy="225.3" r="2.45"/><circle cx="545.1" cy="273.2" r="2.45"/><circle cx="532.6" cy="260.3" r="2.45"/><circle cx="587.9" cy="151.5" r="2.45"/><circle cx="540.6" cy="210.7" r="2.45"/><circle cx="534.1" cy="245.5" r="2.45"/><circle cx="580.7" cy="224.3" r="2.45"/><circle cx="593.5" cy="124.8" r="2.45"/><circle cx="589.6" cy="189.4" r="2.45"/><circle cx="590.1" cy="164.5" r="2.45"/><circle cx="559.9" cy="278" r="2.45"/><circle cx="570.6" cy="228.3" r="2.45"/><circle cx="613.5" cy="133" r="2.45"/><circle cx="550.5" cy="275.8" r="2.45"/><circle cx="542.3" cy="224.4" r="2.45"/><circle cx="549.7" cy="244.8" r="2.45"/><circle cx="615.4" cy="156.6" r="2.45"/><circle cx="624.9" cy="132.4" r="2.45"/><circle cx="562.3" cy="209.3" r="2.45"/><circle cx="549.7" cy="208.7" r="2.45"/><circle cx="529.7" cy="273.8" r="2.45"/><circle cx="543.5" cy="228.4" r="2.45"/><circle cx="550" cy="219.7" r="2.45"/><circle cx="585.2" cy="177.3" r="2.45"/><circle cx="566.5" cy="185.9" r="2.45"/><circle cx="519.7" cy="315.6" r="2.45"/><circle cx="592.2" cy="183.3" r="2.45"/><circle cx="549.9" cy="264.1" r="2.45"/><circle cx="541.3" cy="305.9" r="2.45"/><circle cx="560" cy="264.3" r="2.45"/><circle cx="584" cy="214.5" r="2.45"/><circle cx="561.7" cy="244.7" r="2.45"/><circle cx="525.8" cy="249.3" r="2.45"/><circle cx="539.1" cy="232.3" r="2.45"/><circle cx="540.4" cy="252.8" r="2.45"/><circle cx="549.3" cy="295.9" r="2.45"/><circle cx="528.4" cy="335.1" r="2.45"/><circle cx="548.4" cy="206.8" r="2.45"/><circle cx="532.1" cy="290.1" r="2.45"/><circle cx="531.1" cy="272.3" r="2.45"/><circle cx="585.1" cy="172" r="2.45"/><circle cx="584.8" cy="195.2" r="2.45"/><circle cx="543.3" cy="300.1" r="2.45"/><circle cx="523.8" cy="339.9" r="2.45"/><circle cx="636.4" cy="85.6" r="2.45"/><circle cx="563" cy="206.6" r="2.45"/><circle cx="603.5" cy="155.1" r="2.45"/><circle cx="522.7" cy="296.5" r="2.45"/><circle cx="625.6" cy="99.3" r="2.45"/><circle cx="558.6" cy="206" r="2.45"/><circle cx="583.3" cy="209.2" r="2.45"/><circle cx="543.7" cy="286.9" r="2.45"/><circle cx="598.2" cy="164.4" r="2.45"/><circle cx="520.6" cy="345.5" r="2.45"/><circle cx="529.3" cy="316.3" r="2.45"/><circle cx="592.9" cy="193.2" r="2.45"/><circle cx="567.2" cy="245.6" r="2.45"/><circle cx="589.6" cy="153.3" r="2.45"/><circle cx="579.9" cy="181.5" r="2.45"/><circle cx="574.9" cy="212.9" r="2.45"/><circle cx="597.8" cy="176.1" r="2.45"/><circle cx="586.6" cy="213.3" r="2.45"/><circle cx="601.3" cy="144.1" r="2.45"/><circle cx="548.3" cy="237.1" r="2.45"/><circle cx="535.6" cy="269.6" r="2.45"/><circle cx="601.8" cy="185.8" r="2.45"/><circle cx="614.9" cy="130.3" r="2.45"/><circle cx="601.9" cy="137.7" r="2.45"/><circle cx="615.8" cy="97.6" r="2.45"/><circle cx="528.4" cy="297" r="2.45"/><circle cx="611" cy="114.7" r="2.45"/><circle cx="614.2" cy="114.9" r="2.45"/><circle cx="546.5" cy="279.9" r="2.45"/><circle cx="521.7" cy="303.7" r="2.45"/><circle cx="586.8" cy="173.5" r="2.45"/><circle cx="555" cy="247.7" r="2.45"/><circle cx="559.8" cy="186.4" r="2.45"/><circle cx="574.6" cy="238.4" r="2.45"/><circle cx="534.9" cy="238.6" r="2.45"/><circle cx="598.1" cy="156.8" r="2.45"/><circle cx="529.8" cy="261.5" r="2.45"/><circle cx="565.6" cy="241.2" r="2.45"/><circle cx="604.8" cy="168.4" r="2.45"/><circle cx="536.1" cy="222" r="2.45"/><circle cx="552.3" cy="236.9" r="2.45"/><circle cx="564" cy="185.2" r="2.45"/><circle cx="541.2" cy="208.5" r="2.45"/><circle cx="638.2" cy="76.1" r="2.45"/><circle cx="532.8" cy="294" r="2.45"/><circle cx="552.7" cy="275.5" r="2.45"/><circle cx="532.8" cy="268.7" r="2.45"/><circle cx="519.1" cy="264" r="2.45"/><circle cx="540.9" cy="292.7" r="2.45"/><circle cx="529.1" cy="243.8" r="2.45"/><circle cx="580.2" cy="199.1" r="2.45"/><circle cx="588" cy="162.4" r="2.45"/><circle cx="570" cy="174.3" r="2.45"/><circle cx="545.6" cy="336.4" r="2.45"/><circle cx="582.5" cy="159.6" r="2.45"/><circle cx="556.4" cy="284.1" r="2.45"/><circle cx="519.4" cy="327.7" r="2.45"/><circle cx="523.7" cy="259.9" r="2.45"/><circle cx="554.6" cy="189.6" r="2.45"/><circle cx="616.5" cy="129" r="2.45"/><circle cx="523.3" cy="269.3" r="2.45"/><circle cx="582.8" cy="175.7" r="2.45"/><circle cx="618.6" cy="108.8" r="2.45"/><circle cx="594.8" cy="157.8" r="2.45"/><circle cx="524" cy="352" r="2.45"/><circle cx="522.6" cy="293.4" r="2.45"/><circle cx="556.1" cy="196" r="2.45"/><circle cx="538.9" cy="281.1" r="2.45"/><circle cx="540.9" cy="255.7" r="2.45"/><circle cx="537.4" cy="274.3" r="2.45"/><circle cx="554.3" cy="232.9" r="2.45"/><circle cx="554.7" cy="269.3" r="2.45"/><circle cx="608.3" cy="148.3" r="2.45"/><circle cx="597.1" cy="161.3" r="2.45"/><circle cx="616.2" cy="124.4" r="2.45"/><circle cx="533.5" cy="277.6" r="2.45"/><circle cx="538.7" cy="304.1" r="2.45"/><circle cx="599" cy="173.9" r="2.45"/><circle cx="555.8" cy="245.1" r="2.45"/><circle cx="599.2" cy="195.8" r="2.45"/><circle cx="536.8" cy="290.3" r="2.45"/><circle cx="636" cy="84" r="2.45"/><circle cx="572.6" cy="221.2" r="2.45"/><circle cx="532.8" cy="281.7" r="2.45"/><circle cx="522.5" cy="323.5" r="2.45"/><circle cx="561.2" cy="158" r="2.45"/><circle cx="545.4" cy="347.2" r="2.45"/><circle cx="561.1" cy="254.4" r="2.45"/><circle cx="540" cy="198.7" r="2.45"/><circle cx="587.6" cy="184.3" r="2.45"/><circle cx="547.5" cy="260.3" r="2.45"/><circle cx="551.6" cy="243.8" r="2.45"/><circle cx="577.9" cy="228" r="2.45"/><circle cx="594.5" cy="177.3" r="2.45"/><circle cx="628.5" cy="99" r="2.45"/><circle cx="557" cy="224.3" r="2.45"/><circle cx="555.3" cy="185.5" r="2.45"/><circle cx="564" cy="182.1" r="2.45"/><circle cx="544" cy="265" r="2.45"/><circle cx="547.8" cy="289.3" r="2.45"/><circle cx="557.7" cy="228" r="2.45"/><circle cx="600" cy="165.1" r="2.45"/><circle cx="623.4" cy="119.1" r="2.45"/><circle cx="558.6" cy="250.8" r="2.45"/><circle cx="560.7" cy="189.6" r="2.45"/><circle cx="527.7" cy="323.6" r="2.45"/><circle cx="592.3" cy="180" r="2.45"/><circle cx="575.2" cy="181.4" r="2.45"/><circle cx="545.2" cy="286.4" r="2.45"/><circle cx="625" cy="143.1" r="2.45"/><circle cx="570.6" cy="239.8" r="2.45"/><circle cx="534.4" cy="224.4" r="2.45"/><circle cx="560.1" cy="214.7" r="2.45"/><circle cx="561.9" cy="179.9" r="2.45"/><circle cx="551.1" cy="240.7" r="2.45"/><circle cx="608.8" cy="164.4" r="2.45"/><circle cx="585.8" cy="186.8" r="2.45"/><circle cx="619.7" cy="129.9" r="2.45"/><circle cx="565.1" cy="184.7" r="2.45"/><circle cx="606.8" cy="156.7" r="2.45"/><circle cx="538" cy="302.1" r="2.45"/><circle cx="574.9" cy="216.4" r="2.45"/><circle cx="563" cy="259.5" r="2.45"/><circle cx="618" cy="148.9" r="2.45"/><circle cx="565.7" cy="178.4" r="2.45"/><circle cx="591.4" cy="178.6" r="2.45"/><circle cx="530.4" cy="330.6" r="2.45"/><circle cx="555.9" cy="222.4" r="2.45"/><circle cx="593.4" cy="185.8" r="2.45"/><circle cx="549.4" cy="293.7" r="2.45"/><circle cx="586.6" cy="149.7" r="2.45"/><circle cx="595.1" cy="158.7" r="2.45"/><circle cx="576.9" cy="184.4" r="2.45"/><circle cx="556.8" cy="215.9" r="2.45"/><circle cx="553.2" cy="264.8" r="2.45"/><circle cx="621.6" cy="99.5" r="2.45"/><circle cx="559.8" cy="233.5" r="2.45"/><circle cx="549.3" cy="290.5" r="2.45"/><circle cx="605.6" cy="135.1" r="2.45"/><circle cx="544.3" cy="235.4" r="2.45"/><circle cx="601.6" cy="140.9" r="2.45"/><circle cx="552" cy="265.4" r="2.45"/><circle cx="559.8" cy="249.3" r="2.45"/><circle cx="583.5" cy="179.3" r="2.45"/><circle cx="596.4" cy="136.5" r="2.45"/><circle cx="607.8" cy="161.3" r="2.45"/><circle cx="535.4" cy="317.5" r="2.45"/><circle cx="582.4" cy="207.8" r="2.45"/><circle cx="563.2" cy="227.7" r="2.45"/><circle cx="579.9" cy="165.9" r="2.45"/><circle cx="628.7" cy="91.7" r="2.45"/><circle cx="598.4" cy="144.3" r="2.45"/><circle cx="524.4" cy="286.1" r="2.45"/><circle cx="616.2" cy="122.1" r="2.45"/><circle cx="533.8" cy="230.8" r="2.45"/><circle cx="547.3" cy="233.4" r="2.45"/><circle cx="572.9" cy="135.3" r="2.45"/><circle cx="556.8" cy="184.2" r="2.45"/><circle cx="558.3" cy="260.7" r="2.45"/><circle cx="562.6" cy="192.3" r="2.45"/><circle cx="550.6" cy="253.9" r="2.45"/><circle cx="554.4" cy="206.9" r="2.45"/><circle cx="577.6" cy="160.8" r="2.45"/><circle cx="562.8" cy="242.5" r="2.45"/><circle cx="541.2" cy="307.6" r="2.45"/><circle cx="537" cy="218" r="2.45"/><circle cx="615.9" cy="136.4" r="2.45"/><circle cx="528.6" cy="241.9" r="2.45"/><circle cx="565.3" cy="220.6" r="2.45"/><circle cx="548.9" cy="201" r="2.45"/><circle cx="631" cy="97.4" r="2.45"/><circle cx="574.8" cy="160.7" r="2.45"/><circle cx="567.4" cy="212.3" r="2.45"/><circle cx="530.8" cy="290" r="2.45"/><circle cx="644.6" cy="77.4" r="2.45"/><circle cx="533.1" cy="320.6" r="2.45"/><circle cx="541.1" cy="270.5" r="2.45"/><circle cx="543.8" cy="207.5" r="2.45"/><circle cx="630.6" cy="94.8" r="2.45"/><circle cx="531" cy="333.8" r="2.45"/><circle cx="535.7" cy="205.6" r="2.45"/><circle cx="628.4" cy="101.9" r="2.45"/><circle cx="566.5" cy="201.2" r="2.45"/><circle cx="545.2" cy="236.5" r="2.45"/><circle cx="608.9" cy="122.7" r="2.45"/><circle cx="571.7" cy="204.9" r="2.45"/><circle cx="542.4" cy="278.4" r="2.45"/><circle cx="550.5" cy="283.7" r="2.45"/><circle cx="596.7" cy="183.7" r="2.45"/><circle cx="588.2" cy="177" r="2.45"/><circle cx="589" cy="219.6" r="2.45"/><circle cx="639.4" cy="97.7" r="2.45"/><circle cx="535.9" cy="265.5" r="2.45"/><circle cx="520.8" cy="349" r="2.45"/><circle cx="586.4" cy="192.8" r="2.45"/><circle cx="526.2" cy="243.4" r="2.45"/><circle cx="551.6" cy="279.2" r="2.45"/><circle cx="532.1" cy="303.4" r="2.45"/><circle cx="530.5" cy="253.5" r="2.45"/><circle cx="551.1" cy="269" r="2.45"/><circle cx="577.2" cy="177.6" r="2.45"/><circle cx="571.2" cy="174.9" r="2.45"/><circle cx="539.4" cy="284.1" r="2.45"/><circle cx="618.2" cy="118.5" r="2.45"/><circle cx="547.4" cy="204.8" r="2.45"/><circle cx="526.3" cy="334" r="2.45"/><circle cx="520.1" cy="257.3" r="2.45"/><circle cx="537.9" cy="315.8" r="2.45"/><circle cx="586" cy="155.9" r="2.45"/><circle cx="541.9" cy="276.9" r="2.45"/><circle cx="644.2" cy="89.4" r="2.45"/><circle cx="531.2" cy="302.4" r="2.45"/><circle cx="576.3" cy="167" r="2.45"/><circle cx="586.6" cy="166.8" r="2.45"/><circle cx="556.6" cy="290.7" r="2.45"/><circle cx="544.5" cy="220.7" r="2.45"/><circle cx="636.2" cy="81.6" r="2.45"/><circle cx="571.5" cy="171.1" r="2.45"/><circle cx="559.2" cy="257.9" r="2.45"/><circle cx="616.1" cy="119.9" r="2.45"/><circle cx="560" cy="241.9" r="2.45"/><circle cx="561.4" cy="236.6" r="2.45"/><circle cx="605.7" cy="172.1" r="2.45"/><circle cx="527.5" cy="212.8" r="2.45"/><circle cx="548" cy="227.1" r="2.45"/><circle cx="554.8" cy="235.4" r="2.45"/><circle cx="536.2" cy="341.5" r="2.45"/><circle cx="543.9" cy="226" r="2.45"/><circle cx="534" cy="252.4" r="2.45"/><circle cx="583.8" cy="180.4" r="2.45"/><circle cx="597.1" cy="156.3" r="2.45"/><circle cx="543.4" cy="341" r="2.45"/><circle cx="591.2" cy="161.6" r="2.45"/><circle cx="600.7" cy="134.7" r="2.45"/><circle cx="585.8" cy="133.7" r="2.45"/><circle cx="581" cy="188.6" r="2.45"/><circle cx="522.6" cy="332.8" r="2.45"/><circle cx="522.2" cy="282.1" r="2.45"/><circle cx="568.9" cy="193.3" r="2.45"/><circle cx="538.3" cy="307.6" r="2.45"/><circle cx="538.1" cy="311.2" r="2.45"/><circle cx="518.5" cy="331.6" r="2.45"/><circle cx="564.2" cy="219" r="2.45"/><circle cx="555.7" cy="262.3" r="2.45"/><circle cx="580.8" cy="175.3" r="2.45"/><circle cx="605.3" cy="158.2" r="2.45"/><circle cx="549.1" cy="239.5" r="2.45"/><circle cx="639.2" cy="82.9" r="2.45"/><circle cx="633.1" cy="106.4" r="2.45"/><circle cx="577.7" cy="186.2" r="2.45"/><circle cx="527.9" cy="215.6" r="2.45"/><circle cx="519.6" cy="323.1" r="2.45"/><circle cx="589.8" cy="167.1" r="2.45"/><circle cx="608.5" cy="120.4" r="2.45"/><circle cx="541.2" cy="239.2" r="2.45"/><circle cx="535.8" cy="277" r="2.45"/><circle cx="541.6" cy="227.4" r="2.45"/><circle cx="542.4" cy="281.3" r="2.45"/><circle cx="539.7" cy="279.2" r="2.45"/><circle cx="645.3" cy="74.8" r="2.45"/><circle cx="521.3" cy="218.6" r="2.45"/><circle cx="519" cy="242.6" r="2.45"/><circle cx="590.6" cy="145.7" r="2.45"/><circle cx="537.8" cy="266.3" r="2.45"/><circle cx="546.9" cy="229.2" r="2.45"/><circle cx="525.1" cy="337" r="2.45"/><circle cx="626.1" cy="86.7" r="2.45"/><circle cx="567.6" cy="228.4" r="2.45"/><circle cx="559.9" cy="242.7" r="2.45"/><circle cx="594.9" cy="155.3" r="2.45"/><circle cx="533.4" cy="254.7" r="2.45"/><circle cx="535.2" cy="285.2" r="2.45"/><circle cx="647.7" cy="62.9" r="2.45"/><circle cx="597.9" cy="154.7" r="2.45"/><circle cx="540.8" cy="221.1" r="2.45"/><circle cx="537.1" cy="242.5" r="2.45"/><circle cx="521.4" cy="171.7" r="2.45"/><circle cx="525.9" cy="190.8" r="2.45"/><circle cx="534.9" cy="188.3" r="2.45"/><circle cx="539.2" cy="178.6" r="2.45"/><circle cx="540.5" cy="182.4" r="2.45"/><circle cx="546.8" cy="171" r="2.45"/><circle cx="548.1" cy="177.3" r="2.45"/><circle cx="554.5" cy="179.9" r="2.45"/><circle cx="545.6" cy="188.8" r="2.45"/><circle cx="564.7" cy="140.4" r="2.45"/><circle cx="565.4" cy="146.8" r="2.45"/><circle cx="570.5" cy="144.2" r="2.45"/><circle cx="567.2" cy="151.3" r="2.45"/><circle cx="560.8" cy="169.7" r="2.45"/><circle cx="644.9" cy="61.5" r="2.45"/><circle cx="641.1" cy="63.2" r="2.45"/><circle cx="653.3" cy="69.9" r="2.45"/><circle cx="655.1" cy="96.3" r="2.45"/><circle cx="648.7" cy="113.7" r="2.45"/><circle cx="659.6" cy="87.7" r="2.45"/><circle cx="639.8" cy="117.5" r="2.45"/><circle cx="607.9" cy="112.4" r="2.45"/><circle cx="611.8" cy="100.9" r="2.45"/><circle cx="619.4" cy="102.2" r="2.45"/><circle cx="611.8" cy="97.9" r="2.45"/><circle cx="617.6" cy="166.6" r="2.45"/><circle cx="574.8" cy="158.2" r="2.45"/><circle cx="582.5" cy="151.3" r="2.45"/></g><g fill="#5799c7" stroke="#1a1a1a" stroke-width="0.45"><rect x="518" y="19.2" width="2.42" height="26.2"/><rect x="520.42" y="16.1" width="2.42" height="29.3"/><rect x="522.84" y="15.9" width="2.42" height="29.5"/><rect x="525.26" y="16.4" width="2.42" height="29"/><rect x="527.68" y="14.9" width="2.42" height="30.5"/><rect x="530.1" y="15.3" width="2.42" height="30.1"/><rect x="532.52" y="14.3" width="2.42" height="31.1"/><rect x="534.94" y="12" width="2.42" height="33.4"/><rect x="537.36" y="13.2" width="2.42" height="32.2"/><rect x="539.78" y="13.2" width="2.42" height="32.2"/><rect x="542.2" y="13.4" width="2.42" height="32"/><rect x="544.62" y="13.4" width="2.42" height="32"/><rect x="547.04" y="15.3" width="2.42" height="30.1"/><rect x="549.46" y="17.3" width="2.42" height="28.1"/><rect x="551.88" y="16.7" width="2.42" height="28.7"/><rect x="554.3" y="16.3" width="2.42" height="29.1"/><rect x="556.72" y="22.3" width="2.42" height="23.1"/><rect x="559.14" y="22.3" width="2.42" height="23.1"/><rect x="561.56" y="24.3" width="2.42" height="21.1"/><rect x="563.98" y="26.4" width="2.42" height="19"/><rect x="566.4" y="30.1" width="2.42" height="15.3"/><rect x="568.82" y="30.1" width="2.42" height="15.3"/><rect x="571.24" y="33" width="2.42" height="12.4"/><rect x="573.66" y="33" width="2.42" height="12.4"/><rect x="576.08" y="35.1" width="2.42" height="10.3"/><rect x="578.5" y="37.7" width="2.42" height="7.7"/><rect x="580.92" y="38.3" width="2.42" height="7.1"/><rect x="583.34" y="38.9" width="2.42" height="6.5"/><rect x="585.76" y="40" width="2.42" height="5.4"/><rect x="588.18" y="41.4" width="2.42" height="4"/><rect x="590.6" y="42.5" width="2.42" height="2.9"/><rect x="593.02" y="42.5" width="2.42" height="2.9"/><rect x="595.44" y="42.5" width="2.42" height="2.9"/><rect x="597.86" y="42.5" width="2.42" height="2.9"/><rect x="600.28" y="42.5" width="2.42" height="2.9"/><rect x="602.7" y="43.1" width="2.42" height="2.3"/><rect x="605.12" y="43.1" width="2.42" height="2.3"/><rect x="607.54" y="43.1" width="2.42" height="2.3"/><rect x="609.96" y="43.9" width="2.42" height="1.5"/><rect x="612.38" y="43.9" width="2.42" height="1.5"/><rect x="614.8" y="43.9" width="2.42" height="1.5"/><rect x="617.22" y="43.9" width="2.42" height="1.5"/><rect x="619.64" y="44.5" width="2.42" height="0.9"/></g><g fill="#5799c7" stroke="#1a1a1a" stroke-width="0.45"><rect x="664.45" y="296.8" width="14.7" height="2.8"/><rect x="664.45" y="292.36" width="16.4" height="4.44"/><rect x="664.45" y="287.92" width="14.7" height="4.44"/><rect x="664.45" y="283.48" width="16.4" height="4.44"/><rect x="664.45" y="279.04" width="18" height="4.44"/><rect x="664.45" y="274.6" width="16.9" height="4.44"/><rect x="664.45" y="270.16" width="17.2" height="4.44"/><rect x="664.45" y="265.72" width="17.5" height="4.44"/><rect x="664.45" y="261.28" width="18" height="4.44"/><rect x="664.45" y="256.84" width="18.5" height="4.44"/><rect x="664.45" y="252.4" width="18.3" height="4.44"/><rect x="664.45" y="247.96" width="17.2" height="4.44"/><rect x="664.45" y="243.52" width="16" height="4.44"/><rect x="664.45" y="239.08" width="15.9" height="4.44"/><rect x="664.45" y="234.64" width="13.4" height="4.44"/><rect x="664.45" y="230.2" width="13.1" height="4.44"/><rect x="664.45" y="225.76" width="12.2" height="4.44"/><rect x="664.45" y="221.32" width="11.4" height="4.44"/><rect x="664.45" y="216.88" width="10.6" height="4.44"/><rect x="664.45" y="212.44" width="9.8" height="4.44"/><rect x="664.45" y="208" width="8.1" height="4.44"/><rect x="664.45" y="203.56" width="7.3" height="4.44"/><rect x="664.45" y="199.12" width="5.5" height="4.44"/><rect x="664.45" y="194.68" width="5.2" height="4.44"/><rect x="664.45" y="190.24" width="4.2" height="4.44"/><rect x="664.45" y="185.8" width="3.5" height="4.44"/><rect x="664.45" y="181.36" width="3.1" height="4.44"/><rect x="664.45" y="176.92" width="2.6" height="4.44"/><rect x="664.45" y="172.48" width="2.3" height="4.44"/><rect x="664.45" y="168.04" width="1.9" height="4.44"/><rect x="664.45" y="163.6" width="1.3" height="4.44"/></g><line x1="622.06" y1="44.9" x2="649.2" y2="44.9" stroke="#1a1a1a" stroke-width="0.9"/><line x1="664.95" y1="127.3" x2="664.95" y2="163.6" stroke="#1a1a1a" stroke-width="0.9"/><path d="M518.45 52V300.05H660.65M518.45 45.4H660.65M664.45 52V300.05M515.45 300.15H518.45M661.45 300.15H664.45M515.45 248.48H518.45M661.45 248.48H664.45M515.45 196.81H518.45M661.45 196.81H664.45M515.45 145.14H518.45M661.45 145.14H664.45M515.45 93.47H518.45M661.45 93.47H664.45M518.45 300.05V302.85M518.45 45.4V48.4M577.45 300.05V302.85M577.45 45.4V48.4M636.45 300.05V302.85M636.45 45.4V48.4" stroke="#262626" stroke-width="0.8" fill="none"/><text x="486.05" y="304.25" font-size="12.32" textLength="25.33" lengthAdjust="spacingAndGlyphs">0.00</text><text x="486.06" y="252.58" font-size="12.32" textLength="25.16" lengthAdjust="spacingAndGlyphs">0.01</text><text x="486.06" y="200.91" font-size="12.32" textLength="25.07" lengthAdjust="spacingAndGlyphs">0.02</text><text x="486.06" y="149.24" font-size="12.32" textLength="25.21" lengthAdjust="spacingAndGlyphs">0.03</text><text x="486.05" y="97.57" font-size="12.32" textLength="25.31" lengthAdjust="spacingAndGlyphs">0.04</text><text x="505.77" y="313.5" font-size="12.32" textLength="25.33" lengthAdjust="spacingAndGlyphs">0.00</text><text x="564.77" y="313.5" font-size="12.32" textLength="25.07" lengthAdjust="spacingAndGlyphs">0.02</text><text x="623.77" y="313.5" font-size="12.32" textLength="25.31" lengthAdjust="spacingAndGlyphs">0.04</text><text x="584.39" y="332.2" font-size="16.35" textLength="10.27" lengthAdjust="spacingAndGlyphs">X</text><text x="467.61" y="181.7" font-size="16.35" textLength="10.11" lengthAdjust="spacingAndGlyphs" transform="rotate(-90 472.65 176.07)">Y</text><rect x="523.75" y="58.5" width="87.6" height="23" rx="2" fill="#fff" stroke="#d8d8d8" stroke-width="0.8"/><circle cx="540.15" cy="70.3" r="2.3" fill="#1f77b4" stroke="#fff" stroke-width="0.3"/><text x="561.94" y="73" font-size="12.74" textLength="6.44" lengthAdjust="spacingAndGlyphs">z</text><text x="568.39" y="74.9" font-size="8.92" textLength="15.73" lengthAdjust="spacingAndGlyphs">208</text><text x="584.77" y="73" font-size="12.74" textLength="9.07" lengthAdjust="spacingAndGlyphs">&lt;</text><text x="598.27" y="73" font-size="12.74" textLength="7.97" lengthAdjust="spacingAndGlyphs">Z</text><text x="-0.1" y="19.9" font-size="27.5" textLength="29.29" lengthAdjust="spacingAndGlyphs">(a)</text><text x="-1.57" y="354" font-size="27.5" textLength="30.74" lengthAdjust="spacingAndGlyphs">(b)</text><text x="408.53" y="354.3" font-size="27.5" textLength="29.37" lengthAdjust="spacingAndGlyphs">(c)</text><clipPath id="cb"><rect x="105.75" y="356.2" width="263.35" height="196.7"/></clipPath><g clip-path="url(#cb)" fill="#ff8c00" stroke="#000" stroke-width="0.75"><circle cx="117.3" cy="474.3" r="2.5"/><circle cx="117.9" cy="535.06" r="2.5"/><circle cx="118.51" cy="523.09" r="2.5"/><circle cx="119.11" cy="515.6" r="2.5"/><circle cx="119.71" cy="507.6" r="2.5"/><circle cx="120.31" cy="518.72" r="2.5"/><circle cx="120.92" cy="525.85" r="2.5"/><circle cx="121.52" cy="528.25" r="2.5"/><circle cx="122.12" cy="511.27" r="2.5"/><circle cx="122.73" cy="501.39" r="2.5"/><circle cx="123.33" cy="516.2" r="2.5"/><circle cx="123.93" cy="532.59" r="2.5"/><circle cx="124.54" cy="529.42" r="2.5"/><circle cx="125.14" cy="501.19" r="2.5"/><circle cx="125.74" cy="516.38" r="2.5"/><circle cx="126.34" cy="537.48" r="2.5"/><circle cx="126.95" cy="519.24" r="2.5"/><circle cx="127.55" cy="530.94" r="2.5"/><circle cx="128.15" cy="524.93" r="2.5"/><circle cx="128.76" cy="523.24" r="2.5"/><circle cx="129.36" cy="525.56" r="2.5"/><circle cx="129.96" cy="511.51" r="2.5"/><circle cx="130.57" cy="518.13" r="2.5"/><circle cx="131.17" cy="523.76" r="2.5"/><circle cx="131.77" cy="512.65" r="2.5"/><circle cx="132.38" cy="507.89" r="2.5"/><circle cx="132.98" cy="534.89" r="2.5"/><circle cx="133.58" cy="519.53" r="2.5"/><circle cx="134.18" cy="484.06" r="2.5"/><circle cx="134.79" cy="518.32" r="2.5"/><circle cx="135.39" cy="530.43" r="2.5"/><circle cx="135.99" cy="515.89" r="2.5"/><circle cx="136.6" cy="516.39" r="2.5"/><circle cx="137.2" cy="519.17" r="2.5"/><circle cx="137.8" cy="527.19" r="2.5"/><circle cx="138.41" cy="519.89" r="2.5"/><circle cx="139.01" cy="527.37" r="2.5"/><circle cx="139.61" cy="530.12" r="2.5"/><circle cx="140.21" cy="512.63" r="2.5"/><circle cx="140.82" cy="527.13" r="2.5"/><circle cx="141.42" cy="501.95" r="2.5"/><circle cx="142.02" cy="506.79" r="2.5"/><circle cx="142.63" cy="536.45" r="2.5"/><circle cx="143.23" cy="511.38" r="2.5"/><circle cx="143.83" cy="526.32" r="2.5"/><circle cx="144.44" cy="462.1" r="2.5"/><circle cx="145.04" cy="513.45" r="2.5"/><circle cx="145.64" cy="535.61" r="2.5"/><circle cx="146.24" cy="516.2" r="2.5"/><circle cx="146.85" cy="516.29" r="2.5"/><circle cx="147.45" cy="502.78" r="2.5"/><circle cx="148.05" cy="526.24" r="2.5"/><circle cx="148.66" cy="505.09" r="2.5"/><circle cx="149.26" cy="525.19" r="2.5"/><circle cx="149.86" cy="516.68" r="2.5"/><circle cx="150.47" cy="532.86" r="2.5"/><circle cx="151.07" cy="496.99" r="2.5"/><circle cx="151.67" cy="506.59" r="2.5"/><circle cx="152.27" cy="486.05" r="2.5"/><circle cx="152.88" cy="505.63" r="2.5"/><circle cx="153.48" cy="503.33" r="2.5"/><circle cx="154.08" cy="503.3" r="2.5"/><circle cx="154.69" cy="519.12" r="2.5"/><circle cx="155.29" cy="513.16" r="2.5"/><circle cx="155.89" cy="497.49" r="2.5"/><circle cx="156.5" cy="516.6" r="2.5"/><circle cx="157.1" cy="510.1" r="2.5"/><circle cx="157.7" cy="512.33" r="2.5"/><circle cx="158.3" cy="505.33" r="2.5"/><circle cx="158.91" cy="515.96" r="2.5"/><circle cx="159.51" cy="513.55" r="2.5"/><circle cx="160.11" cy="509.14" r="2.5"/><circle cx="160.72" cy="510.6" r="2.5"/><circle cx="161.32" cy="521.15" r="2.5"/><circle cx="161.92" cy="501.75" r="2.5"/><circle cx="162.53" cy="525.77" r="2.5"/><circle cx="163.13" cy="524.63" r="2.5"/><circle cx="163.73" cy="525.45" r="2.5"/><circle cx="164.33" cy="500.67" r="2.5"/><circle cx="164.94" cy="515.18" r="2.5"/><circle cx="165.54" cy="521.81" r="2.5"/><circle cx="166.14" cy="523.54" r="2.5"/><circle cx="166.75" cy="506.37" r="2.5"/><circle cx="167.35" cy="535.3" r="2.5"/><circle cx="167.95" cy="524.82" r="2.5"/><circle cx="168.56" cy="504.04" r="2.5"/><circle cx="169.16" cy="523.84" r="2.5"/><circle cx="169.76" cy="514.17" r="2.5"/><circle cx="170.36" cy="537.74" r="2.5"/><circle cx="170.97" cy="515.37" r="2.5"/><circle cx="171.57" cy="511.01" r="2.5"/><circle cx="172.17" cy="495.64" r="2.5"/><circle cx="172.78" cy="515.94" r="2.5"/><circle cx="173.38" cy="524.02" r="2.5"/><circle cx="173.98" cy="530.29" r="2.5"/><circle cx="174.58" cy="512.29" r="2.5"/><circle cx="175.19" cy="513.84" r="2.5"/><circle cx="175.79" cy="506.99" r="2.5"/><circle cx="176.39" cy="514.92" r="2.5"/><circle cx="177" cy="515.01" r="2.5"/><circle cx="177.6" cy="517.6" r="2.5"/><circle cx="178.2" cy="515.24" r="2.5"/><circle cx="178.81" cy="507.63" r="2.5"/><circle cx="179.41" cy="513.42" r="2.5"/><circle cx="180.01" cy="507.99" r="2.5"/><circle cx="180.62" cy="543.84" r="2.5"/><circle cx="181.22" cy="503.54" r="2.5"/><circle cx="181.82" cy="525.96" r="2.5"/><circle cx="182.42" cy="489.47" r="2.5"/><circle cx="183.03" cy="504.54" r="2.5"/><circle cx="183.63" cy="518.55" r="2.5"/><circle cx="184.23" cy="498.11" r="2.5"/><circle cx="184.84" cy="507.73" r="2.5"/><circle cx="185.44" cy="514.53" r="2.5"/><circle cx="186.04" cy="514.59" r="2.5"/><circle cx="186.64" cy="518.39" r="2.5"/><circle cx="187.25" cy="506.81" r="2.5"/><circle cx="187.85" cy="495.46" r="2.5"/><circle cx="188.45" cy="510.61" r="2.5"/><circle cx="189.06" cy="502.28" r="2.5"/><circle cx="189.66" cy="486.16" r="2.5"/><circle cx="190.26" cy="519.94" r="2.5"/><circle cx="190.87" cy="503.63" r="2.5"/><circle cx="191.47" cy="509.68" r="2.5"/><circle cx="192.07" cy="517.8" r="2.5"/><circle cx="192.68" cy="517.28" r="2.5"/><circle cx="193.28" cy="506.04" r="2.5"/><circle cx="193.88" cy="500.96" r="2.5"/><circle cx="194.48" cy="511.42" r="2.5"/><circle cx="195.09" cy="504.84" r="2.5"/><circle cx="195.69" cy="490.16" r="2.5"/><circle cx="196.29" cy="501.89" r="2.5"/><circle cx="196.9" cy="495.46" r="2.5"/><circle cx="197.5" cy="499.78" r="2.5"/><circle cx="198.1" cy="499.34" r="2.5"/><circle cx="198.7" cy="484.5" r="2.5"/><circle cx="199.31" cy="497.57" r="2.5"/><circle cx="199.91" cy="502.84" r="2.5"/><circle cx="200.51" cy="496.32" r="2.5"/><circle cx="201.12" cy="514.06" r="2.5"/><circle cx="201.72" cy="507.53" r="2.5"/><circle cx="202.32" cy="494.97" r="2.5"/><circle cx="202.93" cy="496.61" r="2.5"/><circle cx="203.53" cy="486.38" r="2.5"/><circle cx="204.13" cy="503.12" r="2.5"/><circle cx="204.74" cy="519.15" r="2.5"/><circle cx="205.34" cy="481.56" r="2.5"/><circle cx="205.94" cy="490.8" r="2.5"/><circle cx="206.54" cy="514.28" r="2.5"/><circle cx="207.15" cy="487.4" r="2.5"/><circle cx="207.75" cy="502" r="2.5"/><circle cx="208.35" cy="521.67" r="2.5"/><circle cx="208.96" cy="505.76" r="2.5"/><circle cx="209.56" cy="506.12" r="2.5"/><circle cx="210.16" cy="482.45" r="2.5"/><circle cx="210.76" cy="508.01" r="2.5"/><circle cx="211.37" cy="501.48" r="2.5"/><circle cx="211.97" cy="501.13" r="2.5"/><circle cx="212.57" cy="501.64" r="2.5"/><circle cx="213.18" cy="506.91" r="2.5"/><circle cx="213.78" cy="493.85" r="2.5"/><circle cx="214.38" cy="483.75" r="2.5"/><circle cx="214.99" cy="488.04" r="2.5"/><circle cx="215.59" cy="504.39" r="2.5"/><circle cx="216.19" cy="506.15" r="2.5"/><circle cx="216.79" cy="491.54" r="2.5"/><circle cx="217.4" cy="499.92" r="2.5"/><circle cx="218" cy="498.4" r="2.5"/><circle cx="218.6" cy="509.24" r="2.5"/><circle cx="219.21" cy="468.69" r="2.5"/><circle cx="219.81" cy="479.36" r="2.5"/><circle cx="220.41" cy="499.44" r="2.5"/><circle cx="221.02" cy="478.09" r="2.5"/><circle cx="221.62" cy="472.64" r="2.5"/><circle cx="222.22" cy="512.93" r="2.5"/><circle cx="222.82" cy="492.04" r="2.5"/><circle cx="223.43" cy="489.59" r="2.5"/><circle cx="224.03" cy="477.53" r="2.5"/><circle cx="224.63" cy="485.3" r="2.5"/><circle cx="225.24" cy="485.81" r="2.5"/><circle cx="225.84" cy="483.24" r="2.5"/><circle cx="226.44" cy="461.56" r="2.5"/><circle cx="227.05" cy="457.51" r="2.5"/><circle cx="227.65" cy="486.31" r="2.5"/><circle cx="228.25" cy="490.03" r="2.5"/><circle cx="228.85" cy="449.62" r="2.5"/><circle cx="229.46" cy="489.19" r="2.5"/><circle cx="230.06" cy="483.99" r="2.5"/><circle cx="230.66" cy="476.55" r="2.5"/><circle cx="231.27" cy="470.9" r="2.5"/><circle cx="231.87" cy="464.17" r="2.5"/><circle cx="232.47" cy="470.43" r="2.5"/><circle cx="233.08" cy="483.56" r="2.5"/><circle cx="233.68" cy="467.68" r="2.5"/><circle cx="234.28" cy="469.75" r="2.5"/><circle cx="234.88" cy="451.15" r="2.5"/><circle cx="235.49" cy="471.18" r="2.5"/><circle cx="236.09" cy="484.95" r="2.5"/><circle cx="236.69" cy="481" r="2.5"/><circle cx="237.3" cy="452.86" r="2.5"/><circle cx="237.9" cy="473.97" r="2.5"/><circle cx="238.5" cy="490.41" r="2.5"/><circle cx="239.11" cy="472.93" r="2.5"/><circle cx="239.71" cy="465.81" r="2.5"/><circle cx="240.31" cy="452.02" r="2.5"/><circle cx="240.91" cy="475.47" r="2.5"/><circle cx="241.52" cy="456.27" r="2.5"/><circle cx="242.12" cy="454.11" r="2.5"/><circle cx="242.72" cy="469.78" r="2.5"/><circle cx="243.33" cy="462.76" r="2.5"/><circle cx="243.93" cy="435.95" r="2.5"/><circle cx="244.53" cy="434.83" r="2.5"/><circle cx="245.14" cy="444.17" r="2.5"/><circle cx="245.74" cy="449.13" r="2.5"/><circle cx="246.34" cy="437.06" r="2.5"/><circle cx="246.94" cy="451.7" r="2.5"/><circle cx="247.55" cy="450.85" r="2.5"/><circle cx="248.15" cy="460.38" r="2.5"/><circle cx="248.75" cy="449.02" r="2.5"/><circle cx="249.36" cy="449.87" r="2.5"/><circle cx="249.96" cy="413.01" r="2.5"/><circle cx="250.56" cy="450.74" r="2.5"/><circle cx="251.17" cy="431.72" r="2.5"/><circle cx="251.77" cy="430.82" r="2.5"/><circle cx="252.37" cy="449.85" r="2.5"/><circle cx="252.97" cy="432.21" r="2.5"/><circle cx="253.58" cy="474.8" r="2.5"/><circle cx="254.18" cy="445.43" r="2.5"/><circle cx="254.78" cy="435.39" r="2.5"/><circle cx="255.39" cy="476.82" r="2.5"/><circle cx="255.99" cy="460.68" r="2.5"/><circle cx="256.59" cy="432.03" r="2.5"/><circle cx="257.2" cy="448.58" r="2.5"/><circle cx="257.8" cy="459.09" r="2.5"/><circle cx="258.4" cy="449.53" r="2.5"/><circle cx="259" cy="451.43" r="2.5"/><circle cx="259.61" cy="434.93" r="2.5"/><circle cx="260.21" cy="438.12" r="2.5"/><circle cx="260.81" cy="447.25" r="2.5"/><circle cx="261.42" cy="451.92" r="2.5"/><circle cx="262.02" cy="443.81" r="2.5"/><circle cx="262.62" cy="425.88" r="2.5"/><circle cx="263.23" cy="438.11" r="2.5"/><circle cx="263.83" cy="434.12" r="2.5"/><circle cx="264.43" cy="443.97" r="2.5"/><circle cx="265.03" cy="458.31" r="2.5"/><circle cx="265.64" cy="450.6" r="2.5"/><circle cx="266.24" cy="432.88" r="2.5"/><circle cx="266.84" cy="439.63" r="2.5"/><circle cx="267.45" cy="452.26" r="2.5"/><circle cx="268.05" cy="461.14" r="2.5"/><circle cx="268.65" cy="438.72" r="2.5"/><circle cx="269.26" cy="444.22" r="2.5"/><circle cx="269.86" cy="444.09" r="2.5"/><circle cx="270.46" cy="443.55" r="2.5"/><circle cx="271.06" cy="435.42" r="2.5"/><circle cx="271.67" cy="435.01" r="2.5"/><circle cx="272.27" cy="426.19" r="2.5"/><circle cx="272.87" cy="426.35" r="2.5"/><circle cx="273.48" cy="420.91" r="2.5"/><circle cx="274.08" cy="427.37" r="2.5"/><circle cx="274.68" cy="441.82" r="2.5"/><circle cx="275.29" cy="438.03" r="2.5"/><circle cx="275.89" cy="430.82" r="2.5"/><circle cx="276.49" cy="440.94" r="2.5"/><circle cx="277.09" cy="429.75" r="2.5"/><circle cx="277.7" cy="421.82" r="2.5"/><circle cx="278.3" cy="446.68" r="2.5"/><circle cx="278.9" cy="458.91" r="2.5"/><circle cx="279.51" cy="420.76" r="2.5"/><circle cx="280.11" cy="435.64" r="2.5"/><circle cx="280.71" cy="426.61" r="2.5"/><circle cx="281.32" cy="452.57" r="2.5"/><circle cx="281.92" cy="413.12" r="2.5"/><circle cx="282.52" cy="425.68" r="2.5"/><circle cx="283.12" cy="436.57" r="2.5"/><circle cx="283.73" cy="439.28" r="2.5"/><circle cx="284.33" cy="433.13" r="2.5"/><circle cx="284.93" cy="436.54" r="2.5"/><circle cx="285.54" cy="437.79" r="2.5"/><circle cx="286.14" cy="448.38" r="2.5"/><circle cx="286.74" cy="417.68" r="2.5"/><circle cx="287.35" cy="434.18" r="2.5"/><circle cx="287.95" cy="432.53" r="2.5"/><circle cx="288.55" cy="432.12" r="2.5"/><circle cx="289.15" cy="463.33" r="2.5"/><circle cx="289.76" cy="426.19" r="2.5"/><circle cx="290.36" cy="436.98" r="2.5"/><circle cx="290.96" cy="436.28" r="2.5"/><circle cx="291.57" cy="431.5" r="2.5"/><circle cx="292.17" cy="444.67" r="2.5"/><circle cx="292.77" cy="421.22" r="2.5"/><circle cx="293.38" cy="440.76" r="2.5"/><circle cx="293.98" cy="443.24" r="2.5"/><circle cx="294.58" cy="442.52" r="2.5"/><circle cx="295.19" cy="429.26" r="2.5"/><circle cx="295.79" cy="421.56" r="2.5"/><circle cx="296.39" cy="438.55" r="2.5"/><circle cx="296.99" cy="450.09" r="2.5"/><circle cx="297.6" cy="416.95" r="2.5"/><circle cx="298.2" cy="444.02" r="2.5"/><circle cx="298.8" cy="414.93" r="2.5"/><circle cx="299.41" cy="430.78" r="2.5"/><circle cx="300.01" cy="438.89" r="2.5"/><circle cx="300.61" cy="437.99" r="2.5"/><circle cx="301.21" cy="423.73" r="2.5"/><circle cx="301.82" cy="418.11" r="2.5"/><circle cx="302.42" cy="431.89" r="2.5"/><circle cx="303.02" cy="417.08" r="2.5"/><circle cx="303.63" cy="402.33" r="2.5"/><circle cx="304.23" cy="431.58" r="2.5"/><circle cx="304.83" cy="443.49" r="2.5"/><circle cx="305.44" cy="442.13" r="2.5"/><circle cx="306.04" cy="446.29" r="2.5"/><circle cx="306.64" cy="436.52" r="2.5"/><circle cx="307.25" cy="437.46" r="2.5"/><circle cx="307.85" cy="445.01" r="2.5"/><circle cx="308.45" cy="421.1" r="2.5"/><circle cx="309.05" cy="366.94" r="2.5"/><circle cx="309.66" cy="444.52" r="2.5"/><circle cx="310.26" cy="401.64" r="2.5"/><circle cx="310.86" cy="414.01" r="2.5"/><circle cx="311.47" cy="420.46" r="2.5"/><circle cx="312.07" cy="421.16" r="2.5"/><circle cx="312.67" cy="404.18" r="2.5"/><circle cx="313.27" cy="419.86" r="2.5"/><circle cx="313.88" cy="425.58" r="2.5"/><circle cx="314.48" cy="442.19" r="2.5"/><circle cx="315.08" cy="427.22" r="2.5"/><circle cx="315.69" cy="435.54" r="2.5"/><circle cx="316.29" cy="435.03" r="2.5"/><circle cx="316.89" cy="434.99" r="2.5"/><circle cx="317.5" cy="426.27" r="2.5"/><circle cx="318.1" cy="429.77" r="2.5"/><circle cx="318.7" cy="414.24" r="2.5"/><circle cx="319.31" cy="442.24" r="2.5"/><circle cx="319.91" cy="427.28" r="2.5"/><circle cx="320.51" cy="401.14" r="2.5"/><circle cx="321.11" cy="424.32" r="2.5"/><circle cx="321.72" cy="409.32" r="2.5"/><circle cx="322.32" cy="409.96" r="2.5"/><circle cx="322.92" cy="407.51" r="2.5"/><circle cx="323.53" cy="414.78" r="2.5"/><circle cx="324.13" cy="441.77" r="2.5"/><circle cx="324.73" cy="427.36" r="2.5"/><circle cx="325.33" cy="428.66" r="2.5"/><circle cx="325.94" cy="443.49" r="2.5"/><circle cx="326.54" cy="429.44" r="2.5"/><circle cx="327.14" cy="439.37" r="2.5"/><circle cx="327.75" cy="444.54" r="2.5"/><circle cx="328.35" cy="420.36" r="2.5"/><circle cx="328.95" cy="423.37" r="2.5"/><circle cx="329.56" cy="431.38" r="2.5"/><circle cx="330.16" cy="434.51" r="2.5"/><circle cx="330.76" cy="429.02" r="2.5"/><circle cx="331.37" cy="426.89" r="2.5"/><circle cx="331.97" cy="426.82" r="2.5"/><circle cx="332.57" cy="422.03" r="2.5"/><circle cx="333.17" cy="426.69" r="2.5"/><circle cx="333.78" cy="415.91" r="2.5"/><circle cx="334.38" cy="413.92" r="2.5"/><circle cx="334.98" cy="415.79" r="2.5"/><circle cx="335.59" cy="428.63" r="2.5"/><circle cx="336.19" cy="427.79" r="2.5"/><circle cx="336.79" cy="414.07" r="2.5"/><circle cx="337.39" cy="421.92" r="2.5"/><circle cx="338" cy="419.71" r="2.5"/><circle cx="338.6" cy="450.83" r="2.5"/><circle cx="339.2" cy="453.26" r="2.5"/><circle cx="339.81" cy="414.11" r="2.5"/><circle cx="340.41" cy="413.96" r="2.5"/><circle cx="341.01" cy="400.09" r="2.5"/><circle cx="341.62" cy="408.45" r="2.5"/><circle cx="342.22" cy="414.61" r="2.5"/><circle cx="342.82" cy="416.99" r="2.5"/><circle cx="343.43" cy="435.24" r="2.5"/><circle cx="344.03" cy="405.4" r="2.5"/><circle cx="344.63" cy="424.2" r="2.5"/><circle cx="345.23" cy="409.79" r="2.5"/><circle cx="345.84" cy="413.42" r="2.5"/><circle cx="346.44" cy="412.25" r="2.5"/><circle cx="347.04" cy="404.06" r="2.5"/><circle cx="347.65" cy="421.53" r="2.5"/><circle cx="348.25" cy="419.97" r="2.5"/><circle cx="348.85" cy="425.73" r="2.5"/><circle cx="349.45" cy="419.35" r="2.5"/><circle cx="350.06" cy="392.94" r="2.5"/><circle cx="350.66" cy="418.69" r="2.5"/><circle cx="351.26" cy="398.6" r="2.5"/><circle cx="351.87" cy="402.96" r="2.5"/><circle cx="352.47" cy="403.96" r="2.5"/><circle cx="353.07" cy="402.77" r="2.5"/><circle cx="353.68" cy="425.8" r="2.5"/><circle cx="354.28" cy="386.46" r="2.5"/><circle cx="354.88" cy="391.98" r="2.5"/><circle cx="355.49" cy="420.99" r="2.5"/><circle cx="356.09" cy="377.92" r="2.5"/><circle cx="356.69" cy="420.42" r="2.5"/><circle cx="357.29" cy="407.29" r="2.5"/><circle cx="357.9" cy="424.92" r="2.5"/></g><path d="M117.3 508.09L213.78 508.09L213.78 479.55L242.72 479.55L242.72 430.75L357.9 430.75" stroke="#6495ed" stroke-width="1.5" fill="none"/><rect x="105.75" y="356.2" width="263.35" height="196.7" fill="none" stroke="#262626" stroke-width="0.8"/><text x="86.26" y="550.6" font-size="9.66" textLength="14.07" lengthAdjust="spacingAndGlyphs">0.0</text><text x="86.27" y="526.2" font-size="9.66" textLength="13.87" lengthAdjust="spacingAndGlyphs">0.2</text><text x="86.26" y="501.8" font-size="9.66" textLength="14.06" lengthAdjust="spacingAndGlyphs">0.4</text><text x="86.26" y="477.4" font-size="9.66" textLength="14.15" lengthAdjust="spacingAndGlyphs">0.6</text><text x="86.26" y="453" font-size="9.66" textLength="14.1" lengthAdjust="spacingAndGlyphs">0.8</text><text x="86.32" y="428.6" font-size="9.66" textLength="14.01" lengthAdjust="spacingAndGlyphs">1.0</text><text x="86.33" y="404.2" font-size="9.66" textLength="13.8" lengthAdjust="spacingAndGlyphs">1.2</text><text x="86.32" y="379.8" font-size="9.66" textLength="14" lengthAdjust="spacingAndGlyphs">1.4</text><text x="114.61" y="565" font-size="9.66" textLength="5.35" lengthAdjust="spacingAndGlyphs">0</text><text x="141.97" y="565" font-size="9.66" textLength="11.08" lengthAdjust="spacingAndGlyphs">50</text><text x="169.16" y="565" font-size="9.66" textLength="16.92" lengthAdjust="spacingAndGlyphs">100</text><text x="199.31" y="565" font-size="9.66" textLength="16.92" lengthAdjust="spacingAndGlyphs">150</text><text x="229.37" y="565" font-size="9.66" textLength="17.01" lengthAdjust="spacingAndGlyphs">200</text><text x="259.52" y="565" font-size="9.66" textLength="17.01" lengthAdjust="spacingAndGlyphs">250</text><text x="289.82" y="565" font-size="9.66" textLength="16.85" lengthAdjust="spacingAndGlyphs">300</text><text x="319.97" y="565" font-size="9.66" textLength="16.85" lengthAdjust="spacingAndGlyphs">350</text><text x="350.04" y="565" font-size="9.66" textLength="16.93" lengthAdjust="spacingAndGlyphs">400</text><path d="M103.25 547.5H105.75M103.25 523.1H105.75M103.25 498.7H105.75M103.25 474.3H105.75M103.25 449.9H105.75M103.25 425.5H105.75M103.25 401.1H105.75M103.25 376.7H105.75M117.3 552.9V555.4M147.45 552.9V555.4M177.6 552.9V555.4M207.75 552.9V555.4M237.9 552.9V555.4M268.05 552.9V555.4M298.2 552.9V555.4M328.35 552.9V555.4M358.5 552.9V555.4" stroke="#262626" stroke-width="0.8" fill="none"/><text x="229.32" y="584.5" font-size="16.3" textLength="13.33" lengthAdjust="spacingAndGlyphs">m</text><text x="242.89" y="588.6" font-size="10.8" textLength="6.34" lengthAdjust="spacingAndGlyphs">z</text><text x="70.14" y="455.9" font-size="15.4" textLength="18.3" lengthAdjust="spacingAndGlyphs" transform="rotate(-90 80 456)">MI</text><text x="87.93" y="458.3" font-size="10.8" textLength="4.63" lengthAdjust="spacingAndGlyphs" transform="rotate(-90 80 456)">z</text><rect x="547.0" y="367.3" width="87.2" height="40.1" fill="#fb8c23"/><text x="564.18" y="391" font-size="7.9" textLength="52.94" lengthAdjust="spacingAndGlyphs" style="stroke:#111;stroke-width:0.3;" fill="#111">samples = 400</text><text x="566.56" y="402.8" font-size="7.9" textLength="48.69" lengthAdjust="spacingAndGlyphs" style="stroke:#111;stroke-width:0.3;" fill="#111">value = 0.656</text><rect x="489.8" y="432.3" width="87.2" height="40.1" fill="#feb76c"/><text x="506.68" y="456.2" font-size="7.9" textLength="53.29" lengthAdjust="spacingAndGlyphs" style="stroke:#111;stroke-width:0.3;" fill="#111">samples = 208</text><text x="509.36" y="467.7" font-size="7.9" textLength="47.98" lengthAdjust="spacingAndGlyphs" style="stroke:#111;stroke-width:0.3;" fill="#111">value = 0.378</text><rect x="597.6" y="440.1" width="88.4" height="28.5" fill="#fef3e0"/><text x="614.78" y="452" font-size="7.9" textLength="53.35" lengthAdjust="spacingAndGlyphs" style="stroke:#111;stroke-width:0.3;" fill="#111">samples = 192</text><text x="617.26" y="463.8" font-size="7.9" textLength="47.74" lengthAdjust="spacingAndGlyphs" style="stroke:#111;stroke-width:0.3;" fill="#111">value = 0.957</text><rect x="439.0" y="505.8" width="88" height="29.1" fill="#fec88f"/><text x="455.87" y="518.8" font-size="7.9" textLength="53.71" lengthAdjust="spacingAndGlyphs" style="stroke:#111;stroke-width:0.3;" fill="#111">samples = 159</text><text x="458.86" y="530.2" font-size="7.9" textLength="48.18" lengthAdjust="spacingAndGlyphs" style="stroke:#111;stroke-width:0.3;" fill="#111">value = 0.323</text><rect x="546.9" y="505.8" width="87.4" height="29.1" fill="#fef3e0"/><text x="566.27" y="518.8" font-size="7.9" textLength="49.1" lengthAdjust="spacingAndGlyphs" style="stroke:#111;stroke-width:0.3;" fill="#111">samples = 49</text><text x="567.06" y="530.2" font-size="7.9" textLength="48.04" lengthAdjust="spacingAndGlyphs" style="stroke:#111;stroke-width:0.3;" fill="#111">value = 0.557</text><text x="576.29" y="378.8" font-size="9" textLength="4.93" lengthAdjust="spacingAndGlyphs" style="font-family:'Liberation Serif';font-style:italic;stroke:#111;stroke-width:0.2;" fill="#111">Z</text><text x="584.51" y="379.3" font-size="10.3" textLength="6.37" lengthAdjust="spacingAndGlyphs" style="font-family:'Liberation Serif';stroke:#111;stroke-width:0.25;" fill="#111">≤</text><text x="594.18" y="378.8" font-size="9.3" textLength="3.03" lengthAdjust="spacingAndGlyphs" style="font-family:'Liberation Serif';font-style:italic;" fill="#111">z</text><text x="597.8" y="381.6" font-size="6.6" textLength="9.06" lengthAdjust="spacingAndGlyphs" style="font-family:'Liberation Serif';font-style:italic;stroke:#111;stroke-width:0.15;" fill="#111">208</text><text x="517.99" y="444.5" font-size="9" textLength="4.93" lengthAdjust="spacingAndGlyphs" style="font-family:'Liberation Serif';font-style:italic;stroke:#111;stroke-width:0.2;" fill="#111">Z</text><text x="526.21" y="445" font-size="10.3" textLength="6.37" lengthAdjust="spacingAndGlyphs" style="font-family:'Liberation Serif';stroke:#111;stroke-width:0.25;" fill="#111">≤</text><text x="535.88" y="444.5" font-size="9.3" textLength="3.03" lengthAdjust="spacingAndGlyphs" style="font-family:'Liberation Serif';font-style:italic;" fill="#111">z</text><text x="539.28" y="447.3" font-size="6.6" textLength="9.29" lengthAdjust="spacingAndGlyphs" style="font-family:'Liberation Serif';font-style:italic;stroke:#111;stroke-width:0.15;" fill="#111">160</text><line x1="576.9" y1="408.8" x2="558.47" y2="426.99" stroke="#000" stroke-width="1.1"/><path d="M554.2 431.2L556.64 425.14L560.3 428.84Z" fill="#000"/><line x1="607.9" y1="407.9" x2="632.46" y2="432.55" stroke="#000" stroke-width="1.1"/><path d="M636.7 436.8L630.62 434.39L634.31 430.71Z" fill="#000"/><line x1="510.7" y1="473.6" x2="482.8" y2="500.72" stroke="#000" stroke-width="1.1"/><path d="M478.5 504.9L480.99 498.85L484.61 502.58Z" fill="#000"/><line x1="549.3" y1="473.6" x2="577.76" y2="500.76" stroke="#000" stroke-width="1.1"/><path d="M582.1 504.9L575.96 502.64L579.55 498.88Z" fill="#000"/>
</svg></body></html>
